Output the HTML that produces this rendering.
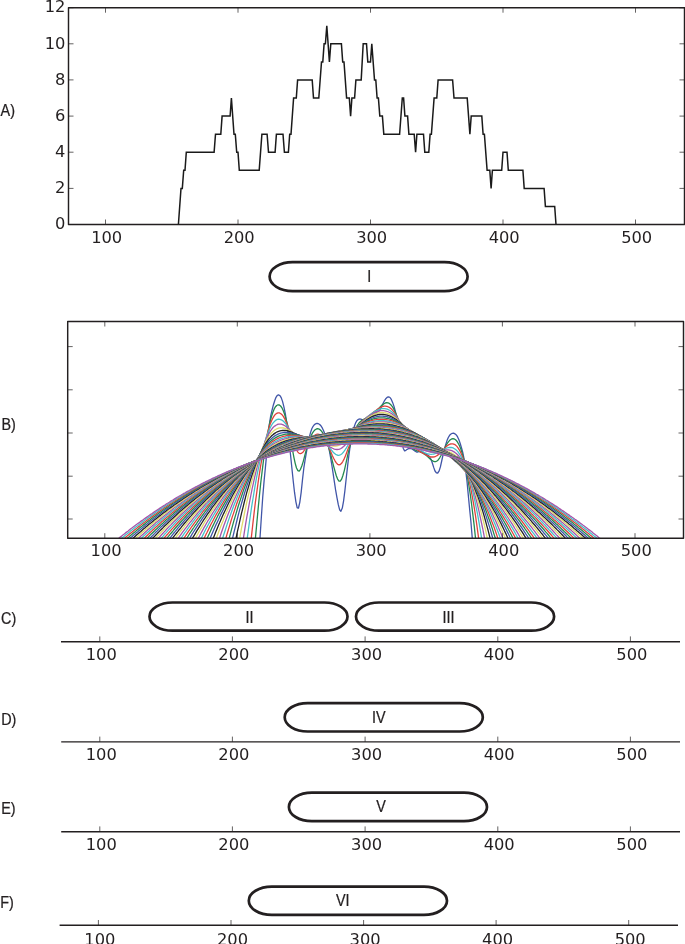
<!DOCTYPE html>
<html lang="en"><head><meta charset="utf-8"><title>Figure</title>
<style>
html,body{margin:0;padding:0;background:#fff;overflow:hidden}
svg{display:block}
.t{font-family:"DejaVu Sans","Liberation Sans",sans-serif;font-size:16.3px;fill:#231f20}
.l{font-family:"Liberation Sans","DejaVu Sans",sans-serif;font-size:16px;fill:#231f20;stroke:#231f20;stroke-width:.25}
.ax{stroke:#231f20;stroke-width:1.45;fill:none;stroke-linejoin:round}
.ln{stroke:#231f20;stroke-width:1.4;fill:none}
.tk{stroke:#231f20;stroke-width:0.7;fill:none}
.pill{stroke:#231f20;stroke-width:2.7;fill:none}
.c{fill:none;stroke-width:1.3;stroke-linejoin:round}
</style></head>
<body>
<svg width="685" height="944" viewBox="0 0 685 944">
<rect width="685" height="944" fill="#fff"/>
<!-- panel A -->
<polyline fill="none" stroke="#1a1a1a" stroke-width="1.5" stroke-linejoin="miter" points="178.4,224.5 181,188.4 182.3,188.4 183.7,170.3 185,170.3 186.3,152.2 214.1,152.2 215.5,134.2 220.8,134.2 222.1,116.1 230.1,116.1 231.4,98 234,134.2 235.3,134.2 236.7,152.2 238,152.2 239.3,170.3 259.2,170.3 261.9,134.2 267.1,134.2 268.5,152.2 275.1,152.2 276.4,134.2 283,134.2 284.4,152.2 288.4,152.2 289.7,134.2 291,134.2 293.6,98 296.3,98 297.6,79.9 312.2,79.9 313.5,98 318.8,98 321.5,61.9 322.8,61.9 324.1,43.8 325.4,43.8 326.8,25.7 329.4,61.9 330.8,43.8 341.4,43.8 342.7,61.9 344,61.9 346.6,98 349.3,98 350.6,116.1 351.9,98 354.6,98 355.9,79.9 361.2,79.9 363.2,43.8 366.5,43.8 367.8,61.9 370.5,61.9 371.8,43.8 374.5,79.9 375.8,79.9 377.1,98 378.4,98 379.8,116.1 382.4,116.1 383.8,134.2 399.6,134.2 402.3,98 403.6,98 404.9,116.1 407.6,116.1 408.9,134.2 414.2,134.2 415.6,152.2 416.9,134.2 423.5,134.2 424.8,152.2 428.8,152.2 430.1,134.2 431.4,134.2 434.1,98 436.8,98 438.1,79.9 452.6,79.9 454,98 467.2,98 469.9,134.2 471.2,116.1 481.8,116.1 483.1,134.2 484.4,134.2 487.1,170.3 489.8,170.3 491.1,188.4 492.4,170.3 501.7,170.3 503,152.2 507,152.2 508.3,170.3 522.9,170.3 524.2,188.4 544.1,188.4 545.4,206.4 554.7,206.4 556,224.5"/>
<rect class="ax" x="68.5" y="7.7" width="616" height="216.8"/>
<path class="tk" d="M105.5 224.5v-5M105.5 7.7v5M238 224.5v-5M238 7.7v5M370.5 224.5v-5M370.5 7.7v5M503 224.5v-5M503 7.7v5M635.5 224.5v-5M635.5 7.7v5M68.5 224.5h5M684.5 224.5h-5M68.5 188.4h5M684.5 188.4h-5M68.5 152.2h5M684.5 152.2h-5M68.5 116.1h5M684.5 116.1h-5M68.5 79.9h5M684.5 79.9h-5M68.5 43.8h5M684.5 43.8h-5M68.5 7.7h5M684.5 7.7h-5"/>
<text class="t" x="106.7" y="242.5" text-anchor="middle">100</text>
<text class="t" x="239.2" y="242.5" text-anchor="middle">200</text>
<text class="t" x="371.7" y="242.5" text-anchor="middle">300</text>
<text class="t" x="504.2" y="242.5" text-anchor="middle">400</text>
<text class="t" x="636.7" y="242.5" text-anchor="middle">500</text>
<text class="t" x="65.4" y="229.2" text-anchor="end">0</text>
<text class="t" x="65.4" y="193.1" text-anchor="end">2</text>
<text class="t" x="65.4" y="156.9" text-anchor="end">4</text>
<text class="t" x="65.4" y="120.8" text-anchor="end">6</text>
<text class="t" x="65.4" y="84.6" text-anchor="end">8</text>
<text class="t" x="65.4" y="48.5" text-anchor="end">10</text>
<text class="t" x="65.4" y="12.4" text-anchor="end">12</text>
<text class="l" transform="translate(0.6 116) scale(.9 1)">A)</text>
<rect class="pill" x="269.6" y="262.1" width="198" height="29" rx="23" ry="14.5"/>
<text class="l" transform="translate(369.2 281.9) scale(.9 1)" text-anchor="middle">I</text>
<!-- panel B -->
<clipPath id="cb"><rect x="67.7" y="321.5" width="615.8" height="216.7"/></clipPath>
<g clip-path="url(#cb)">
<polyline class="c" stroke="#4055a8" points="258.8,557 260.1,536.5 261.4,516.5 262.7,497.5 264.1,480.9 265.4,467.5 266.7,453.6 268,437.1 269.4,424 270.7,415.9 272,410.3 273.3,405.2 274.7,400.7 276,397.3 277.3,395.3 278.6,394.8 280,395.7 281.3,397.9 282.6,401.6 283.9,406.8 285.3,413.6 286.6,422 287.9,431.9 289.2,443.2 290.6,455.5 291.9,468.2 293.2,480.7 294.5,492.2 295.9,501.8 297.2,507.8 298.5,508 299.8,502.3 301.2,492.1 302.5,479.6 303.8,468.2 305.2,459.3 306.5,451.9 307.8,444.7 309.1,437.9 310.5,432.6 311.8,428.8 313.1,426.3 314.4,424.6 315.8,423.7 317.1,423.4 318.4,423.7 319.7,424.5 321.1,426 322.4,428.2 323.7,431.1 325,434.5 326.4,438.4 327.7,443 329,448.7 330.3,455.9 331.7,464.1 333,472.7 334.3,481.4 335.6,489.9 337,497.8 338.3,504.7 339.6,509.7 340.9,511.2 342.3,508.1 343.6,500.8 344.9,490.6 346.2,478.5 347.6,466.1 348.9,455.1 350.2,446 351.5,438.3 352.9,431.9 354.2,426.8 355.5,423.1 356.8,420.7 358.2,419.4 359.5,419 360.8,419.2 362.1,419.6 363.5,419.9 364.8,419.8 366.1,419.4 367.4,418.8 368.8,418.1 370.1,417.3 371.4,416.4 372.8,415.4 374.1,414.4 375.4,413.4 376.7,412.5 378.1,411.6 379.4,410.4 380.7,408.3 382,405.6 383.4,402.8 384.7,400.3 386,398.4 387.3,397.2 388.7,396.9 390,397.5 391.3,399.4 392.6,402.4 394,406.4 395.3,411.1 396.6,416 397.9,421 399.3,426.2 400.6,432.5 401.9,440.4 403.2,448.2 404.6,450.9 405.9,450.3 407.2,449.3 408.5,448.7 409.9,448.5 411.2,448.6 412.5,449.2 413.8,450.2 415.2,451.2 416.5,452 417.8,452 419.1,451.6 420.5,451.3 421.8,451.6 423.1,452.4 424.4,453.3 425.8,454.1 427.1,454.7 428.4,455.5 429.7,457 431.1,459.6 432.4,463.2 433.7,467.4 435,471 436.4,472.9 437.7,473 439,471.2 440.4,466.9 441.7,461 443,455 444.3,449.5 445.7,444.6 447,440.6 448.3,437.5 449.6,435.3 451,434 452.3,433.3 453.6,433.2 454.9,433.8 456.3,434.9 457.6,436.9 458.9,439.8 460.2,443.5 461.6,448.1 462.9,453 464.2,459.7 465.5,468.9 466.9,480.3 468.2,494.1 469.5,507.8 470.8,520.5 472.2,537.2 473.5,558.9"/>
<polyline class="c" stroke="#23894f" points="254.1,554.4 255.4,538.4 256.8,523.3 258.1,509.1 259.4,495.7 260.7,483.3 262.1,471.7 263.4,461.1 264.7,451.4 266,442.7 267.4,434.8 268.7,427.9 270,422 271.4,416.9 272.7,412.7 274,409.4 275.3,407 276.7,405.5 278,404.8 279.3,405 280.6,406 282,407.9 283.3,410.7 284.6,414.3 285.9,418.7 287.3,423.9 288.6,429.8 289.9,436.3 291.2,443.3 292.6,450.4 293.9,457.3 295.2,463.3 296.5,468 297.9,470.6 299.2,471.1 300.5,469.3 301.8,466 303.2,461.6 304.5,456.6 305.8,451.7 307.1,447 308.5,442.7 309.8,438.9 311.1,435.7 312.4,433.1 313.8,431.1 315.1,429.8 316.4,429 317.7,428.7 319.1,429.1 320.4,430 321.7,431.4 323,433.3 324.4,435.8 325.7,438.8 327,442.3 328.3,446.4 329.7,450.8 331,455.7 332.3,460.8 333.6,466.1 335,471.2 336.3,475.7 337.6,479.1 339,481.1 340.3,481.1 341.6,479.2 342.9,475.5 344.3,470.6 345.6,464.8 346.9,458.8 348.2,452.9 349.6,447.3 350.9,442.1 352.2,437.6 353.5,433.6 354.9,430.2 356.2,427.4 357.5,425.1 358.8,423.3 360.2,421.8 361.5,420.7 362.8,419.7 364.1,419 365.5,418.3 366.8,417.6 368.1,416.9 369.4,416.2 370.8,415.4 372.1,414.4 373.4,413.4 374.7,412.3 376.1,411.1 377.4,409.7 378.7,408.4 380,407.1 381.4,405.8 382.7,404.6 384,403.7 385.3,403 386.7,402.7 388,402.9 389.3,403.4 390.6,404.5 392,406.1 393.3,408.1 394.6,410.7 395.9,413.7 397.3,417.1 398.6,420.8 399.9,424.6 401.2,428.6 402.6,432.4 403.9,435.9 405.2,439.1 406.6,441.9 407.9,444.1 409.2,445.9 410.5,447.3 411.9,448.3 413.2,449.1 414.5,449.7 415.8,450.3 417.2,450.8 418.5,451.2 419.8,451.7 421.1,452.3 422.5,453 423.8,453.7 425.1,454.6 426.4,455.6 427.8,456.8 429.1,458 430.4,459.2 431.7,460.3 433.1,461.1 434.4,461.6 435.7,461.6 437,461 438.4,459.7 439.7,457.8 441,455.5 442.3,452.9 443.7,450.2 445,447.5 446.3,445 447.6,442.8 449,441.1 450.3,439.8 451.6,439 452.9,438.7 454.3,439 455.6,439.8 456.9,441.2 458.2,443.3 459.6,446 460.9,449.3 462.2,453.4 463.5,458.1 464.9,463.6 466.2,469.9 467.5,477.1 468.8,485 470.2,493.8 471.5,503.5 472.8,514.2 474.2,525.7 475.5,538.2 476.8,551.7"/>
<polyline class="c" stroke="#e0413c" points="250.1,548.6 251.5,536.1 252.8,524.2 254.1,512.9 255.4,502.2 256.8,492.1 258.1,482.7 259.4,473.8 260.7,465.5 262.1,457.9 263.4,450.8 264.7,444.4 266,438.6 267.4,433.3 268.7,428.7 270,424.6 271.4,421.2 272.7,418.3 274,416.1 275.3,414.4 276.7,413.3 278,412.8 279.3,412.9 280.6,413.5 282,414.7 283.3,416.4 284.6,418.6 285.9,421.4 287.3,424.5 288.6,428 289.9,431.8 291.2,435.8 292.6,439.8 293.9,443.6 295.2,447.1 296.5,450 297.9,452.1 299.2,453.4 300.5,453.7 301.8,453.1 303.2,451.9 304.5,450 305.8,447.9 307.1,445.5 308.5,443.2 309.8,441 311.1,439 312.4,437.3 313.8,436 315.1,435 316.4,434.4 317.7,434.2 319.1,434.4 320.4,435 321.7,436 323,437.4 324.4,439.2 325.7,441.3 327,443.7 328.3,446.4 329.7,449.3 331,452.3 332.3,455.4 333.6,458.2 335,460.8 336.3,462.9 337.6,464.3 339,464.8 340.3,464.5 341.6,463.3 342.9,461.3 344.3,458.6 345.6,455.4 346.9,452 348.2,448.4 349.6,444.9 350.9,441.4 352.2,438.1 353.5,435.1 354.9,432.3 356.2,429.8 357.5,427.6 358.8,425.6 360.2,423.8 361.5,422.2 362.8,420.8 364.1,419.5 365.5,418.4 366.8,417.3 368.1,416.2 369.4,415.2 370.8,414.2 372.1,413.2 373.4,412.2 374.7,411.2 376.1,410.3 377.4,409.3 378.7,408.5 380,407.7 381.4,407 382.7,406.5 384,406.2 385.3,406.1 386.7,406.3 388,406.7 389.3,407.4 390.6,408.3 392,409.6 393.3,411.1 394.6,412.9 395.9,415 397.3,417.3 398.6,419.8 399.9,422.4 401.2,425.2 402.6,428 403.9,430.8 405.2,433.5 406.6,436.1 407.9,438.5 409.2,440.7 410.5,442.7 411.9,444.5 413.2,446 414.5,447.4 415.8,448.5 417.2,449.6 418.5,450.5 419.8,451.4 421.1,452.2 422.5,453 423.8,453.8 425.1,454.5 426.4,455.2 427.8,455.8 429.1,456.4 430.4,456.8 431.7,457 433.1,457 434.4,456.8 435.7,456.3 437,455.6 438.4,454.6 439.7,453.5 441,452.1 442.3,450.7 443.7,449.3 445,447.9 446.3,446.6 447.6,445.5 449,444.6 450.3,444 451.6,443.8 452.9,443.8 454.3,444.3 455.6,445.1 456.9,446.4 458.2,448.1 459.6,450.3 460.9,452.9 462.2,456 463.5,459.6 464.9,463.7 466.2,468.3 467.5,473.5 468.8,479.1 470.2,485.3 471.5,492.1 472.8,499.4 474.2,507.3 475.5,515.7 476.8,524.8 478.1,534.4 479.5,544.6 480.1,549.9"/>
<polyline class="c" stroke="#45c0c8" points="245.5,551.7 246.8,541.2 248.2,531.2 249.5,521.6 250.8,512.5 252.1,503.8 253.5,495.5 254.8,487.6 256.1,480.2 257.4,473.2 258.8,466.6 260.1,460.5 261.4,454.8 262.7,449.5 264.1,444.7 265.4,440.3 266.7,436.3 268,432.7 269.4,429.6 270.7,426.8 272,424.5 273.3,422.6 274.7,421.2 276,420.1 277.3,419.4 278.6,419.2 280,419.3 281.3,419.8 282.6,420.6 283.9,421.7 285.3,423.2 286.6,425 287.9,426.9 289.2,429.1 290.6,431.4 291.9,433.7 293.2,436 294.5,438.2 295.9,440.2 297.2,441.9 298.5,443.3 299.8,444.3 301.2,444.9 302.5,445.1 303.8,444.9 305.2,444.5 306.5,443.8 307.8,442.9 309.1,442 310.5,441.1 311.8,440.3 313.1,439.5 314.4,439 315.8,438.6 317.1,438.4 318.4,438.5 319.7,438.8 321.1,439.4 322.4,440.2 323.7,441.3 325,442.5 326.4,443.9 327.7,445.5 329,447.1 330.3,448.8 331.7,450.4 333,452 334.3,453.3 335.6,454.3 337,455 338.3,455.3 339.6,455.1 340.9,454.5 342.3,453.4 343.6,452 344.9,450.1 346.2,448.1 347.6,445.8 348.9,443.4 350.2,441 351.5,438.5 352.9,436.1 354.2,433.8 355.5,431.6 356.8,429.5 358.2,427.5 359.5,425.7 360.8,423.9 362.1,422.3 363.5,420.8 364.8,419.4 366.1,418.1 367.4,416.9 368.8,415.8 370.1,414.7 371.4,413.7 372.8,412.8 374.1,411.9 375.4,411.1 376.7,410.4 378.1,409.8 379.4,409.3 380.7,408.9 382,408.7 383.4,408.6 384.7,408.6 386,408.8 387.3,409.2 388.7,409.8 390,410.5 391.3,411.5 392.6,412.6 394,413.9 395.3,415.4 396.6,417.1 397.9,418.9 399.3,420.8 400.6,422.8 401.9,424.9 403.2,427.1 404.6,429.3 405.9,431.5 407.2,433.7 408.5,435.8 409.9,437.9 411.2,439.8 412.5,441.7 413.8,443.4 415.2,445 416.5,446.4 417.8,447.7 419.1,448.9 420.5,450 421.8,451 423.1,451.8 424.4,452.5 425.8,453.1 427.1,453.6 428.4,454 429.7,454.2 431.1,454.3 432.4,454.2 433.7,454 435,453.7 436.4,453.2 437.7,452.6 439,452 440.4,451.2 441.7,450.5 443,449.8 444.3,449.1 445.7,448.5 447,448 448.3,447.6 449.6,447.5 451,447.5 452.3,447.7 453.6,448.2 454.9,449 456.3,450.1 457.6,451.4 458.9,453.1 460.2,455.1 461.6,457.4 462.9,460.1 464.2,463.1 465.5,466.5 466.9,470.2 468.2,474.3 469.5,478.8 470.8,483.7 472.2,489 473.5,494.6 474.8,500.7 476.1,507.1 477.5,513.9 478.8,521.2 480.1,528.8 481.4,536.9 482.8,545.4 483.4,549.8"/>
<polyline class="c" stroke="#a556ab" points="241.5,550.5 242.9,541.6 244.2,533.1 245.5,524.9 246.8,517.1 248.2,509.6 249.5,502.3 250.8,495.5 252.1,488.9 253.5,482.7 254.8,476.7 256.1,471.1 257.4,465.9 258.8,460.9 260.1,456.3 261.4,452 262.7,448 264.1,444.3 265.4,440.9 266.7,437.9 268,435.2 269.4,432.8 270.7,430.6 272,428.8 273.3,427.3 274.7,426.1 276,425.2 277.3,424.5 278.6,424.2 280,424.1 281.3,424.2 282.6,424.6 283.9,425.2 285.3,426 286.6,427 287.9,428.1 289.2,429.4 290.6,430.7 291.9,432.1 293.2,433.5 294.5,434.8 295.9,436.1 297.2,437.3 298.5,438.4 299.8,439.3 301.2,440 302.5,440.6 303.8,441 305.2,441.2 306.5,441.3 307.8,441.3 309.1,441.2 310.5,441.1 311.8,441 313.1,440.9 314.4,440.8 315.8,440.8 317.1,440.9 318.4,441.1 319.7,441.4 321.1,441.9 322.4,442.4 323.7,443.1 325,443.8 326.4,444.6 327.7,445.4 329,446.3 330.3,447.1 331.7,447.9 333,448.5 334.3,449.1 335.6,449.4 337,449.5 338.3,449.4 339.6,449.1 340.9,448.5 342.3,447.6 343.6,446.5 344.9,445.2 346.2,443.7 347.6,442.1 348.9,440.4 350.2,438.5 351.5,436.7 352.9,434.8 354.2,432.9 355.5,431.1 356.8,429.3 358.2,427.5 359.5,425.9 360.8,424.3 362.1,422.8 363.5,421.3 364.8,420 366.1,418.7 367.4,417.5 368.8,416.4 370.1,415.4 371.4,414.5 372.8,413.7 374.1,412.9 375.4,412.3 376.7,411.7 378.1,411.3 379.4,410.9 380.7,410.7 382,410.6 383.4,410.6 384.7,410.8 386,411.1 387.3,411.5 388.7,412 390,412.7 391.3,413.5 392.6,414.4 394,415.5 395.3,416.7 396.6,418 397.9,419.5 399.3,421 400.6,422.6 401.9,424.3 403.2,426.1 404.6,427.9 405.9,429.7 407.2,431.5 408.5,433.4 409.9,435.2 411.2,437 412.5,438.7 413.8,440.4 415.2,441.9 416.5,443.4 417.8,444.8 419.1,446.1 420.5,447.2 421.8,448.3 423.1,449.2 424.4,450 425.8,450.6 427.1,451.1 428.4,451.5 429.7,451.8 431.1,452 432.4,452 433.7,452 435,451.8 436.4,451.6 437.7,451.4 439,451.1 440.4,450.8 441.7,450.5 443,450.2 444.3,450 445.7,449.9 447,449.8 448.3,449.9 449.6,450.1 451,450.4 452.3,450.9 453.6,451.6 454.9,452.4 456.3,453.5 457.6,454.8 458.9,456.3 460.2,458 461.6,460 462.9,462.3 464.2,464.7 465.5,467.5 466.9,470.5 468.2,473.8 469.5,477.4 470.8,481.2 472.2,485.4 473.5,489.8 474.8,494.5 476.1,499.5 477.5,504.8 478.8,510.4 480.1,516.3 481.4,522.5 482.8,529 484.1,535.8 485.4,542.9 486.7,550.3"/>
<polyline class="c" stroke="#e0da6a" points="237.5,550.3 238.9,542.7 240.2,535.3 241.5,528.2 242.9,521.3 244.2,514.6 245.5,508.2 246.8,502.1 248.2,496.2 249.5,490.6 250.8,485.2 252.1,480.1 253.5,475.2 254.8,470.6 256.1,466.2 257.4,462 258.8,458.1 260.1,454.5 261.4,451.1 262.7,447.9 264.1,445 265.4,442.3 266.7,439.9 268,437.7 269.4,435.7 270.7,434 272,432.5 273.3,431.2 274.7,430.1 276,429.3 277.3,428.6 278.6,428.1 280,427.9 281.3,427.8 282.6,427.8 283.9,428 285.3,428.4 286.6,428.9 287.9,429.5 289.2,430.2 290.6,431 291.9,431.8 293.2,432.6 294.5,433.5 295.9,434.4 297.2,435.2 298.5,436 299.8,436.8 301.2,437.5 302.5,438.1 303.8,438.6 305.2,439.1 306.5,439.6 307.8,439.9 309.1,440.2 310.5,440.5 311.8,440.8 313.1,441 314.4,441.3 315.8,441.5 317.1,441.8 318.4,442.1 319.7,442.4 321.1,442.8 322.4,443.2 323.7,443.6 325,444 326.4,444.4 327.7,444.8 329,445.2 330.3,445.5 331.7,445.8 333,446 334.3,446 335.6,446 337,445.8 338.3,445.5 339.6,445 340.9,444.3 342.3,443.5 343.6,442.6 344.9,441.5 346.2,440.4 347.6,439.1 348.9,437.7 350.2,436.2 351.5,434.8 352.9,433.2 354.2,431.7 355.5,430.2 356.8,428.7 358.2,427.2 359.5,425.8 360.8,424.4 362.1,423 363.5,421.8 364.8,420.6 366.1,419.4 367.4,418.4 368.8,417.4 370.1,416.5 371.4,415.7 372.8,415 374.1,414.3 375.4,413.8 376.7,413.3 378.1,413 379.4,412.7 380.7,412.6 382,412.5 383.4,412.6 384.7,412.8 386,413 387.3,413.4 388.7,413.9 390,414.5 391.3,415.2 392.6,416 394,416.9 395.3,417.9 396.6,419 397.9,420.2 399.3,421.4 400.6,422.7 401.9,424.1 403.2,425.6 404.6,427.1 405.9,428.6 407.2,430.2 408.5,431.7 409.9,433.3 411.2,434.9 412.5,436.4 413.8,437.9 415.2,439.3 416.5,440.7 417.8,442 419.1,443.3 420.5,444.4 421.8,445.5 423.1,446.4 424.4,447.3 425.8,448 427.1,448.6 428.4,449.2 429.7,449.6 431.1,450 432.4,450.2 433.7,450.4 435,450.6 436.4,450.6 437.7,450.7 439,450.7 440.4,450.8 441.7,450.8 443,450.9 444.3,451 445.7,451.2 447,451.4 448.3,451.8 449.6,452.2 451,452.7 452.3,453.4 453.6,454.2 454.9,455.1 456.3,456.2 457.6,457.4 458.9,458.8 460.2,460.4 461.6,462.2 462.9,464.1 464.2,466.3 465.5,468.6 466.9,471.2 468.2,473.9 469.5,476.8 470.8,480 472.2,483.4 473.5,487 474.8,490.8 476.1,494.9 477.5,499.1 478.8,503.6 480.1,508.3 481.4,513.3 482.8,518.5 484.1,523.9 485.4,529.5 486.7,535.4 488.1,541.6 489.4,547.9 490.1,551.2"/>
<polyline class="c" stroke="#222222" points="233.6,550.8 234.9,544.1 236.2,537.5 237.5,531.2 238.9,525.1 240.2,519.1 241.5,513.4 242.9,507.9 244.2,502.5 245.5,497.4 246.8,492.4 248.2,487.7 249.5,483.2 250.8,478.8 252.1,474.7 253.5,470.7 254.8,467 256.1,463.4 257.4,460.1 258.8,456.9 260.1,453.9 261.4,451.2 262.7,448.6 264.1,446.2 265.4,443.9 266.7,441.9 268,440 269.4,438.4 270.7,436.9 272,435.5 273.3,434.4 274.7,433.4 276,432.5 277.3,431.8 278.6,431.3 280,430.9 281.3,430.6 282.6,430.5 283.9,430.5 285.3,430.5 286.6,430.7 287.9,431 289.2,431.4 290.6,431.8 291.9,432.2 293.2,432.8 294.5,433.3 295.9,433.9 297.2,434.5 298.5,435.1 299.8,435.7 301.2,436.3 302.5,436.8 303.8,437.4 305.2,437.9 306.5,438.4 307.8,438.9 309.1,439.3 310.5,439.8 311.8,440.2 313.1,440.6 314.4,440.9 315.8,441.3 317.1,441.6 318.4,442 319.7,442.3 321.1,442.6 322.4,442.9 323.7,443.1 325,443.4 326.4,443.6 327.7,443.7 329,443.8 330.3,443.9 331.7,443.9 333,443.8 334.3,443.6 335.6,443.4 337,443 338.3,442.5 339.6,442 340.9,441.3 342.3,440.6 343.6,439.7 344.9,438.8 346.2,437.7 347.6,436.7 348.9,435.5 350.2,434.3 351.5,433.1 352.9,431.8 354.2,430.6 355.5,429.3 356.8,428.1 358.2,426.8 359.5,425.6 360.8,424.4 362.1,423.3 363.5,422.2 364.8,421.2 366.1,420.2 367.4,419.3 368.8,418.5 370.1,417.7 371.4,417 372.8,416.4 374.1,415.8 375.4,415.4 376.7,415 378.1,414.7 379.4,414.5 380.7,414.4 382,414.4 383.4,414.5 384.7,414.6 386,414.9 387.3,415.2 388.7,415.6 390,416.1 391.3,416.7 392.6,417.4 394,418.2 395.3,419 396.6,419.9 397.9,420.9 399.3,422 400.6,423.1 401.9,424.2 403.2,425.4 404.6,426.7 405.9,428 407.2,429.3 408.5,430.6 409.9,432 411.2,433.3 412.5,434.7 413.8,436 415.2,437.3 416.5,438.5 417.8,439.7 419.1,440.9 420.5,442 421.8,443 423.1,444 424.4,444.8 425.8,445.7 427.1,446.4 428.4,447.1 429.7,447.7 431.1,448.2 432.4,448.7 433.7,449.1 435,449.5 436.4,449.8 437.7,450.2 439,450.5 440.4,450.8 441.7,451.1 443,451.5 444.3,451.8 445.7,452.2 447,452.7 448.3,453.2 449.6,453.9 451,454.5 452.3,455.3 453.6,456.2 454.9,457.2 456.3,458.3 457.6,459.5 458.9,460.8 460.2,462.3 461.6,463.9 462.9,465.7 464.2,467.6 465.5,469.6 466.9,471.8 468.2,474.2 469.5,476.7 470.8,479.4 472.2,482.3 473.5,485.3 474.8,488.5 476.1,491.9 477.5,495.4 478.8,499.1 480.1,503 481.4,507.1 482.8,511.4 484.1,515.8 485.4,520.5 486.7,525.3 488.1,530.3 489.4,535.5 490.7,540.9 492,546.4 492.7,549.3"/>
<polyline class="c" stroke="#4055a8" points="230.3,548.6 231.6,542.7 232.9,536.9 234.2,531.3 235.6,525.8 236.9,520.5 238.2,515.4 239.5,510.4 240.9,505.6 242.2,501 243.5,496.5 244.8,492.2 246.2,488 247.5,484 248.8,480.2 250.1,476.5 251.5,473 252.8,469.7 254.1,466.5 255.4,463.4 256.8,460.5 258.1,457.8 259.4,455.2 260.7,452.8 262.1,450.5 263.4,448.4 264.7,446.4 266,444.6 267.4,442.9 268.7,441.3 270,439.9 271.4,438.7 272.7,437.5 274,436.5 275.3,435.6 276.7,434.8 278,434.2 279.3,433.7 280.6,433.2 282,432.9 283.3,432.7 284.6,432.5 285.9,432.5 287.3,432.5 288.6,432.6 289.9,432.8 291.2,433 292.6,433.3 293.9,433.6 295.2,433.9 296.5,434.3 297.9,434.8 299.2,435.2 300.5,435.7 301.8,436.1 303.2,436.6 304.5,437.1 305.8,437.5 307.1,438 308.5,438.4 309.8,438.9 311.1,439.3 312.4,439.7 313.8,440.1 315.1,440.4 316.4,440.8 317.7,441.1 319.1,441.3 320.4,441.6 321.7,441.8 323,442 324.4,442.1 325.7,442.2 327,442.3 328.3,442.3 329.7,442.2 331,442.1 332.3,441.9 333.6,441.7 335,441.3 336.3,440.9 337.6,440.5 339,439.9 340.3,439.3 341.6,438.6 342.9,437.9 344.3,437 345.6,436.2 346.9,435.3 348.2,434.3 349.6,433.3 350.9,432.3 352.2,431.2 353.5,430.2 354.9,429.1 356.2,428.1 357.5,427 358.8,426 360.2,425 361.5,424.1 362.8,423.1 364.1,422.2 365.5,421.4 366.8,420.6 368.1,419.9 369.4,419.2 370.8,418.6 372.1,418 373.4,417.6 374.7,417.1 376.1,416.8 377.4,416.5 378.7,416.3 380,416.2 381.4,416.2 382.7,416.2 384,416.3 385.3,416.5 386.7,416.7 388,417 389.3,417.4 390.6,417.9 392,418.4 393.3,419.1 394.6,419.7 395.9,420.5 397.3,421.3 398.6,422.1 399.9,423 401.2,424 402.6,425 403.9,426 405.2,427.1 406.6,428.2 407.9,429.3 409.2,430.5 410.5,431.6 411.9,432.8 413.2,434 414.5,435.1 415.8,436.2 417.2,437.3 418.5,438.4 419.8,439.5 421.1,440.5 422.5,441.5 423.8,442.4 425.1,443.3 426.4,444.1 427.8,444.9 429.1,445.7 430.4,446.4 431.7,447 433.1,447.7 434.4,448.3 435.7,448.8 437,449.4 438.4,449.9 439.7,450.4 441,451 442.3,451.5 443.7,452.1 445,452.7 446.3,453.3 447.6,454 449,454.7 450.3,455.5 451.6,456.3 452.9,457.2 454.3,458.2 455.6,459.3 456.9,460.4 458.2,461.7 459.6,463 460.9,464.5 462.2,466.1 463.5,467.7 464.9,469.5 466.2,471.4 467.5,473.5 468.8,475.6 470.2,477.9 471.5,480.3 472.8,482.9 474.2,485.6 475.5,488.4 476.8,491.3 478.1,494.4 479.5,497.7 480.8,501.1 482.1,504.6 483.4,508.3 484.8,512.1 486.1,516.1 487.4,520.2 488.7,524.4 490.1,528.9 491.4,533.4 492.7,538.2 494,543 495.4,548.1"/>
<polyline class="c" stroke="#23894f" points="226.3,550 227.6,544.6 228.9,539.3 230.3,534.2 231.6,529.2 232.9,524.4 234.2,519.7 235.6,515.1 236.9,510.6 238.2,506.3 239.5,502.2 240.9,498.1 242.2,494.2 243.5,490.4 244.8,486.8 246.2,483.3 247.5,479.9 248.8,476.7 250.1,473.6 251.5,470.6 252.8,467.7 254.1,465 255.4,462.4 256.8,460 258.1,457.6 259.4,455.4 260.7,453.3 262.1,451.3 263.4,449.5 264.7,447.7 266,446.1 267.4,444.6 268.7,443.2 270,441.9 271.4,440.8 272.7,439.7 274,438.7 275.3,437.9 276.7,437.1 278,436.4 279.3,435.9 280.6,435.4 282,435 283.3,434.6 284.6,434.4 285.9,434.2 287.3,434.1 288.6,434.1 289.9,434.1 291.2,434.1 292.6,434.3 293.9,434.4 295.2,434.6 296.5,434.9 297.9,435.2 299.2,435.5 300.5,435.8 301.8,436.1 303.2,436.5 304.5,436.8 305.8,437.2 307.1,437.6 308.5,437.9 309.8,438.3 311.1,438.6 312.4,439 313.8,439.3 315.1,439.6 316.4,439.8 317.7,440.1 319.1,440.3 320.4,440.5 321.7,440.6 323,440.7 324.4,440.8 325.7,440.8 327,440.8 328.3,440.7 329.7,440.5 331,440.3 332.3,440.1 333.6,439.8 335,439.4 336.3,439 337.6,438.5 339,438 340.3,437.4 341.6,436.7 342.9,436 344.3,435.3 345.6,434.6 346.9,433.8 348.2,432.9 349.6,432.1 350.9,431.2 352.2,430.3 353.5,429.4 354.9,428.6 356.2,427.7 357.5,426.8 358.8,426 360.2,425.1 361.5,424.3 362.8,423.6 364.1,422.8 365.5,422.1 366.8,421.5 368.1,420.9 369.4,420.3 370.8,419.8 372.1,419.3 373.4,418.9 374.7,418.6 376.1,418.3 377.4,418.1 378.7,417.9 380,417.8 381.4,417.8 382.7,417.8 384,417.9 385.3,418.1 386.7,418.3 388,418.5 389.3,418.9 390.6,419.3 392,419.7 393.3,420.3 394.6,420.8 395.9,421.4 397.3,422.1 398.6,422.8 399.9,423.6 401.2,424.4 402.6,425.3 403.9,426.2 405.2,427.1 406.6,428 407.9,429 409.2,430 410.5,431 411.9,432 413.2,433 414.5,434 415.8,435 417.2,436.1 418.5,437 419.8,438 421.1,439 422.5,439.9 423.8,440.9 425.1,441.8 426.4,442.6 427.8,443.5 429.1,444.3 430.4,445.1 431.7,445.8 433.1,446.6 434.4,447.3 435.7,448 437,448.7 438.4,449.4 439.7,450.1 441,450.8 442.3,451.5 443.7,452.3 445,453 446.3,453.8 447.6,454.6 449,455.4 450.3,456.3 451.6,457.2 452.9,458.2 454.3,459.3 455.6,460.4 456.9,461.5 458.2,462.8 459.6,464.1 460.9,465.5 462.2,467 463.5,468.6 464.9,470.2 466.2,472 467.5,473.8 468.8,475.8 470.2,477.8 471.5,480 472.8,482.2 474.2,484.6 475.5,487.1 476.8,489.7 478.1,492.4 479.5,495.2 480.8,498.1 482.1,501.2 483.4,504.3 484.8,507.6 486.1,511 487.4,514.6 488.7,518.2 490.1,522 491.4,525.9 492.7,529.9 494,534.1 495.4,538.3 496.7,542.7 498,547.3 498.7,549.6"/>
<polyline class="c" stroke="#e0413c" points="223,548.9 224.3,544 225.6,539.2 226.9,534.6 228.3,530 229.6,525.6 230.9,521.3 232.2,517.1 233.6,513.1 234.9,509.1 236.2,505.2 237.5,501.5 238.9,497.9 240.2,494.4 241.5,491 242.9,487.7 244.2,484.5 245.5,481.4 246.8,478.5 248.2,475.6 249.5,472.9 250.8,470.3 252.1,467.7 253.5,465.3 254.8,463 256.1,460.8 257.4,458.7 258.8,456.7 260.1,454.8 261.4,453 262.7,451.3 264.1,449.7 265.4,448.2 266.7,446.8 268,445.5 269.4,444.2 270.7,443.1 272,442.1 273.3,441.1 274.7,440.2 276,439.4 277.3,438.7 278.6,438.1 280,437.5 281.3,437 282.6,436.6 283.9,436.2 285.3,436 286.6,435.7 287.9,435.6 289.2,435.4 290.6,435.4 291.9,435.3 293.2,435.4 294.5,435.4 295.9,435.5 297.2,435.7 298.5,435.8 299.8,436 301.2,436.2 302.5,436.4 303.8,436.7 305.2,436.9 306.5,437.2 307.8,437.5 309.1,437.7 310.5,438 311.8,438.2 313.1,438.4 314.4,438.7 315.8,438.8 317.1,439 318.4,439.2 319.7,439.3 321.1,439.4 322.4,439.4 323.7,439.4 325,439.4 326.4,439.3 327.7,439.2 329,439 330.3,438.8 331.7,438.6 333,438.3 334.3,437.9 335.6,437.5 337,437.1 338.3,436.6 339.6,436.1 340.9,435.5 342.3,434.9 343.6,434.3 344.9,433.6 346.2,432.9 347.6,432.2 348.9,431.5 350.2,430.8 351.5,430 352.9,429.3 354.2,428.5 355.5,427.8 356.8,427.1 358.2,426.4 359.5,425.7 360.8,425 362.1,424.3 363.5,423.7 364.8,423.1 366.1,422.6 367.4,422 368.8,421.5 370.1,421.1 371.4,420.7 372.8,420.4 374.1,420 375.4,419.8 376.7,419.6 378.1,419.4 379.4,419.3 380.7,419.3 382,419.3 383.4,419.3 384.7,419.4 386,419.6 387.3,419.8 388.7,420.1 390,420.4 391.3,420.7 392.6,421.2 394,421.6 395.3,422.1 396.6,422.7 397.9,423.3 399.3,423.9 400.6,424.6 401.9,425.3 403.2,426 404.6,426.8 405.9,427.6 407.2,428.4 408.5,429.3 409.9,430.2 411.2,431.1 412.5,431.9 413.8,432.9 415.2,433.8 416.5,434.7 417.8,435.6 419.1,436.5 420.5,437.5 421.8,438.4 423.1,439.3 424.4,440.2 425.8,441 427.1,441.9 428.4,442.8 429.7,443.6 431.1,444.5 432.4,445.3 433.7,446.1 435,446.9 436.4,447.7 437.7,448.5 439,449.3 440.4,450.2 441.7,451 443,451.8 444.3,452.7 445.7,453.5 447,454.4 448.3,455.3 449.6,456.3 451,457.3 452.3,458.3 453.6,459.4 454.9,460.5 456.3,461.6 457.6,462.8 458.9,464.1 460.2,465.5 461.6,466.9 462.9,468.3 464.2,469.8 465.5,471.5 466.9,473.1 468.2,474.9 469.5,476.7 470.8,478.7 472.2,480.7 473.5,482.8 474.8,484.9 476.1,487.2 477.5,489.6 478.8,492 480.1,494.5 481.4,497.2 482.8,499.9 484.1,502.8 485.4,505.7 486.7,508.7 488.1,511.8 489.4,515.1 490.7,518.4 492,521.9 493.4,525.4 494.7,529 496,532.8 497.3,536.6 498.7,540.6 500,544.7 501.3,548.9"/>
<polyline class="c" stroke="#45c0c8" points="219.7,548.2 221,543.7 222.3,539.4 223.6,535.1 225,531 226.3,526.9 227.6,522.9 228.9,519.1 230.3,515.3 231.6,511.6 232.9,508 234.2,504.6 235.6,501.2 236.9,497.9 238.2,494.7 239.5,491.6 240.9,488.6 242.2,485.7 243.5,482.9 244.8,480.1 246.2,477.5 247.5,475 248.8,472.5 250.1,470.2 251.5,467.9 252.8,465.7 254.1,463.6 255.4,461.6 256.8,459.7 258.1,457.9 259.4,456.1 260.7,454.5 262.1,452.9 263.4,451.4 264.7,450 266,448.7 267.4,447.4 268.7,446.3 270,445.2 271.4,444.1 272.7,443.2 274,442.3 275.3,441.5 276.7,440.8 278,440.1 279.3,439.5 280.6,438.9 282,438.4 283.3,438 284.6,437.6 285.9,437.3 287.3,437 288.6,436.8 289.9,436.7 291.2,436.5 292.6,436.4 293.9,436.4 295.2,436.4 296.5,436.4 297.9,436.4 299.2,436.5 300.5,436.6 301.8,436.7 303.2,436.8 304.5,436.9 305.8,437.1 307.1,437.2 308.5,437.3 309.8,437.5 311.1,437.6 312.4,437.8 313.8,437.9 315.1,438 316.4,438.1 317.7,438.2 319.1,438.2 320.4,438.2 321.7,438.2 323,438.2 324.4,438.1 325.7,438 327,437.9 328.3,437.7 329.7,437.5 331,437.2 332.3,437 333.6,436.6 335,436.3 336.3,435.9 337.6,435.4 339,435 340.3,434.5 341.6,434 342.9,433.4 344.3,432.9 345.6,432.3 346.9,431.7 348.2,431.1 349.6,430.5 350.9,429.8 352.2,429.2 353.5,428.6 354.9,428 356.2,427.3 357.5,426.7 358.8,426.1 360.2,425.6 361.5,425 362.8,424.5 364.1,424 365.5,423.5 366.8,423.1 368.1,422.6 369.4,422.3 370.8,421.9 372.1,421.6 373.4,421.3 374.7,421.1 376.1,420.9 377.4,420.8 378.7,420.7 380,420.6 381.4,420.6 382.7,420.6 384,420.7 385.3,420.8 386.7,421 388,421.2 389.3,421.4 390.6,421.7 392,422.1 393.3,422.4 394.6,422.9 395.9,423.3 397.3,423.8 398.6,424.3 399.9,424.9 401.2,425.5 402.6,426.1 403.9,426.8 405.2,427.5 406.6,428.2 407.9,428.9 409.2,429.7 410.5,430.5 411.9,431.3 413.2,432.1 414.5,432.9 415.8,433.7 417.2,434.6 418.5,435.4 419.8,436.3 421.1,437.2 422.5,438 423.8,438.9 425.1,439.8 426.4,440.6 427.8,441.5 429.1,442.4 430.4,443.2 431.7,444.1 433.1,445 434.4,445.8 435.7,446.7 437,447.6 438.4,448.5 439.7,449.3 441,450.2 442.3,451.1 443.7,452 445,453 446.3,453.9 447.6,454.9 449,455.9 450.3,456.9 451.6,458 452.9,459.1 454.3,460.2 455.6,461.4 456.9,462.6 458.2,463.8 459.6,465.1 460.9,466.4 462.2,467.8 463.5,469.3 464.9,470.8 466.2,472.4 467.5,474 468.8,475.7 470.2,477.4 471.5,479.2 472.8,481.1 474.2,483.1 475.5,485.1 476.8,487.2 478.1,489.4 479.5,491.7 480.8,494 482.1,496.4 483.4,498.9 484.8,501.5 486.1,504.1 487.4,506.8 488.7,509.7 490.1,512.6 491.4,515.6 492.7,518.6 494,521.8 495.4,525 496.7,528.4 498,531.8 499.3,535.3 500.7,538.9 502,542.6 503.3,546.4 504,548.3"/>
<polyline class="c" stroke="#a556ab" points="215.7,549.9 217,545.7 218.3,541.7 219.7,537.7 221,533.8 222.3,530 223.6,526.3 225,522.6 226.3,519.1 227.6,515.6 228.9,512.2 230.3,508.9 231.6,505.7 232.9,502.6 234.2,499.5 235.6,496.6 236.9,493.7 238.2,490.9 239.5,488.1 240.9,485.5 242.2,482.9 243.5,480.4 244.8,478 246.2,475.7 247.5,473.4 248.8,471.3 250.1,469.2 251.5,467.2 252.8,465.2 254.1,463.3 255.4,461.5 256.8,459.8 258.1,458.2 259.4,456.6 260.7,455.1 262.1,453.7 263.4,452.3 264.7,451 266,449.8 267.4,448.6 268.7,447.5 270,446.5 271.4,445.5 272.7,444.6 274,443.8 275.3,443 276.7,442.3 278,441.6 279.3,441 280.6,440.4 282,439.9 283.3,439.4 284.6,439 285.9,438.7 287.3,438.3 288.6,438.1 289.9,437.8 291.2,437.6 292.6,437.4 293.9,437.3 295.2,437.2 296.5,437.1 297.9,437.1 299.2,437 300.5,437 301.8,437 303.2,437 304.5,437.1 305.8,437.1 307.1,437.1 308.5,437.2 309.8,437.2 311.1,437.3 312.4,437.3 313.8,437.4 315.1,437.4 316.4,437.4 317.7,437.4 319.1,437.3 320.4,437.3 321.7,437.2 323,437.1 324.4,437 325.7,436.9 327,436.7 328.3,436.5 329.7,436.2 331,436 332.3,435.7 333.6,435.4 335,435 336.3,434.7 337.6,434.3 339,433.9 340.3,433.4 341.6,433 342.9,432.5 344.3,432 345.6,431.5 346.9,431 348.2,430.5 349.6,429.9 350.9,429.4 352.2,428.9 353.5,428.4 354.9,427.8 356.2,427.3 357.5,426.8 358.8,426.3 360.2,425.9 361.5,425.4 362.8,425 364.1,424.5 365.5,424.2 366.8,423.8 368.1,423.4 369.4,423.1 370.8,422.9 372.1,422.6 373.4,422.4 374.7,422.2 376.1,422.1 377.4,421.9 378.7,421.9 380,421.8 381.4,421.8 382.7,421.8 384,421.9 385.3,422 386.7,422.2 388,422.4 389.3,422.6 390.6,422.8 392,423.1 393.3,423.5 394.6,423.8 395.9,424.2 397.3,424.6 398.6,425.1 399.9,425.6 401.2,426.1 402.6,426.7 403.9,427.3 405.2,427.9 406.6,428.5 407.9,429.2 409.2,429.8 410.5,430.5 411.9,431.3 413.2,432 414.5,432.7 415.8,433.5 417.2,434.3 418.5,435.1 419.8,435.9 421.1,436.7 422.5,437.5 423.8,438.4 425.1,439.2 426.4,440.1 427.8,440.9 429.1,441.8 430.4,442.6 431.7,443.5 433.1,444.4 434.4,445.3 435.7,446.2 437,447.1 438.4,448 439.7,448.9 441,449.9 442.3,450.8 443.7,451.8 445,452.8 446.3,453.7 447.6,454.8 449,455.8 450.3,456.9 451.6,458 452.9,459.1 454.3,460.2 455.6,461.4 456.9,462.6 458.2,463.8 459.6,465.1 460.9,466.5 462.2,467.8 463.5,469.2 464.9,470.7 466.2,472.2 467.5,473.7 468.8,475.3 470.2,477 471.5,478.7 472.8,480.5 474.2,482.3 475.5,484.2 476.8,486.1 478.1,488.1 479.5,490.2 480.8,492.3 482.1,494.5 483.4,496.8 484.8,499.1 486.1,501.5 487.4,504 488.7,506.5 490.1,509.1 491.4,511.8 492.7,514.6 494,517.4 495.4,520.3 496.7,523.3 498,526.3 499.3,529.4 500.7,532.6 502,535.9 503.3,539.2 504.6,542.7 506,546.2 507.3,549.8"/>
<polyline class="c" stroke="#e0da6a" points="212.4,549.5 213.7,545.7 215,541.9 216.3,538.2 217.7,534.6 219,531.1 220.3,527.6 221.6,524.2 223,520.9 224.3,517.6 225.6,514.5 226.9,511.4 228.3,508.3 229.6,505.4 230.9,502.5 232.2,499.7 233.6,496.9 234.9,494.3 236.2,491.6 237.5,489.1 238.9,486.6 240.2,484.3 241.5,481.9 242.9,479.7 244.2,477.5 245.5,475.4 246.8,473.3 248.2,471.3 249.5,469.4 250.8,467.5 252.1,465.8 253.5,464 254.8,462.4 256.1,460.8 257.4,459.2 258.8,457.8 260.1,456.4 261.4,455 262.7,453.7 264.1,452.5 265.4,451.3 266.7,450.2 268,449.2 269.4,448.1 270.7,447.2 272,446.3 273.3,445.5 274.7,444.7 276,443.9 277.3,443.3 278.6,442.6 280,442 281.3,441.5 282.6,441 283.9,440.5 285.3,440.1 286.6,439.7 287.9,439.3 289.2,439 290.6,438.7 291.9,438.5 293.2,438.3 294.5,438.1 295.9,437.9 297.2,437.7 298.5,437.6 299.8,437.5 301.2,437.4 302.5,437.3 303.8,437.3 305.2,437.2 306.5,437.2 307.8,437.1 309.1,437.1 310.5,437 311.8,437 313.1,436.9 314.4,436.9 315.8,436.8 317.1,436.7 318.4,436.7 319.7,436.6 321.1,436.4 322.4,436.3 323.7,436.2 325,436 326.4,435.8 327.7,435.6 329,435.3 330.3,435.1 331.7,434.8 333,434.5 334.3,434.2 335.6,433.9 337,433.5 338.3,433.2 339.6,432.8 340.9,432.4 342.3,432 343.6,431.6 344.9,431.1 346.2,430.7 347.6,430.3 348.9,429.8 350.2,429.4 351.5,428.9 352.9,428.5 354.2,428 355.5,427.6 356.8,427.2 358.2,426.8 359.5,426.4 360.8,426 362.1,425.6 363.5,425.3 364.8,424.9 366.1,424.6 367.4,424.3 368.8,424.1 370.1,423.8 371.4,423.6 372.8,423.4 374.1,423.3 375.4,423.1 376.7,423 378.1,423 379.4,422.9 380.7,422.9 382,422.9 383.4,423 384.7,423.1 386,423.2 387.3,423.3 388.7,423.5 390,423.7 391.3,424 392.6,424.2 394,424.6 395.3,424.9 396.6,425.3 397.9,425.7 399.3,426.1 400.6,426.5 401.9,427 403.2,427.5 404.6,428.1 405.9,428.6 407.2,429.2 408.5,429.8 409.9,430.4 411.2,431.1 412.5,431.7 413.8,432.4 415.2,433.1 416.5,433.8 417.8,434.6 419.1,435.3 420.5,436.1 421.8,436.9 423.1,437.7 424.4,438.5 425.8,439.3 427.1,440.1 428.4,441 429.7,441.8 431.1,442.7 432.4,443.5 433.7,444.4 435,445.3 436.4,446.2 437.7,447.1 439,448.1 440.4,449 441.7,450 443,451 444.3,452 445.7,453 447,454 448.3,455 449.6,456.1 451,457.2 452.3,458.3 453.6,459.5 454.9,460.6 456.3,461.8 457.6,463 458.9,464.3 460.2,465.6 461.6,466.9 462.9,468.3 464.2,469.7 465.5,471.1 466.9,472.6 468.2,474.1 469.5,475.6 470.8,477.2 472.2,478.9 473.5,480.6 474.8,482.3 476.1,484.1 477.5,486 478.8,487.9 480.1,489.8 481.4,491.8 482.8,493.9 484.1,496 485.4,498.2 486.7,500.4 488.1,502.7 489.4,505 490.7,507.4 492,509.9 493.4,512.4 494.7,515 496,517.6 497.3,520.3 498.7,523.1 500,525.9 501.3,528.9 502.6,531.8 504,534.9 505.3,538 506.6,541.1 508,544.4 509.3,547.7 509.9,549.3"/>
<polyline class="c" stroke="#222222" points="209.1,549.3 210.4,545.7 211.7,542.2 213,538.8 214.4,535.4 215.7,532.1 217,528.9 218.3,525.7 219.7,522.6 221,519.5 222.3,516.5 223.6,513.6 225,510.7 226.3,507.9 227.6,505.2 228.9,502.5 230.3,499.9 231.6,497.3 232.9,494.8 234.2,492.4 235.6,490 236.9,487.7 238.2,485.5 239.5,483.3 240.9,481.2 242.2,479.1 243.5,477.1 244.8,475.2 246.2,473.3 247.5,471.4 248.8,469.7 250.1,467.9 251.5,466.3 252.8,464.7 254.1,463.1 255.4,461.6 256.8,460.2 258.1,458.8 259.4,457.5 260.7,456.2 262.1,455 263.4,453.8 264.7,452.7 266,451.6 267.4,450.6 268.7,449.6 270,448.7 271.4,447.8 272.7,447 274,446.2 275.3,445.5 276.7,444.8 278,444.1 279.3,443.5 280.6,442.9 282,442.3 283.3,441.8 284.6,441.4 285.9,440.9 287.3,440.5 288.6,440.1 289.9,439.8 291.2,439.5 292.6,439.2 293.9,438.9 295.2,438.7 296.5,438.4 297.9,438.2 299.2,438 300.5,437.9 301.8,437.7 303.2,437.6 304.5,437.4 305.8,437.3 307.1,437.2 308.5,437 309.8,436.9 311.1,436.8 312.4,436.7 313.8,436.6 315.1,436.4 316.4,436.3 317.7,436.2 319.1,436 320.4,435.9 321.7,435.7 323,435.5 324.4,435.3 325.7,435.1 327,434.9 328.3,434.7 329.7,434.4 331,434.2 332.3,433.9 333.6,433.6 335,433.3 336.3,433 337.6,432.6 339,432.3 340.3,432 341.6,431.6 342.9,431.2 344.3,430.9 345.6,430.5 346.9,430.1 348.2,429.7 349.6,429.4 350.9,429 352.2,428.6 353.5,428.2 354.9,427.9 356.2,427.5 357.5,427.2 358.8,426.8 360.2,426.5 361.5,426.2 362.8,425.9 364.1,425.6 365.5,425.3 366.8,425.1 368.1,424.9 369.4,424.7 370.8,424.5 372.1,424.3 373.4,424.2 374.7,424.1 376.1,424 377.4,423.9 378.7,423.9 380,423.9 381.4,423.9 382.7,423.9 384,424 385.3,424.1 386.7,424.2 388,424.4 389.3,424.6 390.6,424.8 392,425 393.3,425.3 394.6,425.6 395.9,425.9 397.3,426.3 398.6,426.6 399.9,427 401.2,427.5 402.6,427.9 403.9,428.4 405.2,428.9 406.6,429.4 407.9,429.9 409.2,430.5 410.5,431.1 411.9,431.7 413.2,432.3 414.5,432.9 415.8,433.6 417.2,434.3 418.5,435 419.8,435.7 421.1,436.4 422.5,437.2 423.8,437.9 425.1,438.7 426.4,439.5 427.8,440.3 429.1,441.1 430.4,442 431.7,442.8 433.1,443.7 434.4,444.6 435.7,445.5 437,446.4 438.4,447.3 439.7,448.2 441,449.2 442.3,450.2 443.7,451.1 445,452.1 446.3,453.2 447.6,454.2 449,455.3 450.3,456.3 451.6,457.5 452.9,458.6 454.3,459.7 455.6,460.9 456.9,462.1 458.2,463.3 459.6,464.6 460.9,465.9 462.2,467.2 463.5,468.5 464.9,469.9 466.2,471.3 467.5,472.8 468.8,474.2 470.2,475.8 471.5,477.3 472.8,478.9 474.2,480.5 475.5,482.2 476.8,483.9 478.1,485.7 479.5,487.5 480.8,489.3 482.1,491.2 483.4,493.2 484.8,495.2 486.1,497.2 487.4,499.3 488.7,501.4 490.1,503.6 491.4,505.8 492.7,508.1 494,510.5 495.4,512.8 496.7,515.3 498,517.8 499.3,520.3 500.7,522.9 502,525.6 503.3,528.3 504.6,531.1 506,533.9 507.3,536.8 508.6,539.8 509.9,542.8 511.3,545.8 512.6,549"/>
<polyline class="c" stroke="#4055a8" points="205.7,549.3 207.1,545.9 208.4,542.6 209.7,539.4 211,536.2 212.4,533.1 213.7,530.1 215,527.1 216.3,524.1 217.7,521.2 219,518.4 220.3,515.6 221.6,512.9 223,510.2 224.3,507.6 225.6,505.1 226.9,502.6 228.3,500.1 229.6,497.8 230.9,495.4 232.2,493.1 233.6,490.9 234.9,488.7 236.2,486.6 237.5,484.6 238.9,482.6 240.2,480.6 241.5,478.7 242.9,476.8 244.2,475 245.5,473.3 246.8,471.6 248.2,469.9 249.5,468.3 250.8,466.8 252.1,465.3 253.5,463.8 254.8,462.4 256.1,461.1 257.4,459.8 258.8,458.5 260.1,457.3 261.4,456.1 262.7,455 264.1,453.9 265.4,452.9 266.7,451.9 268,451 269.4,450 270.7,449.2 272,448.4 273.3,447.6 274.7,446.8 276,446.1 277.3,445.4 278.6,444.8 280,444.2 281.3,443.6 282.6,443.1 283.9,442.5 285.3,442.1 286.6,441.6 287.9,441.2 289.2,440.8 290.6,440.4 291.9,440.1 293.2,439.7 294.5,439.4 295.9,439.1 297.2,438.9 298.5,438.6 299.8,438.4 301.2,438.1 302.5,437.9 303.8,437.7 305.2,437.5 306.5,437.3 307.8,437.1 309.1,437 310.5,436.8 311.8,436.6 313.1,436.4 314.4,436.2 315.8,436.1 317.1,435.9 318.4,435.7 319.7,435.5 321.1,435.3 322.4,435.1 323.7,434.9 325,434.7 326.4,434.4 327.7,434.2 329,433.9 330.3,433.7 331.7,433.4 333,433.1 334.3,432.9 335.6,432.6 337,432.3 338.3,432 339.6,431.7 340.9,431.3 342.3,431 343.6,430.7 344.9,430.4 346.2,430 347.6,429.7 348.9,429.4 350.2,429.1 351.5,428.7 352.9,428.4 354.2,428.1 355.5,427.8 356.8,427.5 358.2,427.2 359.5,427 360.8,426.7 362.1,426.4 363.5,426.2 364.8,426 366.1,425.8 367.4,425.6 368.8,425.4 370.1,425.3 371.4,425.1 372.8,425 374.1,424.9 375.4,424.9 376.7,424.8 378.1,424.8 379.4,424.8 380.7,424.8 382,424.8 383.4,424.9 384.7,425 386,425.1 387.3,425.2 388.7,425.4 390,425.6 391.3,425.8 392.6,426 394,426.3 395.3,426.6 396.6,426.9 397.9,427.2 399.3,427.6 400.6,427.9 401.9,428.3 403.2,428.8 404.6,429.2 405.9,429.7 407.2,430.2 408.5,430.7 409.9,431.2 411.2,431.8 412.5,432.3 413.8,432.9 415.2,433.5 416.5,434.2 417.8,434.8 419.1,435.5 420.5,436.2 421.8,436.9 423.1,437.6 424.4,438.3 425.8,439.1 427.1,439.9 428.4,440.6 429.7,441.4 431.1,442.3 432.4,443.1 433.7,443.9 435,444.8 436.4,445.7 437.7,446.6 439,447.5 440.4,448.4 441.7,449.4 443,450.4 444.3,451.3 445.7,452.3 447,453.4 448.3,454.4 449.6,455.5 451,456.5 452.3,457.6 453.6,458.8 454.9,459.9 456.3,461.1 457.6,462.3 458.9,463.5 460.2,464.7 461.6,466 462.9,467.3 464.2,468.6 465.5,470 466.9,471.4 468.2,472.8 469.5,474.2 470.8,475.7 472.2,477.2 473.5,478.8 474.8,480.3 476.1,482 477.5,483.6 478.8,485.3 480.1,487 481.4,488.8 482.8,490.6 484.1,492.4 485.4,494.3 486.7,496.2 488.1,498.2 489.4,500.2 490.7,502.3 492,504.3 493.4,506.5 494.7,508.7 496,510.9 497.3,513.2 498.7,515.5 500,517.9 501.3,520.3 502.6,522.8 504,525.3 505.3,527.8 506.6,530.4 508,533.1 509.3,535.8 510.6,538.6 511.9,541.4 513.3,544.3 514.6,547.2 515.2,548.6"/>
<polyline class="c" stroke="#23894f" points="202.4,549.3 203.7,546.1 205.1,543 206.4,540 207.7,537 209.1,534.1 210.4,531.2 211.7,528.3 213,525.6 214.4,522.8 215.7,520.1 217,517.5 218.3,514.9 219.7,512.4 221,509.9 222.3,507.4 223.6,505.1 225,502.7 226.3,500.4 227.6,498.2 228.9,496 230.3,493.8 231.6,491.7 232.9,489.7 234.2,487.7 235.6,485.7 236.9,483.8 238.2,482 239.5,480.2 240.9,478.4 242.2,476.7 243.5,475 244.8,473.3 246.2,471.8 247.5,470.2 248.8,468.7 250.1,467.3 251.5,465.9 252.8,464.5 254.1,463.2 255.4,461.9 256.8,460.6 258.1,459.4 259.4,458.3 260.7,457.2 262.1,456.1 263.4,455 264.7,454 266,453.1 267.4,452.1 268.7,451.2 270,450.4 271.4,449.6 272.7,448.8 274,448 275.3,447.3 276.7,446.6 278,446 279.3,445.3 280.6,444.7 282,444.2 283.3,443.6 284.6,443.1 285.9,442.6 287.3,442.2 288.6,441.7 289.9,441.3 291.2,440.9 292.6,440.5 293.9,440.2 295.2,439.8 296.5,439.5 297.9,439.2 299.2,438.9 300.5,438.6 301.8,438.3 303.2,438 304.5,437.8 305.8,437.5 307.1,437.3 308.5,437.1 309.8,436.8 311.1,436.6 312.4,436.4 313.8,436.2 315.1,436 316.4,435.7 317.7,435.5 319.1,435.3 320.4,435.1 321.7,434.8 323,434.6 324.4,434.4 325.7,434.1 327,433.9 328.3,433.6 329.7,433.4 331,433.1 332.3,432.8 333.6,432.6 335,432.3 336.3,432 337.6,431.7 339,431.5 340.3,431.2 341.6,430.9 342.9,430.6 344.3,430.3 345.6,430 346.9,429.7 348.2,429.5 349.6,429.2 350.9,428.9 352.2,428.6 353.5,428.4 354.9,428.1 356.2,427.9 357.5,427.6 358.8,427.4 360.2,427.2 361.5,427 362.8,426.8 364.1,426.6 365.5,426.4 366.8,426.2 368.1,426.1 369.4,426 370.8,425.9 372.1,425.8 373.4,425.7 374.7,425.6 376.1,425.6 377.4,425.6 378.7,425.6 380,425.6 381.4,425.6 382.7,425.7 384,425.8 385.3,425.9 386.7,426 388,426.2 389.3,426.3 390.6,426.5 392,426.7 393.3,427 394.6,427.2 395.9,427.5 397.3,427.8 398.6,428.1 399.9,428.5 401.2,428.8 402.6,429.2 403.9,429.6 405.2,430 406.6,430.5 407.9,431 409.2,431.4 410.5,432 411.9,432.5 413.2,433 414.5,433.6 415.8,434.2 417.2,434.8 418.5,435.4 419.8,436.1 421.1,436.7 422.5,437.4 423.8,438.1 425.1,438.8 426.4,439.5 427.8,440.3 429.1,441 430.4,441.8 431.7,442.6 433.1,443.4 434.4,444.3 435.7,445.1 437,446 438.4,446.9 439.7,447.8 441,448.7 442.3,449.6 443.7,450.6 445,451.6 446.3,452.6 447.6,453.6 449,454.6 450.3,455.7 451.6,456.7 452.9,457.8 454.3,458.9 455.6,460.1 456.9,461.2 458.2,462.4 459.6,463.6 460.9,464.8 462.2,466.1 463.5,467.4 464.9,468.7 466.2,470 467.5,471.3 468.8,472.7 470.2,474.1 471.5,475.6 472.8,477 474.2,478.5 475.5,480 476.8,481.6 478.1,483.2 479.5,484.8 480.8,486.5 482.1,488.2 483.4,489.9 484.8,491.6 486.1,493.4 487.4,495.3 488.7,497.1 490.1,499 491.4,501 492.7,502.9 494,504.9 495.4,507 496.7,509.1 498,511.2 499.3,513.4 500.7,515.6 502,517.9 503.3,520.2 504.6,522.5 506,524.9 507.3,527.3 508.6,529.8 509.9,532.3 511.3,534.9 512.6,537.5 513.9,540.1 515.2,542.8 516.6,545.5 517.9,548.3"/>
<polyline class="c" stroke="#e0413c" points="199.1,549.4 200.4,546.4 201.8,543.5 203.1,540.6 204.4,537.8 205.7,535 207.1,532.3 208.4,529.6 209.7,526.9 211,524.3 212.4,521.8 213.7,519.2 215,516.8 216.3,514.4 217.7,512 219,509.6 220.3,507.3 221.6,505.1 223,502.9 224.3,500.7 225.6,498.6 226.9,496.5 228.3,494.5 229.6,492.5 230.9,490.6 232.2,488.7 233.6,486.8 234.9,485 236.2,483.2 237.5,481.5 238.9,479.8 240.2,478.1 241.5,476.5 242.9,475 244.2,473.4 245.5,471.9 246.8,470.5 248.2,469.1 249.5,467.7 250.8,466.4 252.1,465.1 253.5,463.8 254.8,462.6 256.1,461.4 257.4,460.3 258.8,459.1 260.1,458.1 261.4,457 262.7,456 264.1,455 265.4,454.1 266.7,453.2 268,452.3 269.4,451.5 270.7,450.7 272,449.9 273.3,449.1 274.7,448.4 276,447.7 277.3,447 278.6,446.4 280,445.8 281.3,445.2 282.6,444.6 283.9,444.1 285.3,443.5 286.6,443 287.9,442.6 289.2,442.1 290.6,441.7 291.9,441.3 293.2,440.9 294.5,440.5 295.9,440.1 297.2,439.7 298.5,439.4 299.8,439.1 301.2,438.7 302.5,438.4 303.8,438.1 305.2,437.8 306.5,437.6 307.8,437.3 309.1,437 310.5,436.7 311.8,436.5 313.1,436.2 314.4,436 315.8,435.7 317.1,435.5 318.4,435.2 319.7,435 321.1,434.7 322.4,434.5 323.7,434.2 325,434 326.4,433.7 327.7,433.5 329,433.2 330.3,433 331.7,432.7 333,432.4 334.3,432.2 335.6,431.9 337,431.7 338.3,431.4 339.6,431.1 340.9,430.9 342.3,430.6 343.6,430.4 344.9,430.1 346.2,429.8 347.6,429.6 348.9,429.3 350.2,429.1 351.5,428.9 352.9,428.6 354.2,428.4 355.5,428.2 356.8,428 358.2,427.8 359.5,427.6 360.8,427.4 362.1,427.3 363.5,427.1 364.8,427 366.1,426.8 367.4,426.7 368.8,426.6 370.1,426.5 371.4,426.4 372.8,426.4 374.1,426.3 375.4,426.3 376.7,426.3 378.1,426.3 379.4,426.3 380.7,426.4 382,426.4 383.4,426.5 384.7,426.6 386,426.7 387.3,426.9 388.7,427 390,427.2 391.3,427.4 392.6,427.6 394,427.8 395.3,428.1 396.6,428.4 397.9,428.7 399.3,429 400.6,429.3 401.9,429.7 403.2,430.1 404.6,430.4 405.9,430.9 407.2,431.3 408.5,431.7 409.9,432.2 411.2,432.7 412.5,433.2 413.8,433.7 415.2,434.3 416.5,434.9 417.8,435.4 419.1,436 420.5,436.7 421.8,437.3 423.1,438 424.4,438.6 425.8,439.3 427.1,440 428.4,440.8 429.7,441.5 431.1,442.3 432.4,443 433.7,443.8 435,444.7 436.4,445.5 437.7,446.3 439,447.2 440.4,448.1 441.7,449 443,449.9 444.3,450.9 445.7,451.8 447,452.8 448.3,453.8 449.6,454.8 451,455.8 452.3,456.9 453.6,458 454.9,459.1 456.3,460.2 457.6,461.3 458.9,462.5 460.2,463.7 461.6,464.9 462.9,466.1 464.2,467.3 465.5,468.6 466.9,469.9 468.2,471.2 469.5,472.6 470.8,473.9 472.2,475.3 473.5,476.7 474.8,478.2 476.1,479.7 477.5,481.2 478.8,482.7 480.1,484.3 481.4,485.9 482.8,487.5 484.1,489.1 485.4,490.8 486.7,492.5 488.1,494.3 489.4,496 490.7,497.8 492,499.7 493.4,501.6 494.7,503.5 496,505.4 497.3,507.4 498.7,509.4 500,511.5 501.3,513.5 502.6,515.7 504,517.8 505.3,520 506.6,522.2 508,524.5 509.3,526.8 510.6,529.2 511.9,531.5 513.3,534 514.6,536.4 515.9,538.9 517.2,541.5 518.6,544 519.9,546.7 521.2,549.3"/>
<polyline class="c" stroke="#45c0c8" points="196.5,548.1 197.8,545.3 199.1,542.6 200.4,539.9 201.8,537.2 203.1,534.6 204.4,532 205.7,529.4 207.1,526.9 208.4,524.5 209.7,522.1 211,519.7 212.4,517.3 213.7,515 215,512.8 216.3,510.6 217.7,508.4 219,506.2 220.3,504.1 221.6,502.1 223,500 224.3,498.1 225.6,496.1 226.9,494.2 228.3,492.3 229.6,490.5 230.9,488.7 232.2,486.9 233.6,485.2 234.9,483.5 236.2,481.9 237.5,480.3 238.9,478.7 240.2,477.2 241.5,475.7 242.9,474.2 244.2,472.8 245.5,471.4 246.8,470.1 248.2,468.7 249.5,467.5 250.8,466.2 252.1,465 253.5,463.8 254.8,462.6 256.1,461.5 257.4,460.4 258.8,459.4 260.1,458.4 261.4,457.4 262.7,456.4 264.1,455.5 265.4,454.6 266.7,453.7 268,452.8 269.4,452 270.7,451.2 272,450.5 273.3,449.7 274.7,449 276,448.3 277.3,447.6 278.6,447 280,446.4 281.3,445.8 282.6,445.2 283.9,444.7 285.3,444.1 286.6,443.6 287.9,443.1 289.2,442.6 290.6,442.2 291.9,441.7 293.2,441.3 294.5,440.9 295.9,440.5 297.2,440.1 298.5,439.7 299.8,439.4 301.2,439 302.5,438.7 303.8,438.3 305.2,438 306.5,437.7 307.8,437.4 309.1,437.1 310.5,436.8 311.8,436.5 313.1,436.2 314.4,436 315.8,435.7 317.1,435.4 318.4,435.1 319.7,434.9 321.1,434.6 322.4,434.3 323.7,434.1 325,433.8 326.4,433.6 327.7,433.3 329,433 330.3,432.8 331.7,432.5 333,432.3 334.3,432 335.6,431.8 337,431.5 338.3,431.3 339.6,431.1 340.9,430.8 342.3,430.6 343.6,430.3 344.9,430.1 346.2,429.9 347.6,429.7 348.9,429.4 350.2,429.2 351.5,429 352.9,428.8 354.2,428.6 355.5,428.5 356.8,428.3 358.2,428.1 359.5,428 360.8,427.8 362.1,427.7 363.5,427.5 364.8,427.4 366.1,427.3 367.4,427.2 368.8,427.2 370.1,427.1 371.4,427 372.8,427 374.1,427 375.4,427 376.7,427 378.1,427 379.4,427 380.7,427.1 382,427.2 383.4,427.3 384.7,427.4 386,427.5 387.3,427.6 388.7,427.8 390,428 391.3,428.1 392.6,428.4 394,428.6 395.3,428.8 396.6,429.1 397.9,429.4 399.3,429.7 400.6,430 401.9,430.3 403.2,430.7 404.6,431.1 405.9,431.5 407.2,431.9 408.5,432.3 409.9,432.8 411.2,433.2 412.5,433.7 413.8,434.2 415.2,434.7 416.5,435.3 417.8,435.8 419.1,436.4 420.5,437 421.8,437.6 423.1,438.2 424.4,438.9 425.8,439.6 427.1,440.2 428.4,440.9 429.7,441.7 431.1,442.4 432.4,443.1 433.7,443.9 435,444.7 436.4,445.5 437.7,446.3 439,447.2 440.4,448 441.7,448.9 443,449.8 444.3,450.7 445.7,451.6 447,452.6 448.3,453.5 449.6,454.5 451,455.5 452.3,456.5 453.6,457.6 454.9,458.7 456.3,459.7 457.6,460.8 458.9,462 460.2,463.1 461.6,464.3 462.9,465.4 464.2,466.7 465.5,467.9 466.9,469.1 468.2,470.4 469.5,471.7 470.8,473 472.2,474.4 473.5,475.7 474.8,477.1 476.1,478.5 477.5,480 478.8,481.4 480.1,482.9 481.4,484.4 482.8,486 484.1,487.6 485.4,489.2 486.7,490.8 488.1,492.4 489.4,494.1 490.7,495.8 492,497.6 493.4,499.3 494.7,501.1 496,503 497.3,504.8 498.7,506.7 500,508.6 501.3,510.6 502.6,512.6 504,514.6 505.3,516.6 506.6,518.7 508,520.8 509.3,523 510.6,525.2 511.9,527.4 513.3,529.7 514.6,531.9 515.9,534.3 517.2,536.6 518.6,539 519.9,541.4 521.2,543.9 522.5,546.4 523.9,548.9"/>
<polyline class="c" stroke="#a556ab" points="193.1,548.4 194.5,545.7 195.8,543.1 197.1,540.5 198.4,538 199.8,535.5 201.1,533 202.4,530.6 203.7,528.2 205.1,525.8 206.4,523.5 207.7,521.2 209.1,519 210.4,516.8 211.7,514.6 213,512.5 214.4,510.4 215.7,508.3 217,506.3 218.3,504.3 219.7,502.3 221,500.4 222.3,498.5 223.6,496.7 225,494.8 226.3,493.1 227.6,491.3 228.9,489.6 230.3,487.9 231.6,486.3 232.9,484.6 234.2,483.1 235.6,481.5 236.9,480 238.2,478.5 239.5,477.1 240.9,475.7 242.2,474.3 243.5,472.9 244.8,471.6 246.2,470.3 247.5,469.1 248.8,467.8 250.1,466.6 251.5,465.5 252.8,464.3 254.1,463.2 255.4,462.1 256.8,461.1 258.1,460.1 259.4,459.1 260.7,458.1 262.1,457.2 263.4,456.3 264.7,455.4 266,454.5 267.4,453.7 268.7,452.9 270,452.1 271.4,451.3 272.7,450.6 274,449.9 275.3,449.2 276.7,448.5 278,447.9 279.3,447.2 280.6,446.6 282,446 283.3,445.5 284.6,444.9 285.9,444.4 287.3,443.8 288.6,443.3 289.9,442.9 291.2,442.4 292.6,441.9 293.9,441.5 295.2,441.1 296.5,440.6 297.9,440.2 299.2,439.9 300.5,439.5 301.8,439.1 303.2,438.7 304.5,438.4 305.8,438 307.1,437.7 308.5,437.4 309.8,437.1 311.1,436.8 312.4,436.4 313.8,436.1 315.1,435.9 316.4,435.6 317.7,435.3 319.1,435 320.4,434.7 321.7,434.4 323,434.2 324.4,433.9 325.7,433.6 327,433.4 328.3,433.1 329.7,432.9 331,432.6 332.3,432.4 333.6,432.1 335,431.9 336.3,431.7 337.6,431.4 339,431.2 340.3,431 341.6,430.7 342.9,430.5 344.3,430.3 345.6,430.1 346.9,429.9 348.2,429.7 349.6,429.5 350.9,429.3 352.2,429.2 353.5,429 354.9,428.8 356.2,428.7 357.5,428.5 358.8,428.4 360.2,428.3 361.5,428.1 362.8,428 364.1,427.9 365.5,427.9 366.8,427.8 368.1,427.7 369.4,427.7 370.8,427.6 372.1,427.6 373.4,427.6 374.7,427.6 376.1,427.6 377.4,427.6 378.7,427.7 380,427.7 381.4,427.8 382.7,427.9 384,428 385.3,428.1 386.7,428.3 388,428.4 389.3,428.6 390.6,428.8 392,429 393.3,429.2 394.6,429.4 395.9,429.7 397.3,429.9 398.6,430.2 399.9,430.5 401.2,430.8 402.6,431.2 403.9,431.5 405.2,431.9 406.6,432.3 407.9,432.7 409.2,433.1 410.5,433.5 411.9,434 413.2,434.5 414.5,435 415.8,435.5 417.2,436 418.5,436.5 419.8,437.1 421.1,437.7 422.5,438.3 423.8,438.9 425.1,439.5 426.4,440.2 427.8,440.8 429.1,441.5 430.4,442.2 431.7,442.9 433.1,443.6 434.4,444.4 435.7,445.2 437,445.9 438.4,446.7 439.7,447.6 441,448.4 442.3,449.3 443.7,450.1 445,451 446.3,451.9 447.6,452.8 449,453.8 450.3,454.8 451.6,455.7 452.9,456.7 454.3,457.7 455.6,458.8 456.9,459.8 458.2,460.9 459.6,462 460.9,463.1 462.2,464.3 463.5,465.4 464.9,466.6 466.2,467.8 467.5,469 468.8,470.2 470.2,471.5 471.5,472.8 472.8,474.1 474.2,475.4 475.5,476.7 476.8,478.1 478.1,479.5 479.5,480.9 480.8,482.3 482.1,483.8 483.4,485.3 484.8,486.8 486.1,488.3 487.4,489.9 488.7,491.5 490.1,493.1 491.4,494.7 492.7,496.4 494,498.1 495.4,499.8 496.7,501.6 498,503.3 499.3,505.1 500.7,506.9 502,508.8 503.3,510.7 504.6,512.6 506,514.5 507.3,516.5 508.6,518.5 509.9,520.5 511.3,522.6 512.6,524.7 513.9,526.8 515.2,529 516.6,531.1 517.9,533.4 519.2,535.6 520.5,537.9 521.9,540.2 523.2,542.5 524.5,544.9 525.8,547.3 526.5,548.5"/>
<polyline class="c" stroke="#e0da6a" points="189.8,548.6 191.2,546.1 192.5,543.6 193.8,541.1 195.1,538.7 196.5,536.3 197.8,534 199.1,531.6 200.4,529.4 201.8,527.1 203.1,524.9 204.4,522.7 205.7,520.5 207.1,518.4 208.4,516.3 209.7,514.2 211,512.2 212.4,510.2 213.7,508.3 215,506.3 216.3,504.4 217.7,502.6 219,500.7 220.3,498.9 221.6,497.2 223,495.4 224.3,493.7 225.6,492 226.9,490.4 228.3,488.8 229.6,487.2 230.9,485.7 232.2,484.1 233.6,482.6 234.9,481.2 236.2,479.7 237.5,478.3 238.9,477 240.2,475.6 241.5,474.3 242.9,473 244.2,471.8 245.5,470.5 246.8,469.3 248.2,468.2 249.5,467 250.8,465.9 252.1,464.8 253.5,463.7 254.8,462.7 256.1,461.7 257.4,460.7 258.8,459.7 260.1,458.8 261.4,457.9 262.7,457 264.1,456.1 265.4,455.3 266.7,454.4 268,453.6 269.4,452.8 270.7,452.1 272,451.4 273.3,450.6 274.7,449.9 276,449.3 277.3,448.6 278.6,448 280,447.4 281.3,446.8 282.6,446.2 283.9,445.6 285.3,445.1 286.6,444.5 287.9,444 289.2,443.5 290.6,443 291.9,442.5 293.2,442.1 294.5,441.6 295.9,441.2 297.2,440.8 298.5,440.3 299.8,439.9 301.2,439.6 302.5,439.2 303.8,438.8 305.2,438.4 306.5,438.1 307.8,437.7 309.1,437.4 310.5,437.1 311.8,436.7 313.1,436.4 314.4,436.1 315.8,435.8 317.1,435.5 318.4,435.2 319.7,434.9 321.1,434.6 322.4,434.4 323.7,434.1 325,433.8 326.4,433.6 327.7,433.3 329,433 330.3,432.8 331.7,432.5 333,432.3 334.3,432.1 335.6,431.8 337,431.6 338.3,431.4 339.6,431.2 340.9,431 342.3,430.8 343.6,430.6 344.9,430.4 346.2,430.2 347.6,430 348.9,429.8 350.2,429.7 351.5,429.5 352.9,429.3 354.2,429.2 355.5,429.1 356.8,428.9 358.2,428.8 359.5,428.7 360.8,428.6 362.1,428.5 363.5,428.4 364.8,428.4 366.1,428.3 367.4,428.3 368.8,428.2 370.1,428.2 371.4,428.2 372.8,428.2 374.1,428.2 375.4,428.2 376.7,428.2 378.1,428.3 379.4,428.3 380.7,428.4 382,428.5 383.4,428.6 384.7,428.7 386,428.9 387.3,429 388.7,429.2 390,429.4 391.3,429.5 392.6,429.8 394,430 395.3,430.2 396.6,430.5 397.9,430.7 399.3,431 400.6,431.3 401.9,431.6 403.2,432 404.6,432.3 405.9,432.7 407.2,433.1 408.5,433.5 409.9,433.9 411.2,434.3 412.5,434.8 413.8,435.2 415.2,435.7 416.5,436.2 417.8,436.7 419.1,437.2 420.5,437.8 421.8,438.4 423.1,438.9 424.4,439.5 425.8,440.1 427.1,440.8 428.4,441.4 429.7,442.1 431.1,442.8 432.4,443.5 433.7,444.2 435,444.9 436.4,445.7 437.7,446.4 439,447.2 440.4,448 441.7,448.8 443,449.6 444.3,450.5 445.7,451.4 447,452.2 448.3,453.1 449.6,454.1 451,455 452.3,456 453.6,456.9 454.9,457.9 456.3,458.9 457.6,460 458.9,461 460.2,462.1 461.6,463.1 462.9,464.2 464.2,465.4 465.5,466.5 466.9,467.7 468.2,468.8 469.5,470 470.8,471.3 472.2,472.5 473.5,473.8 474.8,475 476.1,476.3 477.5,477.7 478.8,479 480.1,480.4 481.4,481.8 482.8,483.2 484.1,484.6 485.4,486.1 486.7,487.5 488.1,489 489.4,490.6 490.7,492.1 492,493.7 493.4,495.3 494.7,496.9 496,498.5 497.3,500.2 498.7,501.9 500,503.6 501.3,505.3 502.6,507.1 504,508.9 505.3,510.7 506.6,512.6 508,514.4 509.3,516.3 510.6,518.2 511.9,520.2 513.3,522.2 514.6,524.2 515.9,526.2 517.2,528.3 518.6,530.4 519.9,532.5 521.2,534.6 522.5,536.8 523.9,539 525.2,541.2 526.5,543.5 527.8,545.8 529.2,548.1"/>
<polyline class="c" stroke="#222222" points="186.5,548.9 187.8,546.5 189.2,544.1 190.5,541.7 191.8,539.4 193.1,537.1 194.5,534.9 195.8,532.6 197.1,530.4 198.4,528.3 199.8,526.1 201.1,524 202.4,522 203.7,519.9 205.1,517.9 206.4,515.9 207.7,513.9 209.1,512 210.4,510.1 211.7,508.2 213,506.4 214.4,504.6 215.7,502.8 217,501.1 218.3,499.3 219.7,497.7 221,496 222.3,494.3 223.6,492.7 225,491.2 226.3,489.6 227.6,488.1 228.9,486.6 230.3,485.1 231.6,483.7 232.9,482.3 234.2,480.9 235.6,479.5 236.9,478.2 238.2,476.9 239.5,475.6 240.9,474.3 242.2,473.1 243.5,471.9 244.8,470.7 246.2,469.6 247.5,468.4 248.8,467.3 250.1,466.3 251.5,465.2 252.8,464.2 254.1,463.2 255.4,462.2 256.8,461.2 258.1,460.3 259.4,459.4 260.7,458.5 262.1,457.6 263.4,456.7 264.7,455.9 266,455.1 267.4,454.3 268.7,453.5 270,452.8 271.4,452.1 272.7,451.3 274,450.6 275.3,450 276.7,449.3 278,448.7 279.3,448 280.6,447.4 282,446.8 283.3,446.3 284.6,445.7 285.9,445.2 287.3,444.6 288.6,444.1 289.9,443.6 291.2,443.1 292.6,442.6 293.9,442.2 295.2,441.7 296.5,441.3 297.9,440.8 299.2,440.4 300.5,440 301.8,439.6 303.2,439.2 304.5,438.8 305.8,438.5 307.1,438.1 308.5,437.8 309.8,437.4 311.1,437.1 312.4,436.7 313.8,436.4 315.1,436.1 316.4,435.8 317.7,435.5 319.1,435.2 320.4,434.9 321.7,434.6 323,434.3 324.4,434.1 325.7,433.8 327,433.5 328.3,433.3 329.7,433 331,432.8 332.3,432.6 333.6,432.3 335,432.1 336.3,431.9 337.6,431.7 339,431.5 340.3,431.3 341.6,431.1 342.9,430.9 344.3,430.7 345.6,430.5 346.9,430.3 348.2,430.2 349.6,430 350.9,429.9 352.2,429.7 353.5,429.6 354.9,429.5 356.2,429.4 357.5,429.3 358.8,429.2 360.2,429.1 361.5,429 362.8,428.9 364.1,428.9 365.5,428.8 366.8,428.8 368.1,428.8 369.4,428.7 370.8,428.7 372.1,428.7 373.4,428.7 374.7,428.8 376.1,428.8 377.4,428.9 378.7,428.9 380,429 381.4,429.1 382.7,429.2 384,429.3 385.3,429.5 386.7,429.6 388,429.8 389.3,429.9 390.6,430.1 392,430.3 393.3,430.5 394.6,430.8 395.9,431 397.3,431.3 398.6,431.5 399.9,431.8 401.2,432.1 402.6,432.4 403.9,432.8 405.2,433.1 406.6,433.5 407.9,433.9 409.2,434.2 410.5,434.7 411.9,435.1 413.2,435.5 414.5,436 415.8,436.4 417.2,436.9 418.5,437.4 419.8,438 421.1,438.5 422.5,439 423.8,439.6 425.1,440.2 426.4,440.8 427.8,441.4 429.1,442 430.4,442.7 431.7,443.3 433.1,444 434.4,444.7 435.7,445.4 437,446.2 438.4,446.9 439.7,447.7 441,448.4 442.3,449.2 443.7,450 445,450.9 446.3,451.7 447.6,452.6 449,453.4 450.3,454.3 451.6,455.3 452.9,456.2 454.3,457.1 455.6,458.1 456.9,459.1 458.2,460.1 459.6,461.1 460.9,462.1 462.2,463.2 463.5,464.2 464.9,465.3 466.2,466.4 467.5,467.6 468.8,468.7 470.2,469.9 471.5,471 472.8,472.2 474.2,473.5 475.5,474.7 476.8,476 478.1,477.2 479.5,478.5 480.8,479.8 482.1,481.2 483.4,482.5 484.8,483.9 486.1,485.3 487.4,486.7 488.7,488.2 490.1,489.6 491.4,491.1 492.7,492.6 494,494.2 495.4,495.7 496.7,497.3 498,498.9 499.3,500.5 500.7,502.1 502,503.8 503.3,505.5 504.6,507.2 506,508.9 507.3,510.7 508.6,512.5 509.9,514.3 511.3,516.1 512.6,518 513.9,519.8 515.2,521.7 516.6,523.7 517.9,525.6 519.2,527.6 520.5,529.6 521.9,531.6 523.2,533.7 524.5,535.8 525.8,537.9 527.2,540 528.5,542.2 529.8,544.4 531.1,546.6 532.5,548.8"/>
<polyline class="c" stroke="#4055a8" points="183.9,548 185.2,545.7 186.5,543.4 187.8,541.2 189.2,539 190.5,536.8 191.8,534.7 193.1,532.5 194.5,530.4 195.8,528.3 197.1,526.3 198.4,524.3 199.8,522.3 201.1,520.3 202.4,518.4 203.7,516.5 205.1,514.6 206.4,512.8 207.7,510.9 209.1,509.1 210.4,507.4 211.7,505.6 213,503.9 214.4,502.2 215.7,500.5 217,498.9 218.3,497.3 219.7,495.7 221,494.1 222.3,492.6 223.6,491.1 225,489.6 226.3,488.2 227.6,486.7 228.9,485.3 230.3,483.9 231.6,482.6 232.9,481.2 234.2,479.9 235.6,478.7 236.9,477.4 238.2,476.2 239.5,474.9 240.9,473.8 242.2,472.6 243.5,471.4 244.8,470.3 246.2,469.2 247.5,468.1 248.8,467.1 250.1,466.1 251.5,465.1 252.8,464.1 254.1,463.1 255.4,462.1 256.8,461.2 258.1,460.3 259.4,459.4 260.7,458.6 262.1,457.7 263.4,456.9 264.7,456.1 266,455.3 267.4,454.5 268.7,453.8 270,453 271.4,452.3 272.7,451.6 274,450.9 275.3,450.3 276.7,449.6 278,449 279.3,448.4 280.6,447.8 282,447.2 283.3,446.6 284.6,446 285.9,445.5 287.3,445 288.6,444.4 289.9,443.9 291.2,443.4 292.6,443 293.9,442.5 295.2,442 296.5,441.6 297.9,441.1 299.2,440.7 300.5,440.3 301.8,439.9 303.2,439.5 304.5,439.1 305.8,438.7 307.1,438.3 308.5,438 309.8,437.6 311.1,437.3 312.4,437 313.8,436.6 315.1,436.3 316.4,436 317.7,435.7 319.1,435.4 320.4,435.1 321.7,434.8 323,434.5 324.4,434.3 325.7,434 327,433.7 328.3,433.5 329.7,433.2 331,433 332.3,432.8 333.6,432.5 335,432.3 336.3,432.1 337.6,431.9 339,431.7 340.3,431.5 341.6,431.3 342.9,431.1 344.3,431 345.6,430.8 346.9,430.6 348.2,430.5 349.6,430.4 350.9,430.2 352.2,430.1 353.5,430 354.9,429.9 356.2,429.8 357.5,429.7 358.8,429.6 360.2,429.5 361.5,429.5 362.8,429.4 364.1,429.4 365.5,429.3 366.8,429.3 368.1,429.3 369.4,429.3 370.8,429.3 372.1,429.3 373.4,429.3 374.7,429.4 376.1,429.4 377.4,429.5 378.7,429.5 380,429.6 381.4,429.7 382.7,429.8 384,430 385.3,430.1 386.7,430.2 388,430.4 389.3,430.6 390.6,430.8 392,431 393.3,431.2 394.6,431.4 395.9,431.6 397.3,431.9 398.6,432.2 399.9,432.4 401.2,432.7 402.6,433 403.9,433.4 405.2,433.7 406.6,434.1 407.9,434.4 409.2,434.8 410.5,435.2 411.9,435.6 413.2,436 414.5,436.5 415.8,436.9 417.2,437.4 418.5,437.9 419.8,438.4 421.1,438.9 422.5,439.4 423.8,440 425.1,440.6 426.4,441.1 427.8,441.7 429.1,442.3 430.4,443 431.7,443.6 433.1,444.3 434.4,444.9 435.7,445.6 437,446.3 438.4,447 439.7,447.8 441,448.5 442.3,449.3 443.7,450.1 445,450.8 446.3,451.7 447.6,452.5 449,453.3 450.3,454.2 451.6,455.1 452.9,456 454.3,456.9 455.6,457.8 456.9,458.7 458.2,459.7 459.6,460.7 460.9,461.7 462.2,462.7 463.5,463.7 464.9,464.8 466.2,465.8 467.5,466.9 468.8,468 470.2,469.1 471.5,470.3 472.8,471.4 474.2,472.6 475.5,473.8 476.8,475 478.1,476.2 479.5,477.4 480.8,478.7 482.1,480 483.4,481.3 484.8,482.6 486.1,483.9 487.4,485.3 488.7,486.7 490.1,488.1 491.4,489.5 492.7,490.9 494,492.4 495.4,493.9 496.7,495.4 498,496.9 499.3,498.4 500.7,500 502,501.5 503.3,503.1 504.6,504.8 506,506.4 507.3,508.1 508.6,509.8 509.9,511.5 511.3,513.2 512.6,515 513.9,516.7 515.2,518.5 516.6,520.4 517.9,522.2 519.2,524.1 520.5,526 521.9,527.9 523.2,529.8 524.5,531.8 525.8,533.8 527.2,535.8 528.5,537.8 529.8,539.9 531.1,541.9 532.5,544.1 533.8,546.2 535.1,548.3"/>
<polyline class="c" stroke="#23894f" points="180.6,548.3 181.9,546.1 183.2,544 184.5,541.8 185.9,539.7 187.2,537.6 188.5,535.5 189.8,533.4 191.2,531.4 192.5,529.4 193.8,527.5 195.1,525.5 196.5,523.6 197.8,521.7 199.1,519.8 200.4,518 201.8,516.1 203.1,514.3 204.4,512.6 205.7,510.8 207.1,509.1 208.4,507.4 209.7,505.7 211,504.1 212.4,502.5 213.7,500.9 215,499.3 216.3,497.7 217.7,496.2 219,494.7 220.3,493.2 221.6,491.8 223,490.3 224.3,488.9 225.6,487.5 226.9,486.2 228.3,484.8 229.6,483.5 230.9,482.2 232.2,480.9 233.6,479.7 234.9,478.5 236.2,477.3 237.5,476.1 238.9,474.9 240.2,473.8 241.5,472.6 242.9,471.5 244.2,470.5 245.5,469.4 246.8,468.4 248.2,467.3 249.5,466.3 250.8,465.4 252.1,464.4 253.5,463.5 254.8,462.5 256.1,461.6 257.4,460.8 258.8,459.9 260.1,459 261.4,458.2 262.7,457.4 264.1,456.6 265.4,455.8 266.7,455.1 268,454.3 269.4,453.6 270.7,452.9 272,452.2 273.3,451.5 274.7,450.9 276,450.2 277.3,449.6 278.6,449 280,448.3 281.3,447.8 282.6,447.2 283.9,446.6 285.3,446.1 286.6,445.5 287.9,445 289.2,444.5 290.6,444 291.9,443.5 293.2,443 294.5,442.5 295.9,442.1 297.2,441.6 298.5,441.2 299.8,440.8 301.2,440.4 302.5,440 303.8,439.6 305.2,439.2 306.5,438.8 307.8,438.4 309.1,438.1 310.5,437.7 311.8,437.4 313.1,437 314.4,436.7 315.8,436.4 317.1,436.1 318.4,435.8 319.7,435.5 321.1,435.2 322.4,434.9 323.7,434.6 325,434.4 326.4,434.1 327.7,433.8 329,433.6 330.3,433.4 331.7,433.1 333,432.9 334.3,432.7 335.6,432.5 337,432.3 338.3,432.1 339.6,431.9 340.9,431.7 342.3,431.5 343.6,431.4 344.9,431.2 346.2,431.1 347.6,430.9 348.9,430.8 350.2,430.7 351.5,430.5 352.9,430.4 354.2,430.3 355.5,430.2 356.8,430.2 358.2,430.1 359.5,430 360.8,429.9 362.1,429.9 363.5,429.9 364.8,429.8 366.1,429.8 367.4,429.8 368.8,429.8 370.1,429.8 371.4,429.8 372.8,429.9 374.1,429.9 375.4,430 376.7,430 378.1,430.1 379.4,430.2 380.7,430.3 382,430.4 383.4,430.5 384.7,430.6 386,430.8 387.3,430.9 388.7,431.1 390,431.3 391.3,431.5 392.6,431.7 394,431.9 395.3,432.1 396.6,432.4 397.9,432.6 399.3,432.9 400.6,433.2 401.9,433.5 403.2,433.8 404.6,434.1 405.9,434.5 407.2,434.8 408.5,435.2 409.9,435.6 411.2,436 412.5,436.4 413.8,436.8 415.2,437.2 416.5,437.7 417.8,438.1 419.1,438.6 420.5,439.1 421.8,439.6 423.1,440.1 424.4,440.7 425.8,441.2 427.1,441.8 428.4,442.4 429.7,443 431.1,443.6 432.4,444.2 433.7,444.8 435,445.5 436.4,446.1 437.7,446.8 439,447.5 440.4,448.2 441.7,449 443,449.7 444.3,450.5 445.7,451.2 447,452 448.3,452.8 449.6,453.7 451,454.5 452.3,455.4 453.6,456.2 454.9,457.1 456.3,458 457.6,458.9 458.9,459.9 460.2,460.8 461.6,461.8 462.9,462.7 464.2,463.7 465.5,464.8 466.9,465.8 468.2,466.8 469.5,467.9 470.8,469 472.2,470.1 473.5,471.2 474.8,472.3 476.1,473.5 477.5,474.6 478.8,475.8 480.1,477 481.4,478.2 482.8,479.5 484.1,480.7 485.4,482 486.7,483.3 488.1,484.6 489.4,485.9 490.7,487.3 492,488.6 493.4,490 494.7,491.4 496,492.8 497.3,494.3 498.7,495.7 500,497.2 501.3,498.7 502.6,500.2 504,501.7 505.3,503.3 506.6,504.9 508,506.5 509.3,508.1 510.6,509.7 511.9,511.4 513.3,513 514.6,514.7 515.9,516.4 517.2,518.2 518.6,519.9 519.9,521.7 521.2,523.5 522.5,525.3 523.9,527.2 525.2,529.1 526.5,530.9 527.8,532.8 529.2,534.8 530.5,536.7 531.8,538.7 533.1,540.7 534.5,542.7 535.8,544.8 537.1,546.8 538.4,548.9"/>
<polyline class="c" stroke="#e0413c" points="177.2,548.7 178.6,546.5 179.9,544.4 181.2,542.4 182.5,540.3 183.9,538.3 185.2,536.3 186.5,534.3 187.8,532.4 189.2,530.4 190.5,528.5 191.8,526.6 193.1,524.8 194.5,522.9 195.8,521.1 197.1,519.3 198.4,517.6 199.8,515.8 201.1,514.1 202.4,512.4 203.7,510.7 205.1,509.1 206.4,507.5 207.7,505.8 209.1,504.3 210.4,502.7 211.7,501.2 213,499.6 214.4,498.1 215.7,496.7 217,495.2 218.3,493.8 219.7,492.4 221,491 222.3,489.6 223.6,488.3 225,487 226.3,485.7 227.6,484.4 228.9,483.1 230.3,481.9 231.6,480.7 232.9,479.5 234.2,478.3 235.6,477.1 236.9,476 238.2,474.9 239.5,473.8 240.9,472.7 242.2,471.6 243.5,470.6 244.8,469.6 246.2,468.5 247.5,467.6 248.8,466.6 250.1,465.6 251.5,464.7 252.8,463.8 254.1,462.9 255.4,462 256.8,461.2 258.1,460.3 259.4,459.5 260.7,458.7 262.1,457.9 263.4,457.1 264.7,456.3 266,455.6 267.4,454.8 268.7,454.1 270,453.4 271.4,452.7 272.7,452.1 274,451.4 275.3,450.8 276.7,450.1 278,449.5 279.3,448.9 280.6,448.3 282,447.7 283.3,447.2 284.6,446.6 285.9,446.1 287.3,445.5 288.6,445 289.9,444.5 291.2,444 292.6,443.5 293.9,443.1 295.2,442.6 296.5,442.1 297.9,441.7 299.2,441.3 300.5,440.8 301.8,440.4 303.2,440 304.5,439.6 305.8,439.3 307.1,438.9 308.5,438.5 309.8,438.2 311.1,437.8 312.4,437.5 313.8,437.1 315.1,436.8 316.4,436.5 317.7,436.2 319.1,435.9 320.4,435.6 321.7,435.3 323,435 324.4,434.8 325.7,434.5 327,434.3 328.3,434 329.7,433.8 331,433.6 332.3,433.3 333.6,433.1 335,432.9 336.3,432.7 337.6,432.5 339,432.3 340.3,432.2 341.6,432 342.9,431.8 344.3,431.7 345.6,431.5 346.9,431.4 348.2,431.3 349.6,431.1 350.9,431 352.2,430.9 353.5,430.8 354.9,430.7 356.2,430.6 357.5,430.6 358.8,430.5 360.2,430.5 361.5,430.4 362.8,430.4 364.1,430.4 365.5,430.3 366.8,430.3 368.1,430.3 369.4,430.3 370.8,430.4 372.1,430.4 373.4,430.4 374.7,430.5 376.1,430.6 377.4,430.6 378.7,430.7 380,430.8 381.4,430.9 382.7,431 384,431.2 385.3,431.3 386.7,431.5 388,431.6 389.3,431.8 390.6,432 392,432.2 393.3,432.4 394.6,432.6 395.9,432.9 397.3,433.1 398.6,433.4 399.9,433.7 401.2,433.9 402.6,434.2 403.9,434.5 405.2,434.9 406.6,435.2 407.9,435.6 409.2,435.9 410.5,436.3 411.9,436.7 413.2,437.1 414.5,437.5 415.8,437.9 417.2,438.4 418.5,438.8 419.8,439.3 421.1,439.8 422.5,440.3 423.8,440.8 425.1,441.3 426.4,441.9 427.8,442.4 429.1,443 430.4,443.6 431.7,444.2 433.1,444.8 434.4,445.4 435.7,446 437,446.7 438.4,447.3 439.7,448 441,448.7 442.3,449.4 443.7,450.2 445,450.9 446.3,451.6 447.6,452.4 449,453.2 450.3,454 451.6,454.8 452.9,455.6 454.3,456.5 455.6,457.3 456.9,458.2 458.2,459.1 459.6,460 460.9,460.9 462.2,461.9 463.5,462.8 464.9,463.8 466.2,464.8 467.5,465.8 468.8,466.8 470.2,467.8 471.5,468.8 472.8,469.9 474.2,471 475.5,472.1 476.8,473.2 478.1,474.3 479.5,475.5 480.8,476.6 482.1,477.8 483.4,479 484.8,480.2 486.1,481.4 487.4,482.7 488.7,483.9 490.1,485.2 491.4,486.5 492.7,487.8 494,489.1 495.4,490.5 496.7,491.8 498,493.2 499.3,494.6 500.7,496 502,497.5 503.3,498.9 504.6,500.4 506,501.9 507.3,503.4 508.6,504.9 509.9,506.5 511.3,508 512.6,509.6 513.9,511.2 515.2,512.8 516.6,514.5 517.9,516.1 519.2,517.8 520.5,519.5 521.9,521.2 523.2,523 524.5,524.7 525.8,526.5 527.2,528.3 528.5,530.1 529.8,532 531.1,533.8 532.5,535.7 533.8,537.6 535.1,539.5 536.5,541.4 537.8,543.4 539.1,545.4 540.4,547.4 541.1,548.4"/>
<polyline class="c" stroke="#45c0c8" points="173.9,549 175.3,546.9 176.6,544.9 177.9,542.9 179.2,540.9 180.6,539 181.9,537 183.2,535.1 184.5,533.2 185.9,531.4 187.2,529.5 188.5,527.7 189.8,525.9 191.2,524.1 192.5,522.4 193.8,520.6 195.1,518.9 196.5,517.2 197.8,515.5 199.1,513.9 200.4,512.3 201.8,510.7 203.1,509.1 204.4,507.5 205.7,506 207.1,504.4 208.4,502.9 209.7,501.4 211,500 212.4,498.5 213.7,497.1 215,495.7 216.3,494.3 217.7,492.9 219,491.6 220.3,490.3 221.6,489 223,487.7 224.3,486.4 225.6,485.2 226.9,483.9 228.3,482.7 229.6,481.6 230.9,480.4 232.2,479.2 233.6,478.1 234.9,477 236.2,475.9 237.5,474.8 238.9,473.7 240.2,472.7 241.5,471.7 242.9,470.7 244.2,469.7 245.5,468.7 246.8,467.7 248.2,466.8 249.5,465.9 250.8,465 252.1,464.1 253.5,463.2 254.8,462.3 256.1,461.5 257.4,460.7 258.8,459.9 260.1,459.1 261.4,458.3 262.7,457.5 264.1,456.8 265.4,456 266.7,455.3 268,454.6 269.4,453.9 270.7,453.2 272,452.6 273.3,451.9 274.7,451.3 276,450.6 277.3,450 278.6,449.4 280,448.8 281.3,448.2 282.6,447.7 283.9,447.1 285.3,446.6 286.6,446.1 287.9,445.5 289.2,445 290.6,444.5 291.9,444 293.2,443.6 294.5,443.1 295.9,442.7 297.2,442.2 298.5,441.8 299.8,441.3 301.2,440.9 302.5,440.5 303.8,440.1 305.2,439.7 306.5,439.4 307.8,439 309.1,438.6 310.5,438.3 311.8,437.9 313.1,437.6 314.4,437.3 315.8,437 317.1,436.7 318.4,436.4 319.7,436.1 321.1,435.8 322.4,435.5 323.7,435.2 325,435 326.4,434.7 327.7,434.5 329,434.2 330.3,434 331.7,433.8 333,433.6 334.3,433.4 335.6,433.2 337,433 338.3,432.8 339.6,432.6 340.9,432.5 342.3,432.3 343.6,432.1 344.9,432 346.2,431.9 347.6,431.7 348.9,431.6 350.2,431.5 351.5,431.4 352.9,431.3 354.2,431.2 355.5,431.2 356.8,431.1 358.2,431 359.5,431 360.8,430.9 362.1,430.9 363.5,430.9 364.8,430.9 366.1,430.9 367.4,430.9 368.8,430.9 370.1,430.9 371.4,430.9 372.8,431 374.1,431 375.4,431.1 376.7,431.2 378.1,431.3 379.4,431.4 380.7,431.5 382,431.6 383.4,431.7 384.7,431.9 386,432 387.3,432.2 388.7,432.3 390,432.5 391.3,432.7 392.6,432.9 394,433.1 395.3,433.4 396.6,433.6 397.9,433.8 399.3,434.1 400.6,434.4 401.9,434.7 403.2,435 404.6,435.3 405.9,435.6 407.2,435.9 408.5,436.3 409.9,436.6 411.2,437 412.5,437.4 413.8,437.8 415.2,438.2 416.5,438.6 417.8,439.1 419.1,439.5 420.5,440 421.8,440.5 423.1,441 424.4,441.5 425.8,442 427.1,442.5 428.4,443 429.7,443.6 431.1,444.2 432.4,444.7 433.7,445.3 435,445.9 436.4,446.6 437.7,447.2 439,447.9 440.4,448.5 441.7,449.2 443,449.9 444.3,450.6 445.7,451.3 447,452.1 448.3,452.8 449.6,453.6 451,454.3 452.3,455.1 453.6,455.9 454.9,456.8 456.3,457.6 457.6,458.4 458.9,459.3 460.2,460.2 461.6,461.1 462.9,462 464.2,462.9 465.5,463.8 466.9,464.8 468.2,465.7 469.5,466.7 470.8,467.7 472.2,468.7 473.5,469.8 474.8,470.8 476.1,471.9 477.5,472.9 478.8,474 480.1,475.1 481.4,476.2 482.8,477.4 484.1,478.5 485.4,479.7 486.7,480.9 488.1,482.1 489.4,483.3 490.7,484.5 492,485.8 493.4,487 494.7,488.3 496,489.6 497.3,490.9 498.7,492.2 500,493.6 501.3,494.9 502.6,496.3 504,497.7 505.3,499.1 506.6,500.6 508,502 509.3,503.5 510.6,505 511.9,506.5 513.3,508 514.6,509.5 515.9,511.1 517.2,512.6 518.6,514.2 519.9,515.8 521.2,517.4 522.5,519.1 523.9,520.7 525.2,522.4 526.5,524.1 527.8,525.8 529.2,527.6 530.5,529.3 531.8,531.1 533.1,532.9 534.5,534.7 535.8,536.5 537.1,538.4 538.4,540.2 539.8,542.1 541.1,544 542.4,545.9 543.7,547.9 544.4,548.9"/>
<polyline class="c" stroke="#a556ab" points="171.3,548.3 172.6,546.3 173.9,544.4 175.3,542.5 176.6,540.6 177.9,538.7 179.2,536.8 180.6,535 181.9,533.2 183.2,531.4 184.5,529.6 185.9,527.8 187.2,526.1 188.5,524.4 189.8,522.7 191.2,521 192.5,519.3 193.8,517.7 195.1,516.1 196.5,514.5 197.8,512.9 199.1,511.4 200.4,509.8 201.8,508.3 203.1,506.8 204.4,505.3 205.7,503.8 207.1,502.4 208.4,501 209.7,499.6 211,498.2 212.4,496.8 213.7,495.5 215,494.1 216.3,492.8 217.7,491.5 219,490.2 220.3,489 221.6,487.7 223,486.5 224.3,485.3 225.6,484.1 226.9,483 228.3,481.8 229.6,480.7 230.9,479.6 232.2,478.4 233.6,477.4 234.9,476.3 236.2,475.2 237.5,474.2 238.9,473.2 240.2,472.2 241.5,471.2 242.9,470.2 244.2,469.3 245.5,468.4 246.8,467.4 248.2,466.5 249.5,465.6 250.8,464.8 252.1,463.9 253.5,463.1 254.8,462.2 256.1,461.4 257.4,460.6 258.8,459.8 260.1,459 261.4,458.3 262.7,457.5 264.1,456.8 265.4,456.1 266.7,455.4 268,454.7 269.4,454 270.7,453.3 272,452.7 273.3,452.1 274.7,451.4 276,450.8 277.3,450.2 278.6,449.6 280,449 281.3,448.5 282.6,447.9 283.9,447.4 285.3,446.8 286.6,446.3 287.9,445.8 289.2,445.3 290.6,444.8 291.9,444.3 293.2,443.8 294.5,443.4 295.9,442.9 297.2,442.5 298.5,442.1 299.8,441.6 301.2,441.2 302.5,440.8 303.8,440.4 305.2,440.1 306.5,439.7 307.8,439.3 309.1,439 310.5,438.6 311.8,438.3 313.1,437.9 314.4,437.6 315.8,437.3 317.1,437 318.4,436.7 319.7,436.4 321.1,436.1 322.4,435.9 323.7,435.6 325,435.3 326.4,435.1 327.7,434.8 329,434.6 330.3,434.4 331.7,434.2 333,434 334.3,433.8 335.6,433.6 337,433.4 338.3,433.2 339.6,433 340.9,432.9 342.3,432.7 343.6,432.6 344.9,432.4 346.2,432.3 347.6,432.2 348.9,432.1 350.2,432 351.5,431.9 352.9,431.8 354.2,431.7 355.5,431.6 356.8,431.6 358.2,431.5 359.5,431.5 360.8,431.5 362.1,431.4 363.5,431.4 364.8,431.4 366.1,431.4 367.4,431.4 368.8,431.4 370.1,431.5 371.4,431.5 372.8,431.6 374.1,431.6 375.4,431.7 376.7,431.8 378.1,431.9 379.4,432 380.7,432.1 382,432.2 383.4,432.3 384.7,432.5 386,432.6 387.3,432.8 388.7,432.9 390,433.1 391.3,433.3 392.6,433.5 394,433.7 395.3,434 396.6,434.2 397.9,434.4 399.3,434.7 400.6,435 401.9,435.2 403.2,435.5 404.6,435.8 405.9,436.2 407.2,436.5 408.5,436.8 409.9,437.2 411.2,437.5 412.5,437.9 413.8,438.3 415.2,438.7 416.5,439.1 417.8,439.5 419.1,440 420.5,440.4 421.8,440.9 423.1,441.4 424.4,441.9 425.8,442.4 427.1,442.9 428.4,443.4 429.7,443.9 431.1,444.5 432.4,445 433.7,445.6 435,446.2 436.4,446.8 437.7,447.4 439,448 440.4,448.7 441.7,449.3 443,450 444.3,450.7 445.7,451.4 447,452.1 448.3,452.8 449.6,453.5 451,454.3 452.3,455.1 453.6,455.8 454.9,456.6 456.3,457.4 457.6,458.2 458.9,459.1 460.2,459.9 461.6,460.8 462.9,461.6 464.2,462.5 465.5,463.4 466.9,464.3 468.2,465.3 469.5,466.2 470.8,467.2 472.2,468.1 473.5,469.1 474.8,470.1 476.1,471.1 477.5,472.2 478.8,473.2 480.1,474.3 481.4,475.3 482.8,476.4 484.1,477.5 485.4,478.7 486.7,479.8 488.1,480.9 489.4,482.1 490.7,483.3 492,484.5 493.4,485.7 494.7,486.9 496,488.1 497.3,489.4 498.7,490.7 500,492 501.3,493.3 502.6,494.6 504,495.9 505.3,497.3 506.6,498.6 508,500 509.3,501.4 510.6,502.8 511.9,504.3 513.3,505.7 514.6,507.2 515.9,508.6 517.2,510.1 518.6,511.7 519.9,513.2 521.2,514.7 522.5,516.3 523.9,517.9 525.2,519.5 526.5,521.1 527.8,522.7 529.2,524.4 530.5,526 531.8,527.7 533.1,529.4 534.5,531.1 535.8,532.9 537.1,534.6 538.4,536.4 539.8,538.2 541.1,540 542.4,541.8 543.7,543.6 545.1,545.5 546.4,547.4 547.1,548.3"/>
<polyline class="c" stroke="#e0da6a" points="168,548.6 169.3,546.7 170.6,544.8 171.9,543 173.3,541.1 174.6,539.3 175.9,537.5 177.2,535.7 178.6,534 179.9,532.2 181.2,530.5 182.5,528.8 183.9,527.1 185.2,525.4 186.5,523.8 187.8,522.2 189.2,520.5 190.5,519 191.8,517.4 193.1,515.8 194.5,514.3 195.8,512.8 197.1,511.3 198.4,509.8 199.8,508.3 201.1,506.8 202.4,505.4 203.7,504 205.1,502.6 206.4,501.2 207.7,499.9 209.1,498.5 210.4,497.2 211.7,495.9 213,494.6 214.4,493.3 215.7,492.1 217,490.8 218.3,489.6 219.7,488.4 221,487.2 222.3,486 223.6,484.9 225,483.7 226.3,482.6 227.6,481.5 228.9,480.4 230.3,479.3 231.6,478.2 232.9,477.2 234.2,476.2 235.6,475.1 236.9,474.1 238.2,473.2 239.5,472.2 240.9,471.2 242.2,470.3 243.5,469.4 244.8,468.5 246.2,467.6 247.5,466.7 248.8,465.8 250.1,465 251.5,464.1 252.8,463.3 254.1,462.5 255.4,461.7 256.8,460.9 258.1,460.1 259.4,459.4 260.7,458.6 262.1,457.9 263.4,457.2 264.7,456.5 266,455.8 267.4,455.1 268.7,454.4 270,453.8 271.4,453.1 272.7,452.5 274,451.9 275.3,451.3 276.7,450.7 278,450.1 279.3,449.5 280.6,449 282,448.4 283.3,447.9 284.6,447.3 285.9,446.8 287.3,446.3 288.6,445.8 289.9,445.3 291.2,444.8 292.6,444.4 293.9,443.9 295.2,443.4 296.5,443 297.9,442.6 299.2,442.2 300.5,441.7 301.8,441.3 303.2,440.9 304.5,440.6 305.8,440.2 307.1,439.8 308.5,439.5 309.8,439.1 311.1,438.8 312.4,438.4 313.8,438.1 315.1,437.8 316.4,437.5 317.7,437.2 319.1,436.9 320.4,436.6 321.7,436.4 323,436.1 324.4,435.8 325.7,435.6 327,435.4 328.3,435.1 329.7,434.9 331,434.7 332.3,434.5 333.6,434.3 335,434.1 336.3,433.9 337.6,433.7 339,433.6 340.3,433.4 341.6,433.2 342.9,433.1 344.3,433 345.6,432.8 346.9,432.7 348.2,432.6 349.6,432.5 350.9,432.4 352.2,432.3 353.5,432.3 354.9,432.2 356.2,432.1 357.5,432.1 358.8,432 360.2,432 361.5,432 362.8,432 364.1,432 365.5,432 366.8,432 368.1,432 369.4,432 370.8,432.1 372.1,432.1 373.4,432.2 374.7,432.2 376.1,432.3 377.4,432.4 378.7,432.5 380,432.6 381.4,432.7 382.7,432.8 384,433 385.3,433.1 386.7,433.3 388,433.4 389.3,433.6 390.6,433.8 392,434 393.3,434.2 394.6,434.4 395.9,434.7 397.3,434.9 398.6,435.1 399.9,435.4 401.2,435.7 402.6,436 403.9,436.3 405.2,436.6 406.6,436.9 407.9,437.2 409.2,437.5 410.5,437.9 411.9,438.2 413.2,438.6 414.5,439 415.8,439.4 417.2,439.8 418.5,440.2 419.8,440.7 421.1,441.1 422.5,441.6 423.8,442 425.1,442.5 426.4,443 427.8,443.5 429.1,444 430.4,444.5 431.7,445.1 433.1,445.6 434.4,446.2 435.7,446.8 437,447.3 438.4,447.9 439.7,448.6 441,449.2 442.3,449.8 443.7,450.5 445,451.1 446.3,451.8 447.6,452.5 449,453.2 450.3,453.9 451.6,454.6 452.9,455.4 454.3,456.1 455.6,456.9 456.9,457.7 458.2,458.5 459.6,459.3 460.9,460.1 462.2,460.9 463.5,461.8 464.9,462.6 466.2,463.5 467.5,464.4 468.8,465.3 470.2,466.2 471.5,467.1 472.8,468.1 474.2,469 475.5,470 476.8,471 478.1,472 479.5,473 480.8,474 482.1,475 483.4,476.1 484.8,477.2 486.1,478.2 487.4,479.3 488.7,480.4 490.1,481.6 491.4,482.7 492.7,483.9 494,485 495.4,486.2 496.7,487.4 498,488.6 499.3,489.8 500.7,491.1 502,492.3 503.3,493.6 504.6,494.9 506,496.2 507.3,497.5 508.6,498.8 509.9,500.2 511.3,501.5 512.6,502.9 513.9,504.3 515.2,505.7 516.6,507.1 517.9,508.5 519.2,510 520.5,511.5 521.9,512.9 523.2,514.4 524.5,516 525.8,517.5 527.2,519 528.5,520.6 529.8,522.2 531.1,523.8 532.5,525.4 533.8,527 535.1,528.6 536.5,530.3 537.8,532 539.1,533.7 540.4,535.4 541.8,537.1 543.1,538.8 544.4,540.6 545.7,542.4 547.1,544.2 548.4,546 549.7,547.8 550.4,548.7"/>
<polyline class="c" stroke="#222222" points="164.6,548.9 166,547.1 167.3,545.3 168.6,543.5 169.9,541.7 171.3,539.9 172.6,538.2 173.9,536.4 175.3,534.7 176.6,533 177.9,531.4 179.2,529.7 180.6,528.1 181.9,526.4 183.2,524.8 184.5,523.3 185.9,521.7 187.2,520.1 188.5,518.6 189.8,517.1 191.2,515.6 192.5,514.1 193.8,512.6 195.1,511.2 196.5,509.7 197.8,508.3 199.1,506.9 200.4,505.5 201.8,504.1 203.1,502.8 204.4,501.5 205.7,500.1 207.1,498.8 208.4,497.5 209.7,496.3 211,495 212.4,493.8 213.7,492.6 215,491.3 216.3,490.1 217.7,489 219,487.8 220.3,486.7 221.6,485.5 223,484.4 224.3,483.3 225.6,482.2 226.9,481.2 228.3,480.1 229.6,479.1 230.9,478 232.2,477 233.6,476 234.9,475 236.2,474.1 237.5,473.1 238.9,472.2 240.2,471.3 241.5,470.3 242.9,469.4 244.2,468.6 245.5,467.7 246.8,466.8 248.2,466 249.5,465.2 250.8,464.3 252.1,463.5 253.5,462.7 254.8,462 256.1,461.2 257.4,460.4 258.8,459.7 260.1,459 261.4,458.2 262.7,457.5 264.1,456.9 265.4,456.2 266.7,455.5 268,454.8 269.4,454.2 270.7,453.6 272,452.9 273.3,452.3 274.7,451.7 276,451.1 277.3,450.6 278.6,450 280,449.4 281.3,448.9 282.6,448.3 283.9,447.8 285.3,447.3 286.6,446.8 287.9,446.3 289.2,445.8 290.6,445.3 291.9,444.9 293.2,444.4 294.5,444 295.9,443.5 297.2,443.1 298.5,442.7 299.8,442.3 301.2,441.9 302.5,441.5 303.8,441.1 305.2,440.7 306.5,440.3 307.8,440 309.1,439.6 310.5,439.3 311.8,439 313.1,438.7 314.4,438.3 315.8,438 317.1,437.7 318.4,437.4 319.7,437.2 321.1,436.9 322.4,436.6 323.7,436.4 325,436.1 326.4,435.9 327.7,435.7 329,435.4 330.3,435.2 331.7,435 333,434.8 334.3,434.6 335.6,434.4 337,434.3 338.3,434.1 339.6,433.9 340.9,433.8 342.3,433.7 343.6,433.5 344.9,433.4 346.2,433.3 347.6,433.2 348.9,433.1 350.2,433 351.5,432.9 352.9,432.8 354.2,432.7 355.5,432.7 356.8,432.6 358.2,432.6 359.5,432.6 360.8,432.5 362.1,432.5 363.5,432.5 364.8,432.5 366.1,432.5 367.4,432.5 368.8,432.6 370.1,432.6 371.4,432.7 372.8,432.7 374.1,432.8 375.4,432.9 376.7,432.9 378.1,433 379.4,433.1 380.7,433.2 382,433.4 383.4,433.5 384.7,433.6 386,433.8 387.3,434 388.7,434.1 390,434.3 391.3,434.5 392.6,434.7 394,434.9 395.3,435.1 396.6,435.4 397.9,435.6 399.3,435.8 400.6,436.1 401.9,436.4 403.2,436.7 404.6,437 405.9,437.3 407.2,437.6 408.5,437.9 409.9,438.2 411.2,438.6 412.5,438.9 413.8,439.3 415.2,439.7 416.5,440.1 417.8,440.5 419.1,440.9 420.5,441.3 421.8,441.7 423.1,442.2 424.4,442.7 425.8,443.1 427.1,443.6 428.4,444.1 429.7,444.6 431.1,445.1 432.4,445.6 433.7,446.2 435,446.7 436.4,447.3 437.7,447.9 439,448.5 440.4,449.1 441.7,449.7 443,450.3 444.3,450.9 445.7,451.6 447,452.2 448.3,452.9 449.6,453.6 451,454.3 452.3,455 453.6,455.7 454.9,456.4 456.3,457.2 457.6,457.9 458.9,458.7 460.2,459.5 461.6,460.3 462.9,461.1 464.2,461.9 465.5,462.8 466.9,463.6 468.2,464.5 469.5,465.3 470.8,466.2 472.2,467.1 473.5,468 474.8,468.9 476.1,469.9 477.5,470.8 478.8,471.8 480.1,472.8 481.4,473.8 482.8,474.8 484.1,475.8 485.4,476.8 486.7,477.9 488.1,478.9 489.4,480 490.7,481.1 492,482.2 493.4,483.3 494.7,484.4 496,485.5 497.3,486.7 498.7,487.9 500,489 501.3,490.2 502.6,491.4 504,492.7 505.3,493.9 506.6,495.1 508,496.4 509.3,497.7 510.6,499 511.9,500.3 513.3,501.6 514.6,502.9 515.9,504.3 517.2,505.7 518.6,507 519.9,508.4 521.2,509.8 522.5,511.3 523.9,512.7 525.2,514.2 526.5,515.6 527.8,517.1 529.2,518.6 530.5,520.1 531.8,521.7 533.1,523.2 534.5,524.8 535.8,526.3 537.1,527.9 538.4,529.5 539.8,531.1 541.1,532.8 542.4,534.4 543.7,536.1 545.1,537.8 546.4,539.5 547.7,541.2 549,542.9 550.4,544.7 551.7,546.4 553,548.2"/>
<polyline class="c" stroke="#4055a8" points="162,548.3 163.3,546.6 164.6,544.8 166,543.1 167.3,541.3 168.6,539.6 169.9,538 171.3,536.3 172.6,534.6 173.9,533 175.3,531.4 176.6,529.8 177.9,528.2 179.2,526.6 180.6,525 181.9,523.5 183.2,522 184.5,520.5 185.9,519 187.2,517.5 188.5,516.1 189.8,514.6 191.2,513.2 192.5,511.8 193.8,510.4 195.1,509 196.5,507.6 197.8,506.3 199.1,504.9 200.4,503.6 201.8,502.3 203.1,501 204.4,499.7 205.7,498.5 207.1,497.2 208.4,496 209.7,494.8 211,493.6 212.4,492.4 213.7,491.2 215,490.1 216.3,489 217.7,487.8 219,486.7 220.3,485.6 221.6,484.5 223,483.5 224.3,482.4 225.6,481.4 226.9,480.3 228.3,479.3 229.6,478.3 230.9,477.3 232.2,476.4 233.6,475.4 234.9,474.5 236.2,473.5 237.5,472.6 238.9,471.7 240.2,470.8 241.5,469.9 242.9,469.1 244.2,468.2 245.5,467.4 246.8,466.5 248.2,465.7 249.5,464.9 250.8,464.1 252.1,463.3 253.5,462.6 254.8,461.8 256.1,461.1 257.4,460.3 258.8,459.6 260.1,458.9 261.4,458.2 262.7,457.5 264.1,456.9 265.4,456.2 266.7,455.5 268,454.9 269.4,454.3 270.7,453.7 272,453 273.3,452.4 274.7,451.9 276,451.3 277.3,450.7 278.6,450.2 280,449.6 281.3,449.1 282.6,448.6 283.9,448 285.3,447.5 286.6,447 287.9,446.5 289.2,446.1 290.6,445.6 291.9,445.1 293.2,444.7 294.5,444.3 295.9,443.8 297.2,443.4 298.5,443 299.8,442.6 301.2,442.2 302.5,441.8 303.8,441.4 305.2,441.1 306.5,440.7 307.8,440.4 309.1,440 310.5,439.7 311.8,439.4 313.1,439 314.4,438.7 315.8,438.4 317.1,438.1 318.4,437.9 319.7,437.6 321.1,437.3 322.4,437.1 323.7,436.8 325,436.6 326.4,436.3 327.7,436.1 329,435.9 330.3,435.7 331.7,435.5 333,435.3 334.3,435.1 335.6,434.9 337,434.7 338.3,434.6 339.6,434.4 340.9,434.3 342.3,434.1 343.6,434 344.9,433.9 346.2,433.8 347.6,433.7 348.9,433.6 350.2,433.5 351.5,433.4 352.9,433.4 354.2,433.3 355.5,433.2 356.8,433.2 358.2,433.1 359.5,433.1 360.8,433.1 362.1,433.1 363.5,433.1 364.8,433.1 366.1,433.1 367.4,433.1 368.8,433.2 370.1,433.2 371.4,433.2 372.8,433.3 374.1,433.4 375.4,433.4 376.7,433.5 378.1,433.6 379.4,433.7 380.7,433.8 382,434 383.4,434.1 384.7,434.2 386,434.4 387.3,434.5 388.7,434.7 390,434.9 391.3,435.1 392.6,435.3 394,435.5 395.3,435.7 396.6,435.9 397.9,436.2 399.3,436.4 400.6,436.7 401.9,436.9 403.2,437.2 404.6,437.5 405.9,437.8 407.2,438.1 408.5,438.4 409.9,438.7 411.2,439.1 412.5,439.4 413.8,439.8 415.2,440.2 416.5,440.5 417.8,440.9 419.1,441.3 420.5,441.7 421.8,442.2 423.1,442.6 424.4,443.1 425.8,443.5 427.1,444 428.4,444.5 429.7,444.9 431.1,445.4 432.4,446 433.7,446.5 435,447 436.4,447.6 437.7,448.1 439,448.7 440.4,449.3 441.7,449.8 443,450.4 444.3,451.1 445.7,451.7 447,452.3 448.3,453 449.6,453.6 451,454.3 452.3,455 453.6,455.7 454.9,456.4 456.3,457.1 457.6,457.8 458.9,458.6 460.2,459.3 461.6,460.1 462.9,460.9 464.2,461.7 465.5,462.5 466.9,463.3 468.2,464.1 469.5,465 470.8,465.8 472.2,466.7 473.5,467.5 474.8,468.4 476.1,469.3 477.5,470.2 478.8,471.2 480.1,472.1 481.4,473.1 482.8,474 484.1,475 485.4,476 486.7,477 488.1,478 489.4,479 490.7,480.1 492,481.1 493.4,482.2 494.7,483.3 496,484.4 497.3,485.5 498.7,486.6 500,487.7 501.3,488.9 502.6,490 504,491.2 505.3,492.4 506.6,493.6 508,494.8 509.3,496 510.6,497.3 511.9,498.5 513.3,499.8 514.6,501.1 515.9,502.3 517.2,503.6 518.6,505 519.9,506.3 521.2,507.6 522.5,509 523.9,510.4 525.2,511.8 526.5,513.2 527.8,514.6 529.2,516 530.5,517.5 531.8,518.9 533.1,520.4 534.5,521.9 535.8,523.4 537.1,524.9 538.4,526.4 539.8,528 541.1,529.5 542.4,531.1 543.7,532.7 545.1,534.3 546.4,535.9 547.7,537.6 549,539.2 550.4,540.9 551.7,542.5 553,544.2 554.3,545.9 555.7,547.7 556.3,548.5"/>
<polyline class="c" stroke="#23894f" points="158.7,548.6 160,546.9 161.3,545.2 162.7,543.5 164,541.9 165.3,540.2 166.6,538.6 168,536.9 169.3,535.3 170.6,533.7 171.9,532.2 173.3,530.6 174.6,529 175.9,527.5 177.2,526 178.6,524.5 179.9,523 181.2,521.5 182.5,520.1 183.9,518.6 185.2,517.2 186.5,515.8 187.8,514.4 189.2,513 190.5,511.7 191.8,510.3 193.1,509 194.5,507.6 195.8,506.3 197.1,505 198.4,503.8 199.8,502.5 201.1,501.2 202.4,500 203.7,498.8 205.1,497.6 206.4,496.4 207.7,495.2 209.1,494 210.4,492.9 211.7,491.7 213,490.6 214.4,489.5 215.7,488.4 217,487.3 218.3,486.2 219.7,485.2 221,484.1 222.3,483.1 223.6,482.1 225,481.1 226.3,480.1 227.6,479.1 228.9,478.1 230.3,477.2 231.6,476.2 232.9,475.3 234.2,474.4 235.6,473.5 236.9,472.6 238.2,471.7 239.5,470.8 240.9,470 242.2,469.1 243.5,468.3 244.8,467.5 246.2,466.7 247.5,465.9 248.8,465.1 250.1,464.3 251.5,463.6 252.8,462.8 254.1,462.1 255.4,461.3 256.8,460.6 258.1,459.9 259.4,459.2 260.7,458.5 262.1,457.9 263.4,457.2 264.7,456.6 266,455.9 267.4,455.3 268.7,454.7 270,454.1 271.4,453.5 272.7,452.9 274,452.3 275.3,451.7 276.7,451.2 278,450.6 279.3,450.1 280.6,449.5 282,449 283.3,448.5 284.6,448 285.9,447.5 287.3,447 288.6,446.6 289.9,446.1 291.2,445.7 292.6,445.2 293.9,444.8 295.2,444.3 296.5,443.9 297.9,443.5 299.2,443.1 300.5,442.7 301.8,442.3 303.2,442 304.5,441.6 305.8,441.2 307.1,440.9 308.5,440.6 309.8,440.2 311.1,439.9 312.4,439.6 313.8,439.3 315.1,439 316.4,438.7 317.7,438.4 319.1,438.1 320.4,437.9 321.7,437.6 323,437.4 324.4,437.1 325.7,436.9 327,436.7 328.3,436.5 329.7,436.2 331,436 332.3,435.9 333.6,435.7 335,435.5 336.3,435.3 337.6,435.2 339,435 340.3,434.9 341.6,434.7 342.9,434.6 344.3,434.5 345.6,434.4 346.9,434.3 348.2,434.2 349.6,434.1 350.9,434 352.2,433.9 353.5,433.9 354.9,433.8 356.2,433.8 357.5,433.7 358.8,433.7 360.2,433.7 361.5,433.7 362.8,433.7 364.1,433.7 365.5,433.7 366.8,433.7 368.1,433.7 369.4,433.8 370.8,433.8 372.1,433.9 373.4,433.9 374.7,434 376.1,434.1 377.4,434.2 378.7,434.3 380,434.4 381.4,434.5 382.7,434.6 384,434.8 385.3,434.9 386.7,435.1 388,435.2 389.3,435.4 390.6,435.6 392,435.8 393.3,436 394.6,436.2 395.9,436.4 397.3,436.6 398.6,436.9 399.9,437.1 401.2,437.4 402.6,437.6 403.9,437.9 405.2,438.2 406.6,438.5 407.9,438.8 409.2,439.1 410.5,439.4 411.9,439.8 413.2,440.1 414.5,440.5 415.8,440.8 417.2,441.2 418.5,441.6 419.8,442 421.1,442.4 422.5,442.8 423.8,443.2 425.1,443.7 426.4,444.1 427.8,444.6 429.1,445 430.4,445.5 431.7,446 433.1,446.5 434.4,447 435.7,447.6 437,448.1 438.4,448.6 439.7,449.2 441,449.7 442.3,450.3 443.7,450.9 445,451.5 446.3,452.1 447.6,452.7 449,453.4 450.3,454 451.6,454.7 452.9,455.3 454.3,456 455.6,456.7 456.9,457.4 458.2,458.1 459.6,458.8 460.9,459.6 462.2,460.3 463.5,461.1 464.9,461.8 466.2,462.6 467.5,463.4 468.8,464.2 470.2,465 471.5,465.8 472.8,466.7 474.2,467.5 475.5,468.4 476.8,469.3 478.1,470.2 479.5,471 480.8,472 482.1,472.9 483.4,473.8 484.8,474.8 486.1,475.7 487.4,476.7 488.7,477.7 490.1,478.7 491.4,479.7 492.7,480.7 494,481.7 495.4,482.8 496.7,483.8 498,484.9 499.3,486 500.7,487.1 502,488.2 503.3,489.3 504.6,490.4 506,491.5 507.3,492.7 508.6,493.9 509.9,495 511.3,496.2 512.6,497.4 513.9,498.7 515.2,499.9 516.6,501.1 517.9,502.4 519.2,503.7 520.5,505 521.9,506.3 523.2,507.6 524.5,508.9 525.8,510.2 527.2,511.6 528.5,512.9 529.8,514.3 531.1,515.7 532.5,517.1 533.8,518.5 535.1,519.9 536.5,521.4 537.8,522.8 539.1,524.3 540.4,525.8 541.8,527.3 543.1,528.8 544.4,530.3 545.7,531.9 547.1,533.4 548.4,535 549.7,536.6 551,538.2 552.4,539.8 553.7,541.4 555,543 556.3,544.7 557.7,546.3 559,548"/>
<polyline class="c" stroke="#e0413c" points="156,548.1 157.4,546.4 158.7,544.8 160,543.1 161.3,541.5 162.7,539.9 164,538.3 165.3,536.8 166.6,535.2 168,533.7 169.3,532.1 170.6,530.6 171.9,529.1 173.3,527.6 174.6,526.2 175.9,524.7 177.2,523.3 178.6,521.8 179.9,520.4 181.2,519 182.5,517.6 183.9,516.2 185.2,514.9 186.5,513.5 187.8,512.2 189.2,510.9 190.5,509.6 191.8,508.3 193.1,507 194.5,505.7 195.8,504.5 197.1,503.3 198.4,502 199.8,500.8 201.1,499.6 202.4,498.4 203.7,497.3 205.1,496.1 206.4,495 207.7,493.8 209.1,492.7 210.4,491.6 211.7,490.5 213,489.4 214.4,488.4 215.7,487.3 217,486.3 218.3,485.2 219.7,484.2 221,483.2 222.3,482.2 223.6,481.2 225,480.3 226.3,479.3 227.6,478.4 228.9,477.4 230.3,476.5 231.6,475.6 232.9,474.7 234.2,473.8 235.6,473 236.9,472.1 238.2,471.2 239.5,470.4 240.9,469.6 242.2,468.8 243.5,468 244.8,467.2 246.2,466.4 247.5,465.6 248.8,464.9 250.1,464.1 251.5,463.4 252.8,462.6 254.1,461.9 255.4,461.2 256.8,460.5 258.1,459.8 259.4,459.2 260.7,458.5 262.1,457.8 263.4,457.2 264.7,456.6 266,455.9 267.4,455.3 268.7,454.7 270,454.1 271.4,453.6 272.7,453 274,452.4 275.3,451.9 276.7,451.3 278,450.8 279.3,450.3 280.6,449.7 282,449.2 283.3,448.7 284.6,448.2 285.9,447.8 287.3,447.3 288.6,446.8 289.9,446.4 291.2,445.9 292.6,445.5 293.9,445.1 295.2,444.7 296.5,444.2 297.9,443.8 299.2,443.5 300.5,443.1 301.8,442.7 303.2,442.3 304.5,442 305.8,441.6 307.1,441.3 308.5,440.9 309.8,440.6 311.1,440.3 312.4,440 313.8,439.7 315.1,439.4 316.4,439.1 317.7,438.8 319.1,438.6 320.4,438.3 321.7,438.1 323,437.8 324.4,437.6 325.7,437.4 327,437.1 328.3,436.9 329.7,436.7 331,436.5 332.3,436.3 333.6,436.2 335,436 336.3,435.8 337.6,435.7 339,435.5 340.3,435.4 341.6,435.3 342.9,435.1 344.3,435 345.6,434.9 346.9,434.8 348.2,434.7 349.6,434.6 350.9,434.6 352.2,434.5 353.5,434.4 354.9,434.4 356.2,434.3 357.5,434.3 358.8,434.3 360.2,434.3 361.5,434.2 362.8,434.2 364.1,434.2 365.5,434.3 366.8,434.3 368.1,434.3 369.4,434.4 370.8,434.4 372.1,434.5 373.4,434.5 374.7,434.6 376.1,434.7 377.4,434.8 378.7,434.9 380,435 381.4,435.1 382.7,435.2 384,435.4 385.3,435.5 386.7,435.6 388,435.8 389.3,436 390.6,436.2 392,436.3 393.3,436.5 394.6,436.7 395.9,437 397.3,437.2 398.6,437.4 399.9,437.7 401.2,437.9 402.6,438.2 403.9,438.4 405.2,438.7 406.6,439 407.9,439.3 409.2,439.6 410.5,439.9 411.9,440.3 413.2,440.6 414.5,440.9 415.8,441.3 417.2,441.7 418.5,442 419.8,442.4 421.1,442.8 422.5,443.2 423.8,443.6 425.1,444.1 426.4,444.5 427.8,444.9 429.1,445.4 430.4,445.9 431.7,446.3 433.1,446.8 434.4,447.3 435.7,447.8 437,448.3 438.4,448.9 439.7,449.4 441,450 442.3,450.5 443.7,451.1 445,451.7 446.3,452.2 447.6,452.8 449,453.5 450.3,454.1 451.6,454.7 452.9,455.4 454.3,456 455.6,456.7 456.9,457.3 458.2,458 459.6,458.7 460.9,459.4 462.2,460.2 463.5,460.9 464.9,461.6 466.2,462.4 467.5,463.1 468.8,463.9 470.2,464.7 471.5,465.5 472.8,466.3 474.2,467.1 475.5,468 476.8,468.8 478.1,469.6 479.5,470.5 480.8,471.4 482.1,472.3 483.4,473.2 484.8,474.1 486.1,475 487.4,475.9 488.7,476.9 490.1,477.8 491.4,478.8 492.7,479.8 494,480.8 495.4,481.8 496.7,482.8 498,483.8 499.3,484.8 500.7,485.9 502,487 503.3,488 504.6,489.1 506,490.2 507.3,491.3 508.6,492.4 509.9,493.6 511.3,494.7 512.6,495.9 513.9,497 515.2,498.2 516.6,499.4 517.9,500.6 519.2,501.8 520.5,503.1 521.9,504.3 523.2,505.6 524.5,506.8 525.8,508.1 527.2,509.4 528.5,510.7 529.8,512 531.1,513.4 532.5,514.7 533.8,516.1 535.1,517.4 536.5,518.8 537.8,520.2 539.1,521.6 540.4,523 541.8,524.5 543.1,525.9 544.4,527.4 545.7,528.8 547.1,530.3 548.4,531.8 549.7,533.3 551,534.8 552.4,536.4 553.7,537.9 555,539.5 556.3,541.1 557.7,542.6 559,544.3 560.3,545.9 561.6,547.5 562.3,548.3"/>
<polyline class="c" stroke="#45c0c8" points="152.7,548.4 154,546.8 155.4,545.2 156.7,543.6 158,542 159.3,540.4 160.7,538.9 162,537.4 163.3,535.9 164.6,534.3 166,532.9 167.3,531.4 168.6,529.9 169.9,528.5 171.3,527 172.6,525.6 173.9,524.2 175.3,522.8 176.6,521.4 177.9,520 179.2,518.7 180.6,517.3 181.9,516 183.2,514.7 184.5,513.4 185.9,512.1 187.2,510.8 188.5,509.5 189.8,508.3 191.2,507 192.5,505.8 193.8,504.6 195.1,503.4 196.5,502.2 197.8,501 199.1,499.9 200.4,498.7 201.8,497.6 203.1,496.4 204.4,495.3 205.7,494.2 207.1,493.1 208.4,492 209.7,491 211,489.9 212.4,488.9 213.7,487.8 215,486.8 216.3,485.8 217.7,484.8 219,483.8 220.3,482.9 221.6,481.9 223,480.9 224.3,480 225.6,479.1 226.9,478.2 228.3,477.3 229.6,476.4 230.9,475.5 232.2,474.6 233.6,473.8 234.9,472.9 236.2,472.1 237.5,471.2 238.9,470.4 240.2,469.6 241.5,468.8 242.9,468 244.2,467.3 245.5,466.5 246.8,465.8 248.2,465 249.5,464.3 250.8,463.6 252.1,462.8 253.5,462.1 254.8,461.5 256.1,460.8 257.4,460.1 258.8,459.4 260.1,458.8 261.4,458.2 262.7,457.5 264.1,456.9 265.4,456.3 266.7,455.7 268,455.1 269.4,454.5 270.7,453.9 272,453.4 273.3,452.8 274.7,452.3 276,451.7 277.3,451.2 278.6,450.7 280,450.2 281.3,449.7 282.6,449.2 283.9,448.7 285.3,448.2 286.6,447.8 287.9,447.3 289.2,446.9 290.6,446.4 291.9,446 293.2,445.6 294.5,445.2 295.9,444.8 297.2,444.4 298.5,444 299.8,443.6 301.2,443.2 302.5,442.9 303.8,442.5 305.2,442.2 306.5,441.8 307.8,441.5 309.1,441.2 310.5,440.9 311.8,440.6 313.1,440.3 314.4,440 315.8,439.7 317.1,439.4 318.4,439.2 319.7,438.9 321.1,438.7 322.4,438.4 323.7,438.2 325,438 326.4,437.7 327.7,437.5 329,437.3 330.3,437.1 331.7,436.9 333,436.8 334.3,436.6 335.6,436.4 337,436.3 338.3,436.1 339.6,436 340.9,435.9 342.3,435.7 343.6,435.6 344.9,435.5 346.2,435.4 347.6,435.3 348.9,435.2 350.2,435.2 351.5,435.1 352.9,435 354.2,435 355.5,434.9 356.8,434.9 358.2,434.9 359.5,434.8 360.8,434.8 362.1,434.8 363.5,434.8 364.8,434.8 366.1,434.9 367.4,434.9 368.8,434.9 370.1,435 371.4,435 372.8,435.1 374.1,435.2 375.4,435.2 376.7,435.3 378.1,435.4 379.4,435.5 380.7,435.6 382,435.8 383.4,435.9 384.7,436 386,436.2 387.3,436.3 388.7,436.5 390,436.6 391.3,436.8 392.6,437 394,437.2 395.3,437.4 396.6,437.6 397.9,437.9 399.3,438.1 400.6,438.3 401.9,438.6 403.2,438.8 404.6,439.1 405.9,439.4 407.2,439.7 408.5,440 409.9,440.3 411.2,440.6 412.5,440.9 413.8,441.2 415.2,441.6 416.5,441.9 417.8,442.3 419.1,442.7 420.5,443.1 421.8,443.4 423.1,443.8 424.4,444.2 425.8,444.7 427.1,445.1 428.4,445.5 429.7,446 431.1,446.4 432.4,446.9 433.7,447.4 435,447.9 436.4,448.4 437.7,448.9 439,449.4 440.4,449.9 441.7,450.4 443,451 444.3,451.5 445.7,452.1 447,452.7 448.3,453.3 449.6,453.9 451,454.5 452.3,455.1 453.6,455.7 454.9,456.3 456.3,457 457.6,457.7 458.9,458.3 460.2,459 461.6,459.7 462.9,460.4 464.2,461.1 465.5,461.8 466.9,462.5 468.2,463.3 469.5,464 470.8,464.8 472.2,465.6 473.5,466.4 474.8,467.1 476.1,468 477.5,468.8 478.8,469.6 480.1,470.4 481.4,471.3 482.8,472.1 484.1,473 485.4,473.9 486.7,474.8 488.1,475.7 489.4,476.6 490.7,477.5 492,478.5 493.4,479.4 494.7,480.4 496,481.3 497.3,482.3 498.7,483.3 500,484.3 501.3,485.3 502.6,486.4 504,487.4 505.3,488.4 506.6,489.5 508,490.6 509.3,491.7 510.6,492.7 511.9,493.9 513.3,495 514.6,496.1 515.9,497.2 517.2,498.4 518.6,499.6 519.9,500.7 521.2,501.9 522.5,503.1 523.9,504.3 525.2,505.5 526.5,506.8 527.8,508 529.2,509.3 530.5,510.5 531.8,511.8 533.1,513.1 534.5,514.4 535.8,515.7 537.1,517.1 538.4,518.4 539.8,519.8 541.1,521.1 542.4,522.5 543.7,523.9 545.1,525.3 546.4,526.7 547.7,528.1 549,529.6 550.4,531 551.7,532.5 553,534 554.3,535.4 555.7,536.9 557,538.5 558.3,540 559.6,541.5 561,543.1 562.3,544.6 563.6,546.2 564.9,547.8 565.6,548.6"/>
<polyline class="c" stroke="#a556ab" points="149.4,548.7 150.7,547.1 152.1,545.5 153.4,544 154.7,542.5 156,540.9 157.4,539.4 158.7,537.9 160,536.5 161.3,535 162.7,533.5 164,532.1 165.3,530.7 166.6,529.2 168,527.8 169.3,526.4 170.6,525.1 171.9,523.7 173.3,522.3 174.6,521 175.9,519.7 177.2,518.4 178.6,517.1 179.9,515.8 181.2,514.5 182.5,513.2 183.9,512 185.2,510.7 186.5,509.5 187.8,508.3 189.2,507.1 190.5,505.9 191.8,504.7 193.1,503.5 194.5,502.3 195.8,501.2 197.1,500.1 198.4,498.9 199.8,497.8 201.1,496.7 202.4,495.6 203.7,494.6 205.1,493.5 206.4,492.4 207.7,491.4 209.1,490.4 210.4,489.3 211.7,488.3 213,487.3 214.4,486.3 215.7,485.4 217,484.4 218.3,483.4 219.7,482.5 221,481.6 222.3,480.7 223.6,479.7 225,478.8 226.3,478 227.6,477.1 228.9,476.2 230.3,475.4 231.6,474.5 232.9,473.7 234.2,472.8 235.6,472 236.9,471.2 238.2,470.4 239.5,469.7 240.9,468.9 242.2,468.1 243.5,467.4 244.8,466.6 246.2,465.9 247.5,465.2 248.8,464.4 250.1,463.7 251.5,463 252.8,462.4 254.1,461.7 255.4,461 256.8,460.4 258.1,459.7 259.4,459.1 260.7,458.5 262.1,457.8 263.4,457.2 264.7,456.6 266,456 267.4,455.5 268.7,454.9 270,454.3 271.4,453.8 272.7,453.2 274,452.7 275.3,452.2 276.7,451.7 278,451.1 279.3,450.6 280.6,450.1 282,449.7 283.3,449.2 284.6,448.7 285.9,448.3 287.3,447.8 288.6,447.4 289.9,446.9 291.2,446.5 292.6,446.1 293.9,445.7 295.2,445.3 296.5,444.9 297.9,444.5 299.2,444.2 300.5,443.8 301.8,443.4 303.2,443.1 304.5,442.7 305.8,442.4 307.1,442.1 308.5,441.8 309.8,441.4 311.1,441.1 312.4,440.9 313.8,440.6 315.1,440.3 316.4,440 317.7,439.8 319.1,439.5 320.4,439.3 321.7,439 323,438.8 324.4,438.6 325.7,438.3 327,438.1 328.3,437.9 329.7,437.7 331,437.6 332.3,437.4 333.6,437.2 335,437 336.3,436.9 337.6,436.7 339,436.6 340.3,436.5 341.6,436.3 342.9,436.2 344.3,436.1 345.6,436 346.9,435.9 348.2,435.8 349.6,435.8 350.9,435.7 352.2,435.6 353.5,435.6 354.9,435.5 356.2,435.5 357.5,435.5 358.8,435.4 360.2,435.4 361.5,435.4 362.8,435.4 364.1,435.4 365.5,435.5 366.8,435.5 368.1,435.5 369.4,435.6 370.8,435.6 372.1,435.7 373.4,435.7 374.7,435.8 376.1,435.9 377.4,436 378.7,436.1 380,436.2 381.4,436.3 382.7,436.4 384,436.5 385.3,436.7 386.7,436.8 388,437 389.3,437.1 390.6,437.3 392,437.5 393.3,437.7 394.6,437.9 395.9,438.1 397.3,438.3 398.6,438.5 399.9,438.8 401.2,439 402.6,439.3 403.9,439.5 405.2,439.8 406.6,440.1 407.9,440.3 409.2,440.6 410.5,440.9 411.9,441.2 413.2,441.6 414.5,441.9 415.8,442.2 417.2,442.6 418.5,442.9 419.8,443.3 421.1,443.7 422.5,444.1 423.8,444.4 425.1,444.8 426.4,445.3 427.8,445.7 429.1,446.1 430.4,446.5 431.7,447 433.1,447.5 434.4,447.9 435.7,448.4 437,448.9 438.4,449.4 439.7,449.9 441,450.4 442.3,450.9 443.7,451.4 445,452 446.3,452.5 447.6,453.1 449,453.7 450.3,454.3 451.6,454.8 452.9,455.4 454.3,456.1 455.6,456.7 456.9,457.3 458.2,458 459.6,458.6 460.9,459.3 462.2,459.9 463.5,460.6 464.9,461.3 466.2,462 467.5,462.7 468.8,463.4 470.2,464.2 471.5,464.9 472.8,465.7 474.2,466.4 475.5,467.2 476.8,468 478.1,468.8 479.5,469.6 480.8,470.4 482.1,471.2 483.4,472 484.8,472.9 486.1,473.7 487.4,474.6 488.7,475.5 490.1,476.4 491.4,477.2 492.7,478.2 494,479.1 495.4,480 496.7,480.9 498,481.9 499.3,482.8 500.7,483.8 502,484.8 503.3,485.8 504.6,486.8 506,487.8 507.3,488.8 508.6,489.9 509.9,490.9 511.3,492 512.6,493 513.9,494.1 515.2,495.2 516.6,496.3 517.9,497.4 519.2,498.5 520.5,499.7 521.9,500.8 523.2,502 524.5,503.1 525.8,504.3 527.2,505.5 528.5,506.7 529.8,507.9 531.1,509.1 532.5,510.4 533.8,511.6 535.1,512.9 536.5,514.2 537.8,515.4 539.1,516.7 540.4,518 541.8,519.3 543.1,520.7 544.4,522 545.7,523.4 547.1,524.7 548.4,526.1 549.7,527.5 551,528.9 552.4,530.3 553.7,531.7 555,533.1 556.3,534.6 557.7,536 559,537.5 560.3,539 561.6,540.4 563,542 564.3,543.5 565.6,545 566.9,546.5 568.3,548.1"/>
<polyline class="c" stroke="#e0da6a" points="146.8,548.2 148.1,546.6 149.4,545.1 150.7,543.6 152.1,542.1 153.4,540.7 154.7,539.2 156,537.8 157.4,536.3 158.7,534.9 160,533.5 161.3,532.1 162.7,530.7 164,529.3 165.3,527.9 166.6,526.6 168,525.2 169.3,523.9 170.6,522.6 171.9,521.3 173.3,520 174.6,518.7 175.9,517.4 177.2,516.2 178.6,514.9 179.9,513.7 181.2,512.4 182.5,511.2 183.9,510 185.2,508.8 186.5,507.7 187.8,506.5 189.2,505.3 190.5,504.2 191.8,503 193.1,501.9 194.5,500.8 195.8,499.7 197.1,498.6 198.4,497.5 199.8,496.5 201.1,495.4 202.4,494.4 203.7,493.3 205.1,492.3 206.4,491.3 207.7,490.3 209.1,489.3 210.4,488.3 211.7,487.3 213,486.4 214.4,485.4 215.7,484.5 217,483.6 218.3,482.6 219.7,481.7 221,480.8 222.3,479.9 223.6,479.1 225,478.2 226.3,477.3 227.6,476.5 228.9,475.6 230.3,474.8 231.6,474 232.9,473.2 234.2,472.4 235.6,471.6 236.9,470.8 238.2,470.1 239.5,469.3 240.9,468.6 242.2,467.8 243.5,467.1 244.8,466.4 246.2,465.7 247.5,465 248.8,464.3 250.1,463.6 251.5,462.9 252.8,462.2 254.1,461.6 255.4,460.9 256.8,460.3 258.1,459.7 259.4,459.1 260.7,458.5 262.1,457.9 263.4,457.3 264.7,456.7 266,456.1 267.4,455.5 268.7,455 270,454.4 271.4,453.9 272.7,453.4 274,452.8 275.3,452.3 276.7,451.8 278,451.3 279.3,450.8 280.6,450.4 282,449.9 283.3,449.4 284.6,449 285.9,448.5 287.3,448.1 288.6,447.7 289.9,447.2 291.2,446.8 292.6,446.4 293.9,446 295.2,445.6 296.5,445.3 297.9,444.9 299.2,444.5 300.5,444.2 301.8,443.8 303.2,443.5 304.5,443.1 305.8,442.8 307.1,442.5 308.5,442.2 309.8,441.9 311.1,441.6 312.4,441.3 313.8,441 315.1,440.7 316.4,440.5 317.7,440.2 319.1,440 320.4,439.7 321.7,439.5 323,439.3 324.4,439.1 325.7,438.8 327,438.6 328.3,438.4 329.7,438.3 331,438.1 332.3,437.9 333.6,437.7 335,437.6 336.3,437.4 337.6,437.3 339,437.2 340.3,437 341.6,436.9 342.9,436.8 344.3,436.7 345.6,436.6 346.9,436.5 348.2,436.4 349.6,436.3 350.9,436.3 352.2,436.2 353.5,436.2 354.9,436.1 356.2,436.1 357.5,436.1 358.8,436 360.2,436 361.5,436 362.8,436 364.1,436 365.5,436.1 366.8,436.1 368.1,436.1 369.4,436.2 370.8,436.2 372.1,436.3 373.4,436.3 374.7,436.4 376.1,436.5 377.4,436.6 378.7,436.7 380,436.8 381.4,436.9 382.7,437 384,437.1 385.3,437.3 386.7,437.4 388,437.6 389.3,437.7 390.6,437.9 392,438.1 393.3,438.3 394.6,438.5 395.9,438.7 397.3,438.9 398.6,439.1 399.9,439.3 401.2,439.5 402.6,439.8 403.9,440 405.2,440.3 406.6,440.6 407.9,440.9 409.2,441.1 410.5,441.4 411.9,441.7 413.2,442 414.5,442.4 415.8,442.7 417.2,443 418.5,443.4 419.8,443.7 421.1,444.1 422.5,444.5 423.8,444.9 425.1,445.2 426.4,445.6 427.8,446 429.1,446.5 430.4,446.9 431.7,447.3 433.1,447.8 434.4,448.2 435.7,448.7 437,449.2 438.4,449.6 439.7,450.1 441,450.6 442.3,451.1 443.7,451.6 445,452.2 446.3,452.7 447.6,453.2 449,453.8 450.3,454.4 451.6,454.9 452.9,455.5 454.3,456.1 455.6,456.7 456.9,457.3 458.2,457.9 459.6,458.6 460.9,459.2 462.2,459.9 463.5,460.5 464.9,461.2 466.2,461.9 467.5,462.5 468.8,463.2 470.2,463.9 471.5,464.7 472.8,465.4 474.2,466.1 475.5,466.9 476.8,467.6 478.1,468.4 479.5,469.2 480.8,469.9 482.1,470.7 483.4,471.5 484.8,472.3 486.1,473.2 487.4,474 488.7,474.8 490.1,475.7 491.4,476.6 492.7,477.4 494,478.3 495.4,479.2 496.7,480.1 498,481 499.3,482 500.7,482.9 502,483.8 503.3,484.8 504.6,485.8 506,486.7 507.3,487.7 508.6,488.7 509.9,489.7 511.3,490.7 512.6,491.8 513.9,492.8 515.2,493.8 516.6,494.9 517.9,496 519.2,497.1 520.5,498.1 521.9,499.2 523.2,500.4 524.5,501.5 525.8,502.6 527.2,503.8 528.5,504.9 529.8,506.1 531.1,507.2 532.5,508.4 533.8,509.6 535.1,510.8 536.5,512.1 537.8,513.3 539.1,514.5 540.4,515.8 541.8,517 543.1,518.3 544.4,519.6 545.7,520.9 547.1,522.2 548.4,523.5 549.7,524.8 551,526.2 552.4,527.5 553.7,528.9 555,530.2 556.3,531.6 557.7,533 559,534.4 560.3,535.8 561.6,537.3 563,538.7 564.3,540.2 565.6,541.6 566.9,543.1 568.3,544.6 569.6,546.1 570.9,547.6 571.6,548.3"/>
<polyline class="c" stroke="#222222" points="143.4,548.4 144.8,547 146.1,545.5 147.4,544 148.7,542.6 150.1,541.1 151.4,539.7 152.7,538.3 154,536.9 155.4,535.5 156.7,534.1 158,532.7 159.3,531.4 160.7,530 162,528.7 163.3,527.4 164.6,526 166,524.7 167.3,523.5 168.6,522.2 169.9,520.9 171.3,519.6 172.6,518.4 173.9,517.2 175.3,515.9 176.6,514.7 177.9,513.5 179.2,512.3 180.6,511.1 181.9,510 183.2,508.8 184.5,507.7 185.9,506.5 187.2,505.4 188.5,504.3 189.8,503.2 191.2,502.1 192.5,501 193.8,499.9 195.1,498.8 196.5,497.8 197.8,496.7 199.1,495.7 200.4,494.7 201.8,493.7 203.1,492.7 204.4,491.7 205.7,490.7 207.1,489.7 208.4,488.8 209.7,487.8 211,486.9 212.4,485.9 213.7,485 215,484.1 216.3,483.2 217.7,482.3 219,481.4 220.3,480.6 221.6,479.7 223,478.8 224.3,478 225.6,477.2 226.9,476.3 228.3,475.5 229.6,474.7 230.9,473.9 232.2,473.1 233.6,472.4 234.9,471.6 236.2,470.8 237.5,470.1 238.9,469.3 240.2,468.6 241.5,467.9 242.9,467.2 244.2,466.5 245.5,465.8 246.8,465.1 248.2,464.4 249.5,463.8 250.8,463.1 252.1,462.5 253.5,461.8 254.8,461.2 256.1,460.6 257.4,459.9 258.8,459.3 260.1,458.7 261.4,458.2 262.7,457.6 264.1,457 265.4,456.4 266.7,455.9 268,455.3 269.4,454.8 270.7,454.3 272,453.8 273.3,453.3 274.7,452.7 276,452.3 277.3,451.8 278.6,451.3 280,450.8 281.3,450.4 282.6,449.9 283.9,449.5 285.3,449 286.6,448.6 287.9,448.2 289.2,447.7 290.6,447.3 291.9,446.9 293.2,446.5 294.5,446.2 295.9,445.8 297.2,445.4 298.5,445.1 299.8,444.7 301.2,444.4 302.5,444 303.8,443.7 305.2,443.4 306.5,443.1 307.8,442.8 309.1,442.5 310.5,442.2 311.8,441.9 313.1,441.6 314.4,441.3 315.8,441.1 317.1,440.8 318.4,440.6 319.7,440.3 321.1,440.1 322.4,439.9 323.7,439.7 325,439.5 326.4,439.3 327.7,439.1 329,438.9 330.3,438.7 331.7,438.5 333,438.4 334.3,438.2 335.6,438.1 337,437.9 338.3,437.8 339.6,437.7 340.9,437.5 342.3,437.4 343.6,437.3 344.9,437.2 346.2,437.1 347.6,437 348.9,437 350.2,436.9 351.5,436.8 352.9,436.8 354.2,436.7 355.5,436.7 356.8,436.7 358.2,436.7 359.5,436.6 360.8,436.6 362.1,436.6 363.5,436.6 364.8,436.7 366.1,436.7 367.4,436.7 368.8,436.7 370.1,436.8 371.4,436.8 372.8,436.9 374.1,437 375.4,437 376.7,437.1 378.1,437.2 379.4,437.3 380.7,437.4 382,437.5 383.4,437.7 384.7,437.8 386,437.9 387.3,438.1 388.7,438.2 390,438.4 391.3,438.6 392.6,438.7 394,438.9 395.3,439.1 396.6,439.3 397.9,439.5 399.3,439.8 400.6,440 401.9,440.2 403.2,440.5 404.6,440.7 405.9,441 407.2,441.2 408.5,441.5 409.9,441.8 411.2,442.1 412.5,442.4 413.8,442.7 415.2,443 416.5,443.3 417.8,443.7 419.1,444 420.5,444.3 421.8,444.7 423.1,445.1 424.4,445.4 425.8,445.8 427.1,446.2 428.4,446.6 429.7,447 431.1,447.4 432.4,447.9 433.7,448.3 435,448.8 436.4,449.2 437.7,449.7 439,450.1 440.4,450.6 441.7,451.1 443,451.6 444.3,452.1 445.7,452.6 447,453.1 448.3,453.7 449.6,454.2 451,454.8 452.3,455.3 453.6,455.9 454.9,456.5 456.3,457 457.6,457.6 458.9,458.2 460.2,458.9 461.6,459.5 462.9,460.1 464.2,460.8 465.5,461.4 466.9,462.1 468.2,462.7 469.5,463.4 470.8,464.1 472.2,464.8 473.5,465.5 474.8,466.2 476.1,466.9 477.5,467.7 478.8,468.4 480.1,469.2 481.4,469.9 482.8,470.7 484.1,471.5 485.4,472.3 486.7,473.1 488.1,473.9 489.4,474.7 490.7,475.5 492,476.3 493.4,477.2 494.7,478.1 496,478.9 497.3,479.8 498.7,480.7 500,481.6 501.3,482.5 502.6,483.4 504,484.3 505.3,485.3 506.6,486.2 508,487.2 509.3,488.1 510.6,489.1 511.9,490.1 513.3,491.1 514.6,492.1 515.9,493.1 517.2,494.1 518.6,495.1 519.9,496.2 521.2,497.2 522.5,498.3 523.9,499.4 525.2,500.5 526.5,501.6 527.8,502.7 529.2,503.8 530.5,504.9 531.8,506 533.1,507.2 534.5,508.3 535.8,509.5 537.1,510.7 538.4,511.9 539.8,513.1 541.1,514.3 542.4,515.5 543.7,516.7 545.1,517.9 546.4,519.2 547.7,520.5 549,521.7 550.4,523 551.7,524.3 553,525.6 554.3,526.9 555.7,528.2 557,529.6 558.3,530.9 559.6,532.2 561,533.6 562.3,535 563.6,536.4 564.9,537.8 566.3,539.2 567.6,540.6 568.9,542 570.3,543.5 571.6,544.9 572.9,546.4 574.2,547.8 574.9,548.6"/>
<polyline class="c" stroke="#4055a8" points="140.1,548.7 141.5,547.3 142.8,545.8 144.1,544.4 145.4,543 146.8,541.6 148.1,540.2 149.4,538.8 150.7,537.4 152.1,536.1 153.4,534.7 154.7,533.4 156,532 157.4,530.7 158.7,529.4 160,528.1 161.3,526.8 162.7,525.5 164,524.3 165.3,523 166.6,521.8 168,520.5 169.3,519.3 170.6,518.1 171.9,516.9 173.3,515.7 174.6,514.5 175.9,513.4 177.2,512.2 178.6,511 179.9,509.9 181.2,508.8 182.5,507.6 183.9,506.5 185.2,505.4 186.5,504.3 187.8,503.3 189.2,502.2 190.5,501.1 191.8,500.1 193.1,499 194.5,498 195.8,497 197.1,496 198.4,495 199.8,494 201.1,493 202.4,492 203.7,491.1 205.1,490.1 206.4,489.2 207.7,488.3 209.1,487.3 210.4,486.4 211.7,485.5 213,484.6 214.4,483.7 215.7,482.9 217,482 218.3,481.1 219.7,480.3 221,479.5 222.3,478.6 223.6,477.8 225,477 226.3,476.2 227.6,475.4 228.9,474.6 230.3,473.8 231.6,473.1 232.9,472.3 234.2,471.6 235.6,470.8 236.9,470.1 238.2,469.4 239.5,468.7 240.9,468 242.2,467.3 243.5,466.6 244.8,465.9 246.2,465.3 247.5,464.6 248.8,463.9 250.1,463.3 251.5,462.7 252.8,462 254.1,461.4 255.4,460.8 256.8,460.2 258.1,459.6 259.4,459 260.7,458.5 262.1,457.9 263.4,457.3 264.7,456.8 266,456.2 267.4,455.7 268.7,455.2 270,454.7 271.4,454.2 272.7,453.7 274,453.2 275.3,452.7 276.7,452.2 278,451.7 279.3,451.3 280.6,450.8 282,450.4 283.3,449.9 284.6,449.5 285.9,449.1 287.3,448.7 288.6,448.2 289.9,447.8 291.2,447.5 292.6,447.1 293.9,446.7 295.2,446.3 296.5,446 297.9,445.6 299.2,445.3 300.5,444.9 301.8,444.6 303.2,444.3 304.5,443.9 305.8,443.6 307.1,443.3 308.5,443 309.8,442.7 311.1,442.5 312.4,442.2 313.8,441.9 315.1,441.7 316.4,441.4 317.7,441.2 319.1,440.9 320.4,440.7 321.7,440.5 323,440.3 324.4,440.1 325.7,439.9 327,439.7 328.3,439.5 329.7,439.3 331,439.1 332.3,439 333.6,438.8 335,438.7 336.3,438.5 337.6,438.4 339,438.3 340.3,438.2 341.6,438 342.9,437.9 344.3,437.8 345.6,437.8 346.9,437.7 348.2,437.6 349.6,437.5 350.9,437.5 352.2,437.4 353.5,437.4 354.9,437.3 356.2,437.3 357.5,437.3 358.8,437.2 360.2,437.2 361.5,437.2 362.8,437.2 364.1,437.3 365.5,437.3 366.8,437.3 368.1,437.3 369.4,437.4 370.8,437.4 372.1,437.5 373.4,437.5 374.7,437.6 376.1,437.7 377.4,437.8 378.7,437.9 380,438 381.4,438.1 382.7,438.2 384,438.3 385.3,438.5 386.7,438.6 388,438.7 389.3,438.9 390.6,439.1 392,439.2 393.3,439.4 394.6,439.6 395.9,439.8 397.3,440 398.6,440.2 399.9,440.4 401.2,440.6 402.6,440.9 403.9,441.1 405.2,441.4 406.6,441.6 407.9,441.9 409.2,442.1 410.5,442.4 411.9,442.7 413.2,443 414.5,443.3 415.8,443.6 417.2,443.9 418.5,444.3 419.8,444.6 421.1,445 422.5,445.3 423.8,445.7 425.1,446 426.4,446.4 427.8,446.8 429.1,447.2 430.4,447.6 431.7,448 433.1,448.4 434.4,448.8 435.7,449.3 437,449.7 438.4,450.2 439.7,450.6 441,451.1 442.3,451.6 443.7,452.1 445,452.6 446.3,453.1 447.6,453.6 449,454.1 450.3,454.6 451.6,455.2 452.9,455.7 454.3,456.3 455.6,456.8 456.9,457.4 458.2,458 459.6,458.6 460.9,459.2 462.2,459.8 463.5,460.4 464.9,461 466.2,461.6 467.5,462.3 468.8,462.9 470.2,463.6 471.5,464.2 472.8,464.9 474.2,465.6 475.5,466.3 476.8,467 478.1,467.7 479.5,468.4 480.8,469.2 482.1,469.9 483.4,470.7 484.8,471.4 486.1,472.2 487.4,473 488.7,473.7 490.1,474.5 491.4,475.3 492.7,476.2 494,477 495.4,477.8 496.7,478.6 498,479.5 499.3,480.4 500.7,481.2 502,482.1 503.3,483 504.6,483.9 506,484.8 507.3,485.7 508.6,486.6 509.9,487.6 511.3,488.5 512.6,489.5 513.9,490.4 515.2,491.4 516.6,492.4 517.9,493.4 519.2,494.4 520.5,495.4 521.9,496.4 523.2,497.4 524.5,498.5 525.8,499.5 527.2,500.6 528.5,501.6 529.8,502.7 531.1,503.8 532.5,504.9 533.8,506 535.1,507.1 536.5,508.2 537.8,509.4 539.1,510.5 540.4,511.7 541.8,512.8 543.1,514 544.4,515.2 545.7,516.4 547.1,517.6 548.4,518.8 549.7,520 551,521.3 552.4,522.5 553.7,523.8 555,525 556.3,526.3 557.7,527.6 559,528.9 560.3,530.2 561.6,531.5 563,532.8 564.3,534.2 565.6,535.5 566.9,536.9 568.3,538.2 569.6,539.6 570.9,541 572.2,542.4 573.6,543.8 574.9,545.2 576.2,546.6 577.5,548.1"/>
<polyline class="c" stroke="#23894f" points="137.5,548.2 138.8,546.8 140.1,545.4 141.5,544 142.8,542.7 144.1,541.3 145.4,539.9 146.8,538.6 148.1,537.3 149.4,535.9 150.7,534.6 152.1,533.3 153.4,532 154.7,530.7 156,529.4 157.4,528.2 158.7,526.9 160,525.7 161.3,524.4 162.7,523.2 164,522 165.3,520.8 166.6,519.6 168,518.4 169.3,517.2 170.6,516.1 171.9,514.9 173.3,513.8 174.6,512.6 175.9,511.5 177.2,510.4 178.6,509.3 179.9,508.2 181.2,507.1 182.5,506 183.9,505 185.2,503.9 186.5,502.8 187.8,501.8 189.2,500.8 190.5,499.8 191.8,498.7 193.1,497.7 194.5,496.8 195.8,495.8 197.1,494.8 198.4,493.8 199.8,492.9 201.1,491.9 202.4,491 203.7,490.1 205.1,489.1 206.4,488.2 207.7,487.3 209.1,486.4 210.4,485.6 211.7,484.7 213,483.8 214.4,483 215.7,482.1 217,481.3 218.3,480.5 219.7,479.6 221,478.8 222.3,478 223.6,477.2 225,476.5 226.3,475.7 227.6,474.9 228.9,474.2 230.3,473.4 231.6,472.7 232.9,471.9 234.2,471.2 235.6,470.5 236.9,469.8 238.2,469.1 239.5,468.4 240.9,467.7 242.2,467.1 243.5,466.4 244.8,465.7 246.2,465.1 247.5,464.4 248.8,463.8 250.1,463.2 251.5,462.6 252.8,462 254.1,461.4 255.4,460.8 256.8,460.2 258.1,459.6 259.4,459.1 260.7,458.5 262.1,457.9 263.4,457.4 264.7,456.9 266,456.3 267.4,455.8 268.7,455.3 270,454.8 271.4,454.3 272.7,453.8 274,453.3 275.3,452.9 276.7,452.4 278,451.9 279.3,451.5 280.6,451 282,450.6 283.3,450.2 284.6,449.8 285.9,449.4 287.3,449 288.6,448.6 289.9,448.2 291.2,447.8 292.6,447.4 293.9,447 295.2,446.7 296.5,446.3 297.9,446 299.2,445.6 300.5,445.3 301.8,445 303.2,444.7 304.5,444.4 305.8,444.1 307.1,443.8 308.5,443.5 309.8,443.2 311.1,442.9 312.4,442.7 313.8,442.4 315.1,442.1 316.4,441.9 317.7,441.7 319.1,441.4 320.4,441.2 321.7,441 323,440.8 324.4,440.6 325.7,440.4 327,440.2 328.3,440 329.7,439.9 331,439.7 332.3,439.5 333.6,439.4 335,439.2 336.3,439.1 337.6,439 339,438.8 340.3,438.7 341.6,438.6 342.9,438.5 344.3,438.4 345.6,438.3 346.9,438.3 348.2,438.2 349.6,438.1 350.9,438.1 352.2,438 353.5,438 354.9,437.9 356.2,437.9 357.5,437.9 358.8,437.9 360.2,437.8 361.5,437.8 362.8,437.8 364.1,437.9 365.5,437.9 366.8,437.9 368.1,437.9 369.4,438 370.8,438 372.1,438.1 373.4,438.1 374.7,438.2 376.1,438.3 377.4,438.4 378.7,438.5 380,438.6 381.4,438.7 382.7,438.8 384,438.9 385.3,439 386.7,439.2 388,439.3 389.3,439.5 390.6,439.6 392,439.8 393.3,440 394.6,440.2 395.9,440.3 397.3,440.5 398.6,440.7 399.9,441 401.2,441.2 402.6,441.4 403.9,441.6 405.2,441.9 406.6,442.1 407.9,442.4 409.2,442.7 410.5,442.9 411.9,443.2 413.2,443.5 414.5,443.8 415.8,444.1 417.2,444.4 418.5,444.7 419.8,445 421.1,445.4 422.5,445.7 423.8,446.1 425.1,446.4 426.4,446.8 427.8,447.2 429.1,447.6 430.4,447.9 431.7,448.3 433.1,448.7 434.4,449.2 435.7,449.6 437,450 438.4,450.5 439.7,450.9 441,451.4 442.3,451.8 443.7,452.3 445,452.8 446.3,453.3 447.6,453.7 449,454.3 450.3,454.8 451.6,455.3 452.9,455.8 454.3,456.3 455.6,456.9 456.9,457.4 458.2,458 459.6,458.6 460.9,459.2 462.2,459.7 463.5,460.3 464.9,460.9 466.2,461.5 467.5,462.2 468.8,462.8 470.2,463.4 471.5,464.1 472.8,464.7 474.2,465.4 475.5,466.1 476.8,466.8 478.1,467.4 479.5,468.1 480.8,468.8 482.1,469.6 483.4,470.3 484.8,471 486.1,471.8 487.4,472.5 488.7,473.3 490.1,474 491.4,474.8 492.7,475.6 494,476.4 495.4,477.2 496.7,478 498,478.8 499.3,479.6 500.7,480.5 502,481.3 503.3,482.2 504.6,483 506,483.9 507.3,484.8 508.6,485.7 509.9,486.6 511.3,487.5 512.6,488.4 513.9,489.4 515.2,490.3 516.6,491.2 517.9,492.2 519.2,493.2 520.5,494.1 521.9,495.1 523.2,496.1 524.5,497.1 525.8,498.1 527.2,499.1 528.5,500.2 529.8,501.2 531.1,502.2 532.5,503.3 533.8,504.4 535.1,505.4 536.5,506.5 537.8,507.6 539.1,508.7 540.4,509.8 541.8,510.9 543.1,512.1 544.4,513.2 545.7,514.4 547.1,515.5 548.4,516.7 549.7,517.9 551,519.1 552.4,520.3 553.7,521.5 555,522.7 556.3,523.9 557.7,525.1 559,526.4 560.3,527.6 561.6,528.9 563,530.2 564.3,531.5 565.6,532.7 566.9,534 568.3,535.4 569.6,536.7 570.9,538 572.2,539.4 573.6,540.7 574.9,542.1 576.2,543.4 577.5,544.8 578.9,546.2 580.2,547.6 580.9,548.3"/>
<polyline class="c" stroke="#e0413c" points="134.2,548.5 135.5,547.1 136.8,545.8 138.1,544.4 139.5,543 140.8,541.7 142.1,540.4 143.4,539.1 144.8,537.8 146.1,536.5 147.4,535.2 148.7,533.9 150.1,532.6 151.4,531.4 152.7,530.1 154,528.9 155.4,527.6 156.7,526.4 158,525.2 159.3,524 160.7,522.8 162,521.6 163.3,520.5 164.6,519.3 166,518.1 167.3,517 168.6,515.9 169.9,514.7 171.3,513.6 172.6,512.5 173.9,511.4 175.3,510.3 176.6,509.2 177.9,508.2 179.2,507.1 180.6,506.1 181.9,505 183.2,504 184.5,503 185.9,501.9 187.2,500.9 188.5,499.9 189.8,498.9 191.2,498 192.5,497 193.8,496 195.1,495.1 196.5,494.1 197.8,493.2 199.1,492.3 200.4,491.4 201.8,490.5 203.1,489.6 204.4,488.7 205.7,487.8 207.1,486.9 208.4,486 209.7,485.2 211,484.3 212.4,483.5 213.7,482.7 215,481.8 216.3,481 217.7,480.2 219,479.4 220.3,478.6 221.6,477.9 223,477.1 224.3,476.3 225.6,475.6 226.9,474.8 228.3,474.1 229.6,473.4 230.9,472.6 232.2,471.9 233.6,471.2 234.9,470.5 236.2,469.8 237.5,469.2 238.9,468.5 240.2,467.8 241.5,467.2 242.9,466.5 244.2,465.9 245.5,465.2 246.8,464.6 248.2,464 249.5,463.4 250.8,462.8 252.1,462.2 253.5,461.6 254.8,461 256.1,460.5 257.4,459.9 258.8,459.4 260.1,458.8 261.4,458.3 262.7,457.7 264.1,457.2 265.4,456.7 266.7,456.2 268,455.7 269.4,455.2 270.7,454.7 272,454.2 273.3,453.8 274.7,453.3 276,452.8 277.3,452.4 278.6,451.9 280,451.5 281.3,451.1 282.6,450.7 283.9,450.2 285.3,449.8 286.6,449.4 287.9,449.1 289.2,448.7 290.6,448.3 291.9,447.9 293.2,447.6 294.5,447.2 295.9,446.9 297.2,446.5 298.5,446.2 299.8,445.9 301.2,445.5 302.5,445.2 303.8,444.9 305.2,444.6 306.5,444.3 307.8,444.1 309.1,443.8 310.5,443.5 311.8,443.3 313.1,443 314.4,442.8 315.8,442.5 317.1,442.3 318.4,442 319.7,441.8 321.1,441.6 322.4,441.4 323.7,441.2 325,441 326.4,440.8 327.7,440.7 329,440.5 330.3,440.3 331.7,440.2 333,440 334.3,439.9 335.6,439.7 337,439.6 338.3,439.5 339.6,439.4 340.9,439.3 342.3,439.1 343.6,439.1 344.9,439 346.2,438.9 347.6,438.8 348.9,438.7 350.2,438.7 351.5,438.6 352.9,438.6 354.2,438.5 355.5,438.5 356.8,438.5 358.2,438.5 359.5,438.5 360.8,438.4 362.1,438.5 363.5,438.5 364.8,438.5 366.1,438.5 367.4,438.5 368.8,438.6 370.1,438.6 371.4,438.7 372.8,438.7 374.1,438.8 375.4,438.9 376.7,438.9 378.1,439 379.4,439.1 380.7,439.2 382,439.3 383.4,439.4 384.7,439.6 386,439.7 387.3,439.8 388.7,440 390,440.1 391.3,440.3 392.6,440.5 394,440.6 395.3,440.8 396.6,441 397.9,441.2 399.3,441.4 400.6,441.6 401.9,441.8 403.2,442.1 404.6,442.3 405.9,442.5 407.2,442.8 408.5,443 409.9,443.3 411.2,443.6 412.5,443.8 413.8,444.1 415.2,444.4 416.5,444.7 417.8,445 419.1,445.3 420.5,445.6 421.8,446 423.1,446.3 424.4,446.7 425.8,447 427.1,447.4 428.4,447.7 429.7,448.1 431.1,448.5 432.4,448.9 433.7,449.3 435,449.7 436.4,450.1 437.7,450.5 439,451 440.4,451.4 441.7,451.8 443,452.3 444.3,452.7 445.7,453.2 447,453.7 448.3,454.2 449.6,454.7 451,455.2 452.3,455.7 453.6,456.2 454.9,456.7 456.3,457.2 457.6,457.8 458.9,458.3 460.2,458.9 461.6,459.5 462.9,460 464.2,460.6 465.5,461.2 466.9,461.8 468.2,462.4 469.5,463 470.8,463.6 472.2,464.3 473.5,464.9 474.8,465.5 476.1,466.2 477.5,466.9 478.8,467.5 480.1,468.2 481.4,468.9 482.8,469.6 484.1,470.3 485.4,471 486.7,471.7 488.1,472.5 489.4,473.2 490.7,473.9 492,474.7 493.4,475.4 494.7,476.2 496,477 497.3,477.8 498.7,478.6 500,479.4 501.3,480.2 502.6,481 504,481.9 505.3,482.7 506.6,483.5 508,484.4 509.3,485.3 510.6,486.1 511.9,487 513.3,487.9 514.6,488.8 515.9,489.7 517.2,490.6 518.6,491.6 519.9,492.5 521.2,493.4 522.5,494.4 523.9,495.3 525.2,496.3 526.5,497.3 527.8,498.3 529.2,499.3 530.5,500.3 531.8,501.3 533.1,502.3 534.5,503.3 535.8,504.4 537.1,505.4 538.4,506.5 539.8,507.5 541.1,508.6 542.4,509.7 543.7,510.8 545.1,511.9 546.4,513 547.7,514.1 549,515.3 550.4,516.4 551.7,517.6 553,518.7 554.3,519.9 555.7,521 557,522.2 558.3,523.4 559.6,524.6 561,525.8 562.3,527.1 563.6,528.3 564.9,529.5 566.3,530.8 567.6,532 568.9,533.3 570.3,534.6 571.6,535.9 572.9,537.2 574.2,538.5 575.6,539.8 576.9,541.1 578.2,542.4 579.5,543.8 580.9,545.1 582.2,546.5 583.5,547.8 584.2,548.5"/>
<polyline class="c" stroke="#45c0c8" points="131.5,548.1 132.8,546.7 134.2,545.4 135.5,544.1 136.8,542.8 138.1,541.5 139.5,540.2 140.8,538.9 142.1,537.6 143.4,536.3 144.8,535.1 146.1,533.8 147.4,532.6 148.7,531.4 150.1,530.1 151.4,528.9 152.7,527.7 154,526.5 155.4,525.3 156.7,524.2 158,523 159.3,521.9 160.7,520.7 162,519.6 163.3,518.4 164.6,517.3 166,516.2 167.3,515.1 168.6,514 169.9,512.9 171.3,511.8 172.6,510.8 173.9,509.7 175.3,508.7 176.6,507.6 177.9,506.6 179.2,505.6 180.6,504.6 181.9,503.6 183.2,502.6 184.5,501.6 185.9,500.6 187.2,499.6 188.5,498.7 189.8,497.7 191.2,496.8 192.5,495.8 193.8,494.9 195.1,494 196.5,493.1 197.8,492.2 199.1,491.3 200.4,490.4 201.8,489.5 203.1,488.6 204.4,487.8 205.7,486.9 207.1,486.1 208.4,485.2 209.7,484.4 211,483.6 212.4,482.8 213.7,482 215,481.2 216.3,480.4 217.7,479.6 219,478.9 220.3,478.1 221.6,477.3 223,476.6 224.3,475.9 225.6,475.1 226.9,474.4 228.3,473.7 229.6,473 230.9,472.3 232.2,471.6 233.6,470.9 234.9,470.2 236.2,469.6 237.5,468.9 238.9,468.2 240.2,467.6 241.5,467 242.9,466.3 244.2,465.7 245.5,465.1 246.8,464.5 248.2,463.9 249.5,463.3 250.8,462.7 252.1,462.1 253.5,461.6 254.8,461 256.1,460.5 257.4,459.9 258.8,459.4 260.1,458.8 261.4,458.3 262.7,457.8 264.1,457.3 265.4,456.8 266.7,456.3 268,455.8 269.4,455.3 270.7,454.9 272,454.4 273.3,453.9 274.7,453.5 276,453 277.3,452.6 278.6,452.2 280,451.8 281.3,451.3 282.6,450.9 283.9,450.5 285.3,450.1 286.6,449.7 287.9,449.4 289.2,449 290.6,448.6 291.9,448.3 293.2,447.9 294.5,447.6 295.9,447.2 297.2,446.9 298.5,446.6 299.8,446.3 301.2,446 302.5,445.7 303.8,445.4 305.2,445.1 306.5,444.8 307.8,444.5 309.1,444.2 310.5,444 311.8,443.7 313.1,443.5 314.4,443.2 315.8,443 317.1,442.8 318.4,442.5 319.7,442.3 321.1,442.1 322.4,441.9 323.7,441.7 325,441.5 326.4,441.4 327.7,441.2 329,441 330.3,440.9 331.7,440.7 333,440.6 334.3,440.4 335.6,440.3 337,440.2 338.3,440 339.6,439.9 340.9,439.8 342.3,439.7 343.6,439.6 344.9,439.6 346.2,439.5 347.6,439.4 348.9,439.3 350.2,439.3 351.5,439.2 352.9,439.2 354.2,439.1 355.5,439.1 356.8,439.1 358.2,439.1 359.5,439.1 360.8,439.1 362.1,439.1 363.5,439.1 364.8,439.1 366.1,439.1 367.4,439.1 368.8,439.2 370.1,439.2 371.4,439.3 372.8,439.3 374.1,439.4 375.4,439.5 376.7,439.5 378.1,439.6 379.4,439.7 380.7,439.8 382,439.9 383.4,440 384.7,440.2 386,440.3 387.3,440.4 388.7,440.6 390,440.7 391.3,440.9 392.6,441 394,441.2 395.3,441.4 396.6,441.6 397.9,441.7 399.3,441.9 400.6,442.2 401.9,442.4 403.2,442.6 404.6,442.8 405.9,443 407.2,443.3 408.5,443.5 409.9,443.8 411.2,444 412.5,444.3 413.8,444.6 415.2,444.9 416.5,445.2 417.8,445.5 419.1,445.8 420.5,446.1 421.8,446.4 423.1,446.7 424.4,447.1 425.8,447.4 427.1,447.8 428.4,448.1 429.7,448.5 431.1,448.8 432.4,449.2 433.7,449.6 435,450 436.4,450.4 437.7,450.8 439,451.2 440.4,451.7 441.7,452.1 443,452.5 444.3,453 445.7,453.4 447,453.9 448.3,454.4 449.6,454.8 451,455.3 452.3,455.8 453.6,456.3 454.9,456.8 456.3,457.3 457.6,457.9 458.9,458.4 460.2,458.9 461.6,459.5 462.9,460 464.2,460.6 465.5,461.2 466.9,461.7 468.2,462.3 469.5,462.9 470.8,463.5 472.2,464.1 473.5,464.7 474.8,465.4 476.1,466 477.5,466.6 478.8,467.3 480.1,468 481.4,468.6 482.8,469.3 484.1,470 485.4,470.7 486.7,471.4 488.1,472.1 489.4,472.8 490.7,473.5 492,474.2 493.4,475 494.7,475.7 496,476.5 497.3,477.2 498.7,478 500,478.8 501.3,479.5 502.6,480.3 504,481.1 505.3,482 506.6,482.8 508,483.6 509.3,484.4 510.6,485.3 511.9,486.1 513.3,487 514.6,487.9 515.9,488.7 517.2,489.6 518.6,490.5 519.9,491.4 521.2,492.3 522.5,493.2 523.9,494.2 525.2,495.1 526.5,496 527.8,497 529.2,498 530.5,498.9 531.8,499.9 533.1,500.9 534.5,501.9 535.8,502.9 537.1,503.9 538.4,504.9 539.8,505.9 541.1,507 542.4,508 543.7,509.1 545.1,510.1 546.4,511.2 547.7,512.3 549,513.4 550.4,514.5 551.7,515.6 553,516.7 554.3,517.8 555.7,518.9 557,520.1 558.3,521.2 559.6,522.4 561,523.6 562.3,524.7 563.6,525.9 564.9,527.1 566.3,528.3 567.6,529.5 568.9,530.7 570.3,532 571.6,533.2 572.9,534.4 574.2,535.7 575.6,537 576.9,538.2 578.2,539.5 579.5,540.8 580.9,542.1 582.2,543.4 583.5,544.7 584.8,546.1 586.2,547.4 586.8,548.1"/>
<polyline class="c" stroke="#a556ab" points="128.2,548.3 129.5,547 130.8,545.7 132.2,544.4 133.5,543.1 134.8,541.8 136.1,540.6 137.5,539.3 138.8,538.1 140.1,536.8 141.5,535.6 142.8,534.4 144.1,533.2 145.4,532 146.8,530.8 148.1,529.6 149.4,528.4 150.7,527.2 152.1,526.1 153.4,524.9 154.7,523.8 156,522.6 157.4,521.5 158.7,520.4 160,519.3 161.3,518.2 162.7,517.1 164,516 165.3,514.9 166.6,513.9 168,512.8 169.3,511.7 170.6,510.7 171.9,509.7 173.3,508.6 174.6,507.6 175.9,506.6 177.2,505.6 178.6,504.6 179.9,503.7 181.2,502.7 182.5,501.7 183.9,500.8 185.2,499.8 186.5,498.9 187.8,497.9 189.2,497 190.5,496.1 191.8,495.2 193.1,494.3 194.5,493.4 195.8,492.5 197.1,491.6 198.4,490.8 199.8,489.9 201.1,489 202.4,488.2 203.7,487.4 205.1,486.5 206.4,485.7 207.7,484.9 209.1,484.1 210.4,483.3 211.7,482.5 213,481.7 214.4,481 215.7,480.2 217,479.4 218.3,478.7 219.7,477.9 221,477.2 222.3,476.5 223.6,475.8 225,475 226.3,474.3 227.6,473.6 228.9,473 230.3,472.3 231.6,471.6 232.9,470.9 234.2,470.3 235.6,469.6 236.9,469 238.2,468.3 239.5,467.7 240.9,467.1 242.2,466.5 243.5,465.9 244.8,465.3 246.2,464.7 247.5,464.1 248.8,463.5 250.1,463 251.5,462.4 252.8,461.8 254.1,461.3 255.4,460.7 256.8,460.2 258.1,459.7 259.4,459.2 260.7,458.7 262.1,458.1 263.4,457.6 264.7,457.2 266,456.7 267.4,456.2 268.7,455.7 270,455.3 271.4,454.8 272.7,454.4 274,453.9 275.3,453.5 276.7,453.1 278,452.6 279.3,452.2 280.6,451.8 282,451.4 283.3,451 284.6,450.6 285.9,450.2 287.3,449.9 288.6,449.5 289.9,449.1 291.2,448.8 292.6,448.4 293.9,448.1 295.2,447.8 296.5,447.5 297.9,447.1 299.2,446.8 300.5,446.5 301.8,446.2 303.2,445.9 304.5,445.6 305.8,445.4 307.1,445.1 308.5,444.8 309.8,444.6 311.1,444.3 312.4,444.1 313.8,443.8 315.1,443.6 316.4,443.4 317.7,443.2 319.1,442.9 320.4,442.7 321.7,442.5 323,442.4 324.4,442.2 325.7,442 327,441.8 328.3,441.6 329.7,441.5 331,441.3 332.3,441.2 333.6,441.1 335,440.9 336.3,440.8 337.6,440.7 339,440.6 340.3,440.5 341.6,440.4 342.9,440.3 344.3,440.2 345.6,440.1 346.9,440 348.2,440 349.6,439.9 350.9,439.8 352.2,439.8 353.5,439.8 354.9,439.7 356.2,439.7 357.5,439.7 358.8,439.7 360.2,439.7 361.5,439.7 362.8,439.7 364.1,439.7 365.5,439.7 366.8,439.7 368.1,439.8 369.4,439.8 370.8,439.9 372.1,439.9 373.4,440 374.7,440 376.1,440.1 377.4,440.2 378.7,440.3 380,440.4 381.4,440.5 382.7,440.6 384,440.7 385.3,440.8 386.7,440.9 388,441.1 389.3,441.2 390.6,441.4 392,441.5 393.3,441.7 394.6,441.8 395.9,442 397.3,442.2 398.6,442.4 399.9,442.6 401.2,442.8 402.6,443 403.9,443.2 405.2,443.4 406.6,443.7 407.9,443.9 409.2,444.2 410.5,444.4 411.9,444.7 413.2,444.9 414.5,445.2 415.8,445.5 417.2,445.8 418.5,446.1 419.8,446.4 421.1,446.7 422.5,447 423.8,447.3 425.1,447.6 426.4,448 427.8,448.3 429.1,448.7 430.4,449 431.7,449.4 433.1,449.8 434.4,450.1 435.7,450.5 437,450.9 438.4,451.3 439.7,451.7 441,452.1 442.3,452.6 443.7,453 445,453.4 446.3,453.9 447.6,454.3 449,454.8 450.3,455.3 451.6,455.7 452.9,456.2 454.3,456.7 455.6,457.2 456.9,457.7 458.2,458.2 459.6,458.7 460.9,459.3 462.2,459.8 463.5,460.3 464.9,460.9 466.2,461.4 467.5,462 468.8,462.6 470.2,463.1 471.5,463.7 472.8,464.3 474.2,464.9 475.5,465.5 476.8,466.2 478.1,466.8 479.5,467.4 480.8,468 482.1,468.7 483.4,469.3 484.8,470 486.1,470.7 487.4,471.4 488.7,472 490.1,472.7 491.4,473.4 492.7,474.1 494,474.9 495.4,475.6 496.7,476.3 498,477.1 499.3,477.8 500.7,478.6 502,479.3 503.3,480.1 504.6,480.9 506,481.7 507.3,482.5 508.6,483.3 509.9,484.1 511.3,484.9 512.6,485.7 513.9,486.5 515.2,487.4 516.6,488.2 517.9,489.1 519.2,490 520.5,490.8 521.9,491.7 523.2,492.6 524.5,493.5 525.8,494.4 527.2,495.3 528.5,496.3 529.8,497.2 531.1,498.1 532.5,499.1 533.8,500 535.1,501 536.5,502 537.8,502.9 539.1,503.9 540.4,504.9 541.8,505.9 543.1,506.9 544.4,508 545.7,509 547.1,510 548.4,511.1 549.7,512.1 551,513.2 552.4,514.3 553.7,515.3 555,516.4 556.3,517.5 557.7,518.6 559,519.7 560.3,520.8 561.6,522 563,523.1 564.3,524.3 565.6,525.4 566.9,526.6 568.3,527.7 569.6,528.9 570.9,530.1 572.2,531.3 573.6,532.5 574.9,533.7 576.2,534.9 577.5,536.2 578.9,537.4 580.2,538.7 581.5,539.9 582.8,541.2 584.2,542.4 585.5,543.7 586.8,545 588.1,546.3 589.5,547.6 590.1,548.3"/>
<polyline class="c" stroke="#e0da6a" points="124.9,548.5 126.2,547.3 127.5,546 128.9,544.7 130.2,543.5 131.5,542.2 132.8,541 134.2,539.7 135.5,538.5 136.8,537.3 138.1,536.1 139.5,534.9 140.8,533.7 142.1,532.5 143.4,531.4 144.8,530.2 146.1,529 147.4,527.9 148.7,526.7 150.1,525.6 151.4,524.5 152.7,523.4 154,522.3 155.4,521.2 156.7,520.1 158,519 159.3,517.9 160.7,516.9 162,515.8 163.3,514.7 164.6,513.7 166,512.7 167.3,511.6 168.6,510.6 169.9,509.6 171.3,508.6 172.6,507.6 173.9,506.6 175.3,505.7 176.6,504.7 177.9,503.7 179.2,502.8 180.6,501.8 181.9,500.9 183.2,500 184.5,499.1 185.9,498.1 187.2,497.2 188.5,496.3 189.8,495.4 191.2,494.6 192.5,493.7 193.8,492.8 195.1,492 196.5,491.1 197.8,490.3 199.1,489.4 200.4,488.6 201.8,487.8 203.1,487 204.4,486.2 205.7,485.4 207.1,484.6 208.4,483.8 209.7,483 211,482.3 212.4,481.5 213.7,480.7 215,480 216.3,479.3 217.7,478.5 219,477.8 220.3,477.1 221.6,476.4 223,475.7 224.3,475 225.6,474.3 226.9,473.6 228.3,472.9 229.6,472.3 230.9,471.6 232.2,471 233.6,470.3 234.9,469.7 236.2,469.1 237.5,468.5 238.9,467.8 240.2,467.2 241.5,466.6 242.9,466 244.2,465.5 245.5,464.9 246.8,464.3 248.2,463.7 249.5,463.2 250.8,462.6 252.1,462.1 253.5,461.6 254.8,461 256.1,460.5 257.4,460 258.8,459.5 260.1,459 261.4,458.5 262.7,458 264.1,457.5 265.4,457 266.7,456.6 268,456.1 269.4,455.7 270.7,455.2 272,454.8 273.3,454.3 274.7,453.9 276,453.5 277.3,453.1 278.6,452.7 280,452.3 281.3,451.9 282.6,451.5 283.9,451.1 285.3,450.7 286.6,450.4 287.9,450 289.2,449.7 290.6,449.3 291.9,449 293.2,448.6 294.5,448.3 295.9,448 297.2,447.7 298.5,447.4 299.8,447.1 301.2,446.8 302.5,446.5 303.8,446.2 305.2,445.9 306.5,445.7 307.8,445.4 309.1,445.2 310.5,444.9 311.8,444.7 313.1,444.4 314.4,444.2 315.8,444 317.1,443.8 318.4,443.6 319.7,443.4 321.1,443.2 322.4,443 323.7,442.8 325,442.6 326.4,442.4 327.7,442.3 329,442.1 330.3,442 331.7,441.8 333,441.7 334.3,441.6 335.6,441.4 337,441.3 338.3,441.2 339.6,441.1 340.9,441 342.3,440.9 343.6,440.8 344.9,440.7 346.2,440.7 347.6,440.6 348.9,440.5 350.2,440.5 351.5,440.4 352.9,440.4 354.2,440.3 355.5,440.3 356.8,440.3 358.2,440.3 359.5,440.3 360.8,440.3 362.1,440.3 363.5,440.3 364.8,440.3 366.1,440.3 367.4,440.4 368.8,440.4 370.1,440.4 371.4,440.5 372.8,440.5 374.1,440.6 375.4,440.7 376.7,440.7 378.1,440.8 379.4,440.9 380.7,441 382,441.1 383.4,441.2 384.7,441.3 386,441.5 387.3,441.6 388.7,441.7 390,441.9 391.3,442 392.6,442.2 394,442.3 395.3,442.5 396.6,442.7 397.9,442.8 399.3,443 400.6,443.2 401.9,443.4 403.2,443.6 404.6,443.9 405.9,444.1 407.2,444.3 408.5,444.5 409.9,444.8 411.2,445 412.5,445.3 413.8,445.5 415.2,445.8 416.5,446.1 417.8,446.4 419.1,446.7 420.5,447 421.8,447.3 423.1,447.6 424.4,447.9 425.8,448.2 427.1,448.5 428.4,448.9 429.7,449.2 431.1,449.6 432.4,449.9 433.7,450.3 435,450.7 436.4,451 437.7,451.4 439,451.8 440.4,452.2 441.7,452.6 443,453 444.3,453.5 445.7,453.9 447,454.3 448.3,454.8 449.6,455.2 451,455.7 452.3,456.1 453.6,456.6 454.9,457.1 456.3,457.6 457.6,458.1 458.9,458.6 460.2,459.1 461.6,459.6 462.9,460.1 464.2,460.6 465.5,461.2 466.9,461.7 468.2,462.3 469.5,462.8 470.8,463.4 472.2,463.9 473.5,464.5 474.8,465.1 476.1,465.7 477.5,466.3 478.8,466.9 480.1,467.5 481.4,468.1 482.8,468.8 484.1,469.4 485.4,470.1 486.7,470.7 488.1,471.4 489.4,472 490.7,472.7 492,473.4 493.4,474.1 494.7,474.8 496,475.5 497.3,476.2 498.7,476.9 500,477.6 501.3,478.4 502.6,479.1 504,479.9 505.3,480.6 506.6,481.4 508,482.2 509.3,482.9 510.6,483.7 511.9,484.5 513.3,485.3 514.6,486.1 515.9,487 517.2,487.8 518.6,488.6 519.9,489.5 521.2,490.3 522.5,491.2 523.9,492 525.2,492.9 526.5,493.8 527.8,494.7 529.2,495.6 530.5,496.5 531.8,497.4 533.1,498.3 534.5,499.2 535.8,500.2 537.1,501.1 538.4,502 539.8,503 541.1,504 542.4,504.9 543.7,505.9 545.1,506.9 546.4,507.9 547.7,508.9 549,509.9 550.4,510.9 551.7,512 553,513 554.3,514.1 555.7,515.1 557,516.2 558.3,517.2 559.6,518.3 561,519.4 562.3,520.5 563.6,521.6 564.9,522.7 566.3,523.8 567.6,524.9 568.9,526.1 570.3,527.2 571.6,528.4 572.9,529.5 574.2,530.7 575.6,531.8 576.9,533 578.2,534.2 579.5,535.4 580.9,536.6 582.2,537.8 583.5,539.1 584.8,540.3 586.2,541.5 587.5,542.8 588.8,544 590.1,545.3 591.5,546.6 592.8,547.8 593.4,548.5"/>
<polyline class="c" stroke="#222222" points="122.2,548.1 123.6,546.9 124.9,545.6 126.2,544.4 127.5,543.2 128.9,542 130.2,540.8 131.5,539.5 132.8,538.4 134.2,537.2 135.5,536 136.8,534.8 138.1,533.7 139.5,532.5 140.8,531.4 142.1,530.2 143.4,529.1 144.8,528 146.1,526.8 147.4,525.7 148.7,524.6 150.1,523.5 151.4,522.5 152.7,521.4 154,520.3 155.4,519.3 156.7,518.2 158,517.2 159.3,516.1 160.7,515.1 162,514.1 163.3,513.1 164.6,512.1 166,511.1 167.3,510.1 168.6,509.1 169.9,508.1 171.3,507.1 172.6,506.2 173.9,505.2 175.3,504.3 176.6,503.4 177.9,502.4 179.2,501.5 180.6,500.6 181.9,499.7 183.2,498.8 184.5,497.9 185.9,497 187.2,496.1 188.5,495.3 189.8,494.4 191.2,493.6 192.5,492.7 193.8,491.9 195.1,491 196.5,490.2 197.8,489.4 199.1,488.6 200.4,487.8 201.8,487 203.1,486.2 204.4,485.4 205.7,484.7 207.1,483.9 208.4,483.1 209.7,482.4 211,481.6 212.4,480.9 213.7,480.2 215,479.5 216.3,478.7 217.7,478 219,477.3 220.3,476.6 221.6,475.9 223,475.3 224.3,474.6 225.6,473.9 226.9,473.3 228.3,472.6 229.6,472 230.9,471.3 232.2,470.7 233.6,470.1 234.9,469.5 236.2,468.9 237.5,468.3 238.9,467.7 240.2,467.1 241.5,466.5 242.9,465.9 244.2,465.4 245.5,464.8 246.8,464.2 248.2,463.7 249.5,463.1 250.8,462.6 252.1,462.1 253.5,461.6 254.8,461 256.1,460.5 257.4,460 258.8,459.5 260.1,459.1 261.4,458.6 262.7,458.1 264.1,457.6 265.4,457.2 266.7,456.7 268,456.3 269.4,455.8 270.7,455.4 272,455 273.3,454.6 274.7,454.1 276,453.7 277.3,453.3 278.6,452.9 280,452.5 281.3,452.2 282.6,451.8 283.9,451.4 285.3,451.1 286.6,450.7 287.9,450.3 289.2,450 290.6,449.7 291.9,449.3 293.2,449 294.5,448.7 295.9,448.4 297.2,448.1 298.5,447.8 299.8,447.5 301.2,447.2 302.5,446.9 303.8,446.6 305.2,446.4 306.5,446.1 307.8,445.9 309.1,445.6 310.5,445.4 311.8,445.1 313.1,444.9 314.4,444.7 315.8,444.5 317.1,444.3 318.4,444.1 319.7,443.9 321.1,443.7 322.4,443.5 323.7,443.3 325,443.1 326.4,443 327.7,442.8 329,442.7 330.3,442.5 331.7,442.4 333,442.2 334.3,442.1 335.6,442 337,441.9 338.3,441.8 339.6,441.7 340.9,441.6 342.3,441.5 343.6,441.4 344.9,441.3 346.2,441.2 347.6,441.2 348.9,441.1 350.2,441.1 351.5,441 352.9,441 354.2,440.9 355.5,440.9 356.8,440.9 358.2,440.9 359.5,440.9 360.8,440.9 362.1,440.9 363.5,440.9 364.8,440.9 366.1,440.9 367.4,441 368.8,441 370.1,441 371.4,441.1 372.8,441.1 374.1,441.2 375.4,441.3 376.7,441.3 378.1,441.4 379.4,441.5 380.7,441.6 382,441.7 383.4,441.8 384.7,441.9 386,442 387.3,442.2 388.7,442.3 390,442.4 391.3,442.6 392.6,442.7 394,442.9 395.3,443 396.6,443.2 397.9,443.4 399.3,443.6 400.6,443.8 401.9,444 403.2,444.2 404.6,444.4 405.9,444.6 407.2,444.8 408.5,445 409.9,445.3 411.2,445.5 412.5,445.8 413.8,446 415.2,446.3 416.5,446.5 417.8,446.8 419.1,447.1 420.5,447.4 421.8,447.7 423.1,448 424.4,448.3 425.8,448.6 427.1,448.9 428.4,449.3 429.7,449.6 431.1,449.9 432.4,450.3 433.7,450.6 435,451 436.4,451.4 437.7,451.7 439,452.1 440.4,452.5 441.7,452.9 443,453.3 444.3,453.7 445.7,454.1 447,454.6 448.3,455 449.6,455.4 451,455.9 452.3,456.3 453.6,456.8 454.9,457.2 456.3,457.7 457.6,458.2 458.9,458.7 460.2,459.2 461.6,459.6 462.9,460.2 464.2,460.7 465.5,461.2 466.9,461.7 468.2,462.2 469.5,462.8 470.8,463.3 472.2,463.9 473.5,464.4 474.8,465 476.1,465.6 477.5,466.2 478.8,466.8 480.1,467.4 481.4,468 482.8,468.6 484.1,469.2 485.4,469.8 486.7,470.4 488.1,471.1 489.4,471.7 490.7,472.4 492,473 493.4,473.7 494.7,474.4 496,475.1 497.3,475.8 498.7,476.4 500,477.2 501.3,477.9 502.6,478.6 504,479.3 505.3,480 506.6,480.8 508,481.5 509.3,482.3 510.6,483 511.9,483.8 513.3,484.6 514.6,485.4 515.9,486.2 517.2,487 518.6,487.8 519.9,488.6 521.2,489.4 522.5,490.2 523.9,491.1 525.2,491.9 526.5,492.8 527.8,493.6 529.2,494.5 530.5,495.3 531.8,496.2 533.1,497.1 534.5,498 535.8,498.9 537.1,499.8 538.4,500.7 539.8,501.7 541.1,502.6 542.4,503.5 543.7,504.5 545.1,505.4 546.4,506.4 547.7,507.4 549,508.4 550.4,509.3 551.7,510.3 553,511.3 554.3,512.3 555.7,513.4 557,514.4 558.3,515.4 559.6,516.4 561,517.5 562.3,518.5 563.6,519.6 564.9,520.7 566.3,521.8 567.6,522.8 568.9,523.9 570.3,525 571.6,526.1 572.9,527.3 574.2,528.4 575.6,529.5 576.9,530.7 578.2,531.8 579.5,533 580.9,534.1 582.2,535.3 583.5,536.5 584.8,537.6 586.2,538.8 587.5,540 588.8,541.3 590.1,542.5 591.5,543.7 592.8,544.9 594.1,546.2 595.4,547.4 596.1,548"/>
<polyline class="c" stroke="#4055a8" points="118.9,548.4 120.2,547.1 121.6,545.9 122.9,544.7 124.2,543.5 125.5,542.3 126.9,541.1 128.2,540 129.5,538.8 130.8,537.6 132.2,536.5 133.5,535.3 134.8,534.2 136.1,533 137.5,531.9 138.8,530.8 140.1,529.7 141.5,528.6 142.8,527.5 144.1,526.4 145.4,525.3 146.8,524.2 148.1,523.2 149.4,522.1 150.7,521.1 152.1,520 153.4,519 154.7,518 156,516.9 157.4,515.9 158.7,514.9 160,513.9 161.3,512.9 162.7,512 164,511 165.3,510 166.6,509.1 168,508.1 169.3,507.2 170.6,506.2 171.9,505.3 173.3,504.4 174.6,503.5 175.9,502.5 177.2,501.6 178.6,500.7 179.9,499.9 181.2,499 182.5,498.1 183.9,497.2 185.2,496.4 186.5,495.5 187.8,494.7 189.2,493.9 190.5,493 191.8,492.2 193.1,491.4 194.5,490.6 195.8,489.8 197.1,489 198.4,488.2 199.8,487.4 201.1,486.6 202.4,485.9 203.7,485.1 205.1,484.4 206.4,483.6 207.7,482.9 209.1,482.2 210.4,481.4 211.7,480.7 213,480 214.4,479.3 215.7,478.6 217,477.9 218.3,477.2 219.7,476.6 221,475.9 222.3,475.2 223.6,474.6 225,473.9 226.3,473.3 227.6,472.6 228.9,472 230.3,471.4 231.6,470.8 232.9,470.2 234.2,469.6 235.6,469 236.9,468.4 238.2,467.8 239.5,467.2 240.9,466.7 242.2,466.1 243.5,465.5 244.8,465 246.2,464.5 247.5,463.9 248.8,463.4 250.1,462.9 251.5,462.3 252.8,461.8 254.1,461.3 255.4,460.8 256.8,460.4 258.1,459.9 259.4,459.4 260.7,458.9 262.1,458.5 263.4,458 264.7,457.5 266,457.1 267.4,456.7 268.7,456.2 270,455.8 271.4,455.4 272.7,455 274,454.6 275.3,454.2 276.7,453.8 278,453.4 279.3,453 280.6,452.6 282,452.3 283.3,451.9 284.6,451.5 285.9,451.2 287.3,450.9 288.6,450.5 289.9,450.2 291.2,449.9 292.6,449.5 293.9,449.2 295.2,448.9 296.5,448.6 297.9,448.3 299.2,448 300.5,447.8 301.8,447.5 303.2,447.2 304.5,447 305.8,446.7 307.1,446.5 308.5,446.2 309.8,446 311.1,445.7 312.4,445.5 313.8,445.3 315.1,445.1 316.4,444.9 317.7,444.7 319.1,444.5 320.4,444.3 321.7,444.1 323,443.9 324.4,443.8 325.7,443.6 327,443.4 328.3,443.3 329.7,443.1 331,443 332.3,442.9 333.6,442.7 335,442.6 336.3,442.5 337.6,442.4 339,442.3 340.3,442.2 341.6,442.1 342.9,442 344.3,441.9 345.6,441.9 346.9,441.8 348.2,441.7 349.6,441.7 350.9,441.6 352.2,441.6 353.5,441.6 354.9,441.5 356.2,441.5 357.5,441.5 358.8,441.5 360.2,441.5 361.5,441.5 362.8,441.5 364.1,441.5 365.5,441.5 366.8,441.5 368.1,441.6 369.4,441.6 370.8,441.7 372.1,441.7 373.4,441.8 374.7,441.8 376.1,441.9 377.4,442 378.7,442.1 380,442.1 381.4,442.2 382.7,442.3 384,442.4 385.3,442.6 386.7,442.7 388,442.8 389.3,442.9 390.6,443.1 392,443.2 393.3,443.4 394.6,443.5 395.9,443.7 397.3,443.8 398.6,444 399.9,444.2 401.2,444.4 402.6,444.6 403.9,444.8 405.2,445 406.6,445.2 407.9,445.4 409.2,445.7 410.5,445.9 411.9,446.1 413.2,446.4 414.5,446.6 415.8,446.9 417.2,447.1 418.5,447.4 419.8,447.7 421.1,448 422.5,448.3 423.8,448.6 425.1,448.9 426.4,449.2 427.8,449.5 429.1,449.8 430.4,450.1 431.7,450.5 433.1,450.8 434.4,451.2 435.7,451.5 437,451.9 438.4,452.2 439.7,452.6 441,453 442.3,453.4 443.7,453.8 445,454.2 446.3,454.6 447.6,455 449,455.4 450.3,455.8 451.6,456.3 452.9,456.7 454.3,457.2 455.6,457.6 456.9,458.1 458.2,458.5 459.6,459 460.9,459.5 462.2,460 463.5,460.5 464.9,461 466.2,461.5 467.5,462 468.8,462.5 470.2,463 471.5,463.6 472.8,464.1 474.2,464.7 475.5,465.2 476.8,465.8 478.1,466.3 479.5,466.9 480.8,467.5 482.1,468.1 483.4,468.7 484.8,469.3 486.1,469.9 487.4,470.5 488.7,471.1 490.1,471.8 491.4,472.4 492.7,473 494,473.7 495.4,474.3 496.7,475 498,475.7 499.3,476.4 500.7,477 502,477.7 503.3,478.4 504.6,479.1 506,479.8 507.3,480.6 508.6,481.3 509.9,482 511.3,482.8 512.6,483.5 513.9,484.3 515.2,485 516.6,485.8 517.9,486.6 519.2,487.4 520.5,488.2 521.9,488.9 523.2,489.8 524.5,490.6 525.8,491.4 527.2,492.2 528.5,493 529.8,493.9 531.1,494.7 532.5,495.6 533.8,496.4 535.1,497.3 536.5,498.2 537.8,499.1 539.1,500 540.4,500.9 541.8,501.8 543.1,502.7 544.4,503.6 545.7,504.5 547.1,505.5 548.4,506.4 549.7,507.3 551,508.3 552.4,509.3 553.7,510.2 555,511.2 556.3,512.2 557.7,513.2 559,514.2 560.3,515.2 561.6,516.2 563,517.2 564.3,518.3 565.6,519.3 566.9,520.3 568.3,521.4 569.6,522.5 570.9,523.5 572.2,524.6 573.6,525.7 574.9,526.8 576.2,527.9 577.5,529 578.9,530.1 580.2,531.2 581.5,532.3 582.8,533.4 584.2,534.6 585.5,535.7 586.8,536.9 588.1,538.1 589.5,539.2 590.8,540.4 592.1,541.6 593.4,542.8 594.8,544 596.1,545.2 597.4,546.4 598.7,547.6 599.4,548.2"/>
<polyline class="c" stroke="#23894f" points="115.6,548.6 116.9,547.4 118.3,546.2 119.6,545 120.9,543.8 122.2,542.7 123.6,541.5 124.9,540.3 126.2,539.2 127.5,538 128.9,536.9 130.2,535.8 131.5,534.7 132.8,533.6 134.2,532.4 135.5,531.4 136.8,530.3 138.1,529.2 139.5,528.1 140.8,527 142.1,526 143.4,524.9 144.8,523.9 146.1,522.8 147.4,521.8 148.7,520.8 150.1,519.8 151.4,518.7 152.7,517.7 154,516.7 155.4,515.8 156.7,514.8 158,513.8 159.3,512.8 160.7,511.9 162,510.9 163.3,510 164.6,509 166,508.1 167.3,507.2 168.6,506.3 169.9,505.3 171.3,504.4 172.6,503.5 173.9,502.7 175.3,501.8 176.6,500.9 177.9,500 179.2,499.2 180.6,498.3 181.9,497.5 183.2,496.6 184.5,495.8 185.9,495 187.2,494.1 188.5,493.3 189.8,492.5 191.2,491.7 192.5,490.9 193.8,490.1 195.1,489.4 196.5,488.6 197.8,487.8 199.1,487.1 200.4,486.3 201.8,485.6 203.1,484.8 204.4,484.1 205.7,483.4 207.1,482.7 208.4,481.9 209.7,481.2 211,480.5 212.4,479.8 213.7,479.2 215,478.5 216.3,477.8 217.7,477.1 219,476.5 220.3,475.8 221.6,475.2 223,474.5 224.3,473.9 225.6,473.3 226.9,472.7 228.3,472.1 229.6,471.5 230.9,470.8 232.2,470.3 233.6,469.7 234.9,469.1 236.2,468.5 237.5,467.9 238.9,467.4 240.2,466.8 241.5,466.3 242.9,465.7 244.2,465.2 245.5,464.7 246.8,464.1 248.2,463.6 249.5,463.1 250.8,462.6 252.1,462.1 253.5,461.6 254.8,461.1 256.1,460.7 257.4,460.2 258.8,459.7 260.1,459.3 261.4,458.8 262.7,458.4 264.1,457.9 265.4,457.5 266.7,457.1 268,456.6 269.4,456.2 270.7,455.8 272,455.4 273.3,455 274.7,454.6 276,454.2 277.3,453.8 278.6,453.5 280,453.1 281.3,452.7 282.6,452.4 283.9,452 285.3,451.7 286.6,451.4 287.9,451 289.2,450.7 290.6,450.4 291.9,450.1 293.2,449.8 294.5,449.5 295.9,449.2 297.2,448.9 298.5,448.6 299.8,448.3 301.2,448.1 302.5,447.8 303.8,447.5 305.2,447.3 306.5,447 307.8,446.8 309.1,446.6 310.5,446.3 311.8,446.1 313.1,445.9 314.4,445.7 315.8,445.5 317.1,445.3 318.4,445.1 319.7,444.9 321.1,444.7 322.4,444.5 323.7,444.4 325,444.2 326.4,444.1 327.7,443.9 329,443.8 330.3,443.6 331.7,443.5 333,443.4 334.3,443.2 335.6,443.1 337,443 338.3,442.9 339.6,442.8 340.9,442.7 342.3,442.6 343.6,442.6 344.9,442.5 346.2,442.4 347.6,442.4 348.9,442.3 350.2,442.3 351.5,442.2 352.9,442.2 354.2,442.1 355.5,442.1 356.8,442.1 358.2,442.1 359.5,442.1 360.8,442.1 362.1,442.1 363.5,442.1 364.8,442.1 366.1,442.1 367.4,442.2 368.8,442.2 370.1,442.2 371.4,442.3 372.8,442.3 374.1,442.4 375.4,442.5 376.7,442.5 378.1,442.6 379.4,442.7 380.7,442.8 382,442.9 383.4,443 384.7,443.1 386,443.2 387.3,443.3 388.7,443.4 390,443.6 391.3,443.7 392.6,443.8 394,444 395.3,444.1 396.6,444.3 397.9,444.5 399.3,444.7 400.6,444.8 401.9,445 403.2,445.2 404.6,445.4 405.9,445.6 407.2,445.8 408.5,446 409.9,446.3 411.2,446.5 412.5,446.7 413.8,447 415.2,447.2 416.5,447.5 417.8,447.7 419.1,448 420.5,448.3 421.8,448.5 423.1,448.8 424.4,449.1 425.8,449.4 427.1,449.7 428.4,450 429.7,450.3 431.1,450.7 432.4,451 433.7,451.3 435,451.7 436.4,452 437.7,452.4 439,452.7 440.4,453.1 441.7,453.5 443,453.9 444.3,454.2 445.7,454.6 447,455 448.3,455.4 449.6,455.8 451,456.3 452.3,456.7 453.6,457.1 454.9,457.6 456.3,458 457.6,458.4 458.9,458.9 460.2,459.4 461.6,459.8 462.9,460.3 464.2,460.8 465.5,461.3 466.9,461.8 468.2,462.3 469.5,462.8 470.8,463.3 472.2,463.8 473.5,464.3 474.8,464.9 476.1,465.4 477.5,466 478.8,466.5 480.1,467.1 481.4,467.6 482.8,468.2 484.1,468.8 485.4,469.4 486.7,470 488.1,470.6 489.4,471.2 490.7,471.8 492,472.4 493.4,473 494.7,473.7 496,474.3 497.3,475 498.7,475.6 500,476.3 501.3,476.9 502.6,477.6 504,478.3 505.3,479 506.6,479.7 508,480.4 509.3,481.1 510.6,481.8 511.9,482.5 513.3,483.2 514.6,484 515.9,484.7 517.2,485.5 518.6,486.2 519.9,487 521.2,487.8 522.5,488.5 523.9,489.3 525.2,490.1 526.5,490.9 527.8,491.7 529.2,492.5 530.5,493.3 531.8,494.1 533.1,495 534.5,495.8 535.8,496.7 537.1,497.5 538.4,498.4 539.8,499.2 541.1,500.1 542.4,501 543.7,501.9 545.1,502.8 546.4,503.7 547.7,504.6 549,505.5 550.4,506.4 551.7,507.3 553,508.3 554.3,509.2 555.7,510.2 557,511.1 558.3,512.1 559.6,513 561,514 562.3,515 563.6,516 564.9,517 566.3,518 567.6,519 568.9,520 570.3,521.1 571.6,522.1 572.9,523.1 574.2,524.2 575.6,525.2 576.9,526.3 578.2,527.4 579.5,528.4 580.9,529.5 582.2,530.6 583.5,531.7 584.8,532.8 586.2,533.9 587.5,535 588.8,536.2 590.1,537.3 591.5,538.4 592.8,539.6 594.1,540.8 595.4,541.9 596.8,543.1 598.1,544.3 599.4,545.4 600.7,546.6 602.1,547.8 602.7,548.4"/>
<polyline class="c" stroke="#e0413c" points="113,548.2 114.3,547 115.6,545.9 116.9,544.7 118.3,543.6 119.6,542.4 120.9,541.3 122.2,540.2 123.6,539 124.9,537.9 126.2,536.8 127.5,535.7 128.9,534.6 130.2,533.5 131.5,532.4 132.8,531.4 134.2,530.3 135.5,529.2 136.8,528.2 138.1,527.1 139.5,526.1 140.8,525.1 142.1,524 143.4,523 144.8,522 146.1,521 147.4,520 148.7,519 150.1,518 151.4,517 152.7,516.1 154,515.1 155.4,514.2 156.7,513.2 158,512.3 159.3,511.3 160.7,510.4 162,509.5 163.3,508.6 164.6,507.6 166,506.7 167.3,505.9 168.6,505 169.9,504.1 171.3,503.2 172.6,502.3 173.9,501.5 175.3,500.6 176.6,499.8 177.9,498.9 179.2,498.1 180.6,497.3 181.9,496.4 183.2,495.6 184.5,494.8 185.9,494 187.2,493.2 188.5,492.4 189.8,491.7 191.2,490.9 192.5,490.1 193.8,489.4 195.1,488.6 196.5,487.9 197.8,487.1 199.1,486.4 200.4,485.6 201.8,484.9 203.1,484.2 204.4,483.5 205.7,482.8 207.1,482.1 208.4,481.4 209.7,480.7 211,480 212.4,479.4 213.7,478.7 215,478 216.3,477.4 217.7,476.8 219,476.1 220.3,475.5 221.6,474.9 223,474.2 224.3,473.6 225.6,473 226.9,472.4 228.3,471.8 229.6,471.2 230.9,470.6 232.2,470.1 233.6,469.5 234.9,468.9 236.2,468.4 237.5,467.8 238.9,467.3 240.2,466.7 241.5,466.2 242.9,465.7 244.2,465.2 245.5,464.6 246.8,464.1 248.2,463.6 249.5,463.1 250.8,462.6 252.1,462.2 253.5,461.7 254.8,461.2 256.1,460.7 257.4,460.3 258.8,459.8 260.1,459.4 261.4,458.9 262.7,458.5 264.1,458.1 265.4,457.7 266.7,457.2 268,456.8 269.4,456.4 270.7,456 272,455.6 273.3,455.2 274.7,454.9 276,454.5 277.3,454.1 278.6,453.8 280,453.4 281.3,453 282.6,452.7 283.9,452.4 285.3,452 286.6,451.7 287.9,451.4 289.2,451.1 290.6,450.7 291.9,450.4 293.2,450.1 294.5,449.9 295.9,449.6 297.2,449.3 298.5,449 299.8,448.7 301.2,448.5 302.5,448.2 303.8,448 305.2,447.7 306.5,447.5 307.8,447.3 309.1,447 310.5,446.8 311.8,446.6 313.1,446.4 314.4,446.2 315.8,446 317.1,445.8 318.4,445.6 319.7,445.4 321.1,445.2 322.4,445.1 323.7,444.9 325,444.7 326.4,444.6 327.7,444.4 329,444.3 330.3,444.2 331.7,444 333,443.9 334.3,443.8 335.6,443.7 337,443.6 338.3,443.5 339.6,443.4 340.9,443.3 342.3,443.2 343.6,443.1 344.9,443.1 346.2,443 347.6,442.9 348.9,442.9 350.2,442.8 351.5,442.8 352.9,442.8 354.2,442.7 355.5,442.7 356.8,442.7 358.2,442.7 359.5,442.7 360.8,442.7 362.1,442.7 363.5,442.7 364.8,442.7 366.1,442.7 367.4,442.8 368.8,442.8 370.1,442.8 371.4,442.9 372.8,442.9 374.1,443 375.4,443 376.7,443.1 378.1,443.2 379.4,443.3 380.7,443.4 382,443.4 383.4,443.5 384.7,443.6 386,443.8 387.3,443.9 388.7,444 390,444.1 391.3,444.3 392.6,444.4 394,444.5 395.3,444.7 396.6,444.9 397.9,445 399.3,445.2 400.6,445.4 401.9,445.5 403.2,445.7 404.6,445.9 405.9,446.1 407.2,446.3 408.5,446.5 409.9,446.8 411.2,447 412.5,447.2 413.8,447.4 415.2,447.7 416.5,447.9 417.8,448.2 419.1,448.4 420.5,448.7 421.8,449 423.1,449.3 424.4,449.5 425.8,449.8 427.1,450.1 428.4,450.4 429.7,450.7 431.1,451 432.4,451.4 433.7,451.7 435,452 436.4,452.4 437.7,452.7 439,453 440.4,453.4 441.7,453.8 443,454.1 444.3,454.5 445.7,454.9 447,455.3 448.3,455.7 449.6,456.1 451,456.5 452.3,456.9 453.6,457.3 454.9,457.7 456.3,458.2 457.6,458.6 458.9,459 460.2,459.5 461.6,459.9 462.9,460.4 464.2,460.9 465.5,461.3 466.9,461.8 468.2,462.3 469.5,462.8 470.8,463.3 472.2,463.8 473.5,464.3 474.8,464.8 476.1,465.4 477.5,465.9 478.8,466.4 480.1,467 481.4,467.5 482.8,468.1 484.1,468.6 485.4,469.2 486.7,469.8 488.1,470.4 489.4,471 490.7,471.6 492,472.2 493.4,472.8 494.7,473.4 496,474 497.3,474.6 498.7,475.3 500,475.9 501.3,476.5 502.6,477.2 504,477.9 505.3,478.5 506.6,479.2 508,479.9 509.3,480.6 510.6,481.2 511.9,481.9 513.3,482.6 514.6,483.4 515.9,484.1 517.2,484.8 518.6,485.5 519.9,486.3 521.2,487 522.5,487.8 523.9,488.5 525.2,489.3 526.5,490.1 527.8,490.8 529.2,491.6 530.5,492.4 531.8,493.2 533.1,494 534.5,494.8 535.8,495.6 537.1,496.5 538.4,497.3 539.8,498.1 541.1,499 542.4,499.8 543.7,500.7 545.1,501.5 546.4,502.4 547.7,503.3 549,504.2 550.4,505.1 551.7,506 553,506.9 554.3,507.8 555.7,508.7 557,509.6 558.3,510.5 559.6,511.5 561,512.4 562.3,513.4 563.6,514.3 564.9,515.3 566.3,516.3 567.6,517.3 568.9,518.2 570.3,519.2 571.6,520.2 572.9,521.2 574.2,522.2 575.6,523.3 576.9,524.3 578.2,525.3 579.5,526.4 580.9,527.4 582.2,528.5 583.5,529.5 584.8,530.6 586.2,531.7 587.5,532.8 588.8,533.8 590.1,534.9 591.5,536 592.8,537.2 594.1,538.3 595.4,539.4 596.8,540.5 598.1,541.7 599.4,542.8 600.7,544 602.1,545.1 603.4,546.3 604.7,547.5 605.4,548"/>
<polyline class="c" stroke="#45c0c8" points="109.6,548.4 111,547.3 112.3,546.1 113.6,545 114.9,543.9 116.3,542.8 117.6,541.6 118.9,540.5 120.2,539.4 121.6,538.3 122.9,537.2 124.2,536.2 125.5,535.1 126.9,534 128.2,532.9 129.5,531.9 130.8,530.8 132.2,529.8 133.5,528.8 134.8,527.7 136.1,526.7 137.5,525.7 138.8,524.7 140.1,523.7 141.5,522.7 142.8,521.7 144.1,520.7 145.4,519.7 146.8,518.8 148.1,517.8 149.4,516.9 150.7,515.9 152.1,515 153.4,514 154.7,513.1 156,512.2 157.4,511.3 158.7,510.3 160,509.4 161.3,508.6 162.7,507.7 164,506.8 165.3,505.9 166.6,505 168,504.2 169.3,503.3 170.6,502.5 171.9,501.6 173.3,500.8 174.6,499.9 175.9,499.1 177.2,498.3 178.6,497.5 179.9,496.7 181.2,495.9 182.5,495.1 183.9,494.3 185.2,493.5 186.5,492.8 187.8,492 189.2,491.2 190.5,490.5 191.8,489.7 193.1,489 194.5,488.2 195.8,487.5 197.1,486.8 198.4,486.1 199.8,485.4 201.1,484.7 202.4,484 203.7,483.3 205.1,482.6 206.4,481.9 207.7,481.2 209.1,480.6 210.4,479.9 211.7,479.3 213,478.6 214.4,478 215.7,477.3 217,476.7 218.3,476.1 219.7,475.5 221,474.8 222.3,474.2 223.6,473.6 225,473 226.3,472.5 227.6,471.9 228.9,471.3 230.3,470.7 231.6,470.2 232.9,469.6 234.2,469.1 235.6,468.5 236.9,468 238.2,467.4 239.5,466.9 240.9,466.4 242.2,465.9 243.5,465.4 244.8,464.9 246.2,464.4 247.5,463.9 248.8,463.4 250.1,462.9 251.5,462.4 252.8,462 254.1,461.5 255.4,461.1 256.8,460.6 258.1,460.2 259.4,459.7 260.7,459.3 262.1,458.9 263.4,458.5 264.7,458 266,457.6 267.4,457.2 268.7,456.8 270,456.4 271.4,456.1 272.7,455.7 274,455.3 275.3,454.9 276.7,454.6 278,454.2 279.3,453.9 280.6,453.5 282,453.2 283.3,452.8 284.6,452.5 285.9,452.2 287.3,451.9 288.6,451.6 289.9,451.3 291.2,451 292.6,450.7 293.9,450.4 295.2,450.1 296.5,449.8 297.9,449.6 299.2,449.3 300.5,449 301.8,448.8 303.2,448.5 304.5,448.3 305.8,448.1 307.1,447.8 308.5,447.6 309.8,447.4 311.1,447.2 312.4,447 313.8,446.8 315.1,446.6 316.4,446.4 317.7,446.2 319.1,446 320.4,445.8 321.7,445.7 323,445.5 324.4,445.4 325.7,445.2 327,445.1 328.3,444.9 329.7,444.8 331,444.7 332.3,444.5 333.6,444.4 335,444.3 336.3,444.2 337.6,444.1 339,444 340.3,443.9 341.6,443.8 342.9,443.8 344.3,443.7 345.6,443.6 346.9,443.6 348.2,443.5 349.6,443.5 350.9,443.4 352.2,443.4 353.5,443.3 354.9,443.3 356.2,443.3 357.5,443.3 358.8,443.3 360.2,443.3 361.5,443.3 362.8,443.3 364.1,443.3 365.5,443.3 366.8,443.3 368.1,443.4 369.4,443.4 370.8,443.4 372.1,443.5 373.4,443.5 374.7,443.6 376.1,443.7 377.4,443.7 378.7,443.8 380,443.9 381.4,444 382.7,444.1 384,444.2 385.3,444.3 386.7,444.4 388,444.5 389.3,444.6 390.6,444.7 392,444.9 393.3,445 394.6,445.2 395.9,445.3 397.3,445.5 398.6,445.6 399.9,445.8 401.2,446 402.6,446.2 403.9,446.3 405.2,446.5 406.6,446.7 407.9,446.9 409.2,447.1 410.5,447.4 411.9,447.6 413.2,447.8 414.5,448 415.8,448.3 417.2,448.5 418.5,448.8 419.8,449 421.1,449.3 422.5,449.5 423.8,449.8 425.1,450.1 426.4,450.4 427.8,450.7 429.1,451 430.4,451.3 431.7,451.6 433.1,451.9 434.4,452.2 435.7,452.5 437,452.9 438.4,453.2 439.7,453.5 441,453.9 442.3,454.2 443.7,454.6 445,455 446.3,455.3 447.6,455.7 449,456.1 450.3,456.5 451.6,456.9 452.9,457.3 454.3,457.7 455.6,458.1 456.9,458.5 458.2,459 459.6,459.4 460.9,459.8 462.2,460.3 463.5,460.7 464.9,461.2 466.2,461.7 467.5,462.1 468.8,462.6 470.2,463.1 471.5,463.6 472.8,464.1 474.2,464.6 475.5,465.1 476.8,465.6 478.1,466.1 479.5,466.6 480.8,467.2 482.1,467.7 483.4,468.2 484.8,468.8 486.1,469.3 487.4,469.9 488.7,470.5 490.1,471 491.4,471.6 492.7,472.2 494,472.8 495.4,473.4 496.7,474 498,474.6 499.3,475.2 500.7,475.9 502,476.5 503.3,477.1 504.6,477.8 506,478.4 507.3,479.1 508.6,479.7 509.9,480.4 511.3,481.1 512.6,481.7 513.9,482.4 515.2,483.1 516.6,483.8 517.9,484.5 519.2,485.2 520.5,486 521.9,486.7 523.2,487.4 524.5,488.2 525.8,488.9 527.2,489.6 528.5,490.4 529.8,491.2 531.1,491.9 532.5,492.7 533.8,493.5 535.1,494.3 536.5,495.1 537.8,495.9 539.1,496.7 540.4,497.5 541.8,498.3 543.1,499.1 544.4,500 545.7,500.8 547.1,501.7 548.4,502.5 549.7,503.4 551,504.2 552.4,505.1 553.7,506 555,506.9 556.3,507.8 557.7,508.7 559,509.6 560.3,510.5 561.6,511.4 563,512.3 564.3,513.2 565.6,514.2 566.9,515.1 568.3,516.1 569.6,517 570.9,518 572.2,519 573.6,519.9 574.9,520.9 576.2,521.9 577.5,522.9 578.9,523.9 580.2,524.9 581.5,525.9 582.8,527 584.2,528 585.5,529 586.8,530.1 588.1,531.1 589.5,532.2 590.8,533.2 592.1,534.3 593.4,535.4 594.8,536.5 596.1,537.6 597.4,538.7 598.7,539.8 600.1,540.9 601.4,542 602.7,543.1 604.1,544.2 605.4,545.4 606.7,546.5 608,547.7 608.7,548.2"/>
<polyline class="c" stroke="#a556ab" points="107,548.1 108.3,547 109.6,545.8 111,544.7 112.3,543.6 113.6,542.5 114.9,541.4 116.3,540.3 117.6,539.3 118.9,538.2 120.2,537.1 121.6,536.1 122.9,535 124.2,534 125.5,532.9 126.9,531.9 128.2,530.9 129.5,529.8 130.8,528.8 132.2,527.8 133.5,526.8 134.8,525.8 136.1,524.8 137.5,523.8 138.8,522.9 140.1,521.9 141.5,520.9 142.8,520 144.1,519 145.4,518.1 146.8,517.1 148.1,516.2 149.4,515.3 150.7,514.4 152.1,513.5 153.4,512.5 154.7,511.6 156,510.8 157.4,509.9 158.7,509 160,508.1 161.3,507.2 162.7,506.4 164,505.5 165.3,504.7 166.6,503.8 168,503 169.3,502.2 170.6,501.3 171.9,500.5 173.3,499.7 174.6,498.9 175.9,498.1 177.2,497.3 178.6,496.5 179.9,495.7 181.2,495 182.5,494.2 183.9,493.4 185.2,492.7 186.5,491.9 187.8,491.2 189.2,490.5 190.5,489.7 191.8,489 193.1,488.3 194.5,487.6 195.8,486.9 197.1,486.2 198.4,485.5 199.8,484.8 201.1,484.1 202.4,483.4 203.7,482.7 205.1,482.1 206.4,481.4 207.7,480.8 209.1,480.1 210.4,479.5 211.7,478.8 213,478.2 214.4,477.6 215.7,477 217,476.4 218.3,475.7 219.7,475.2 221,474.6 222.3,474 223.6,473.4 225,472.8 226.3,472.2 227.6,471.7 228.9,471.1 230.3,470.6 231.6,470 232.9,469.5 234.2,468.9 235.6,468.4 236.9,467.9 238.2,467.4 239.5,466.9 240.9,466.4 242.2,465.9 243.5,465.4 244.8,464.9 246.2,464.4 247.5,463.9 248.8,463.4 250.1,463 251.5,462.5 252.8,462.1 254.1,461.6 255.4,461.2 256.8,460.7 258.1,460.3 259.4,459.9 260.7,459.5 262.1,459 263.4,458.6 264.7,458.2 266,457.8 267.4,457.4 268.7,457 270,456.7 271.4,456.3 272.7,455.9 274,455.6 275.3,455.2 276.7,454.9 278,454.5 279.3,454.2 280.6,453.8 282,453.5 283.3,453.2 284.6,452.9 285.9,452.5 287.3,452.2 288.6,451.9 289.9,451.6 291.2,451.3 292.6,451.1 293.9,450.8 295.2,450.5 296.5,450.2 297.9,450 299.2,449.7 300.5,449.5 301.8,449.2 303.2,449 304.5,448.7 305.8,448.5 307.1,448.3 308.5,448.1 309.8,447.9 311.1,447.7 312.4,447.5 313.8,447.3 315.1,447.1 316.4,446.9 317.7,446.7 319.1,446.5 320.4,446.4 321.7,446.2 323,446 324.4,445.9 325.7,445.7 327,445.6 328.3,445.5 329.7,445.3 331,445.2 332.3,445.1 333.6,445 335,444.9 336.3,444.8 337.6,444.7 339,444.6 340.3,444.5 341.6,444.4 342.9,444.3 344.3,444.3 345.6,444.2 346.9,444.1 348.2,444.1 349.6,444 350.9,444 352.2,444 353.5,443.9 354.9,443.9 356.2,443.9 357.5,443.9 358.8,443.9 360.2,443.9 361.5,443.9 362.8,443.9 364.1,443.9 365.5,443.9 366.8,443.9 368.1,444 369.4,444 370.8,444 372.1,444.1 373.4,444.1 374.7,444.2 376.1,444.2 377.4,444.3 378.7,444.4 380,444.5 381.4,444.6 382.7,444.6 384,444.7 385.3,444.8 386.7,444.9 388,445.1 389.3,445.2 390.6,445.3 392,445.4 393.3,445.6 394.6,445.7 395.9,445.9 397.3,446 398.6,446.2 399.9,446.3 401.2,446.5 402.6,446.7 403.9,446.9 405.2,447 406.6,447.2 407.9,447.4 409.2,447.6 410.5,447.8 411.9,448.1 413.2,448.3 414.5,448.5 415.8,448.7 417.2,449 418.5,449.2 419.8,449.5 421.1,449.7 422.5,450 423.8,450.2 425.1,450.5 426.4,450.8 427.8,451.1 429.1,451.4 430.4,451.6 431.7,451.9 433.1,452.2 434.4,452.6 435.7,452.9 437,453.2 438.4,453.5 439.7,453.9 441,454.2 442.3,454.5 443.7,454.9 445,455.3 446.3,455.6 447.6,456 449,456.4 450.3,456.7 451.6,457.1 452.9,457.5 454.3,457.9 455.6,458.3 456.9,458.7 458.2,459.1 459.6,459.6 460.9,460 462.2,460.4 463.5,460.9 464.9,461.3 466.2,461.7 467.5,462.2 468.8,462.7 470.2,463.1 471.5,463.6 472.8,464.1 474.2,464.6 475.5,465.1 476.8,465.6 478.1,466.1 479.5,466.6 480.8,467.1 482.1,467.6 483.4,468.1 484.8,468.7 486.1,469.2 487.4,469.8 488.7,470.3 490.1,470.9 491.4,471.4 492.7,472 494,472.6 495.4,473.1 496.7,473.7 498,474.3 499.3,474.9 500.7,475.5 502,476.1 503.3,476.8 504.6,477.4 506,478 507.3,478.6 508.6,479.3 509.9,479.9 511.3,480.6 512.6,481.2 513.9,481.9 515.2,482.6 516.6,483.3 517.9,483.9 519.2,484.6 520.5,485.3 521.9,486 523.2,486.7 524.5,487.4 525.8,488.2 527.2,488.9 528.5,489.6 529.8,490.4 531.1,491.1 532.5,491.9 533.8,492.6 535.1,493.4 536.5,494.2 537.8,494.9 539.1,495.7 540.4,496.5 541.8,497.3 543.1,498.1 544.4,498.9 545.7,499.7 547.1,500.5 548.4,501.4 549.7,502.2 551,503 552.4,503.9 553.7,504.7 555,505.6 556.3,506.4 557.7,507.3 559,508.2 560.3,509.1 561.6,510 563,510.9 564.3,511.8 565.6,512.7 566.9,513.6 568.3,514.5 569.6,515.4 570.9,516.4 572.2,517.3 573.6,518.2 574.9,519.2 576.2,520.1 577.5,521.1 578.9,522.1 580.2,523.1 581.5,524 582.8,525 584.2,526 585.5,527 586.8,528 588.1,529.1 589.5,530.1 590.8,531.1 592.1,532.1 593.4,533.2 594.8,534.2 596.1,535.3 597.4,536.3 598.7,537.4 600.1,538.5 601.4,539.6 602.7,540.6 604.1,541.7 605.4,542.8 606.7,543.9 608,545.1 609.4,546.2 610.7,547.3 612,548.4"/>
</g>
<rect class="ax" x="67.7" y="321.5" width="615.8" height="216.7"/>
<path class="tk" d="M104.8 538.2v-5M104.8 321.5v5M237.3 538.2v-5M237.3 321.5v5M369.9 538.2v-5M369.9 321.5v5M502.4 538.2v-5M502.4 321.5v5M635 538.2v-5M635 321.5v5M67.7 346.6h5M683.5 346.6h-5M67.7 389.8h5M683.5 389.8h-5M67.7 433h5M683.5 433h-5M67.7 476.2h5M683.5 476.2h-5M67.7 519h5M683.5 519h-5"/>
<text class="t" x="106.1" y="556.3" text-anchor="middle">100</text>
<text class="t" x="238.6" y="556.3" text-anchor="middle">200</text>
<text class="t" x="371.2" y="556.3" text-anchor="middle">300</text>
<text class="t" x="503.8" y="556.3" text-anchor="middle">400</text>
<text class="t" x="636.3" y="556.3" text-anchor="middle">500</text>
<text class="l" transform="translate(1.4 429.5) scale(.9 1)">B)</text>
<!-- panel C -->
<path class="ln" d="M61 641.7H680"/>
<path class="tk" d="M99.8 641.7v-5.3M232.4 641.7v-5.3M365.1 641.7v-5.3M497.8 641.7v-5.3M630.4 641.7v-5.3"/>
<text class="t" x="101.3" y="660.1" text-anchor="middle">100</text>
<text class="t" x="233.9" y="660.1" text-anchor="middle">200</text>
<text class="t" x="366.6" y="660.1" text-anchor="middle">300</text>
<text class="t" x="499.2" y="660.1" text-anchor="middle">400</text>
<text class="t" x="631.9" y="660.1" text-anchor="middle">500</text>
<text class="l" transform="translate(1 623.8) scale(.9 1)">C)</text>
<rect class="pill" x="149.5" y="602.5" width="198" height="28.2" rx="23" ry="14.1"/>
<text class="l" transform="translate(249.5 622.9) scale(.9 1)" text-anchor="middle">II</text>
<rect class="pill" x="356" y="602.5" width="198.1" height="28.2" rx="23" ry="14.1"/>
<text class="l" transform="translate(448.4 622.9) scale(.9 1)" text-anchor="middle">III</text>
<!-- panel D -->
<path class="ln" d="M61.2 741.9H680"/>
<path class="tk" d="M99.8 741.9v-5.3M232.4 741.9v-5.3M365.1 741.9v-5.3M497.8 741.9v-5.3M630.4 741.9v-5.3"/>
<text class="t" x="101.3" y="760.3" text-anchor="middle">100</text>
<text class="t" x="233.9" y="760.3" text-anchor="middle">200</text>
<text class="t" x="366.6" y="760.3" text-anchor="middle">300</text>
<text class="t" x="499.2" y="760.3" text-anchor="middle">400</text>
<text class="t" x="631.9" y="760.3" text-anchor="middle">500</text>
<text class="l" transform="translate(1.2 724.6) scale(.9 1)">D)</text>
<rect class="pill" x="284.7" y="703.1" width="198.1" height="28.4" rx="23" ry="14.2"/>
<text class="l" transform="translate(378.9 722.7) scale(.9 1)" text-anchor="middle">IV</text>
<!-- panel E -->
<path class="ln" d="M61.2 831.7H680"/>
<path class="tk" d="M99.8 831.7v-5.3M232.4 831.7v-5.3M365.1 831.7v-5.3M497.8 831.7v-5.3M630.4 831.7v-5.3"/>
<text class="t" x="101.3" y="850.3" text-anchor="middle">100</text>
<text class="t" x="233.9" y="850.3" text-anchor="middle">200</text>
<text class="t" x="366.6" y="850.3" text-anchor="middle">300</text>
<text class="t" x="499.2" y="850.3" text-anchor="middle">400</text>
<text class="t" x="631.9" y="850.3" text-anchor="middle">500</text>
<text class="l" transform="translate(1.2 813.8) scale(.9 1)">E)</text>
<rect class="pill" x="288.9" y="792.6" width="198.1" height="28.6" rx="23" ry="14.3"/>
<text class="l" transform="translate(381 812.2) scale(.9 1)" text-anchor="middle">V</text>
<!-- panel F -->
<path class="ln" d="M59.6 925.3H678"/>
<path class="tk" d="M98.4 925.3v-5.3M231 925.3v-5.3M363.6 925.3v-5.3M496.1 925.3v-5.3M628.7 925.3v-5.3"/>
<text class="t" x="99.9" y="944.5" text-anchor="middle">100</text>
<text class="t" x="232.5" y="944.5" text-anchor="middle">200</text>
<text class="t" x="365.1" y="944.5" text-anchor="middle">300</text>
<text class="t" x="497.6" y="944.5" text-anchor="middle">400</text>
<text class="t" x="630.2" y="944.5" text-anchor="middle">500</text>
<text class="l" transform="translate(0.2 907.9) scale(.9 1)">F)</text>
<rect class="pill" x="248.8" y="886.6" width="198.2" height="28.3" rx="23" ry="14.2"/>
<text class="l" transform="translate(342.8 906.2) scale(.9 1)" text-anchor="middle">VI</text>
</svg>
</body></html>
